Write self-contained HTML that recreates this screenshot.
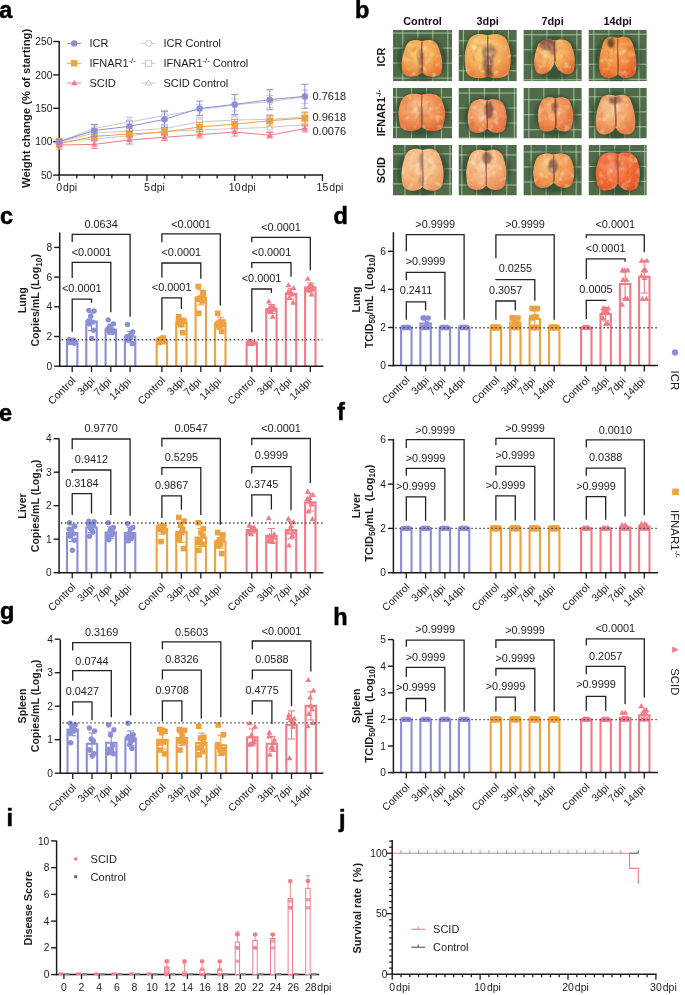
<!DOCTYPE html>
<html><head><meta charset="utf-8"><style>
html,body{margin:0;padding:0;background:#fff;overflow:hidden;}
svg{display:block;font-family:"Liberation Sans", sans-serif;-webkit-font-smoothing:antialiased;will-change:transform;}
</style></head><body>
<svg width="685" height="995" viewBox="0 0 685 995">
<rect width="685" height="995" fill="#fff"/>
<text x="-0.80" y="18.40" font-size="23.5" text-anchor="start" font-weight="bold" fill="#000" stroke="#000" stroke-width="0.5">a</text>
<line x1="59.20" y1="40.90" x2="59.20" y2="175.60" stroke="#1c1c1c" stroke-width="1.5" />
<line x1="58.50" y1="175.00" x2="323.15" y2="175.00" stroke="#1c1c1c" stroke-width="1.5" />
<line x1="53.20" y1="175.10" x2="59.20" y2="175.10" stroke="#1c1c1c" stroke-width="1.4" />
<text x="52.30" y="178.70" font-size="10.2" text-anchor="end" font-weight="normal" fill="#1c1c1c" >50</text>
<line x1="53.20" y1="141.70" x2="59.20" y2="141.70" stroke="#1c1c1c" stroke-width="1.4" />
<text x="52.30" y="145.30" font-size="10.2" text-anchor="end" font-weight="normal" fill="#1c1c1c" >100</text>
<line x1="53.20" y1="108.30" x2="59.20" y2="108.30" stroke="#1c1c1c" stroke-width="1.4" />
<text x="52.30" y="111.90" font-size="10.2" text-anchor="end" font-weight="normal" fill="#1c1c1c" >150</text>
<line x1="53.20" y1="74.90" x2="59.20" y2="74.90" stroke="#1c1c1c" stroke-width="1.4" />
<text x="52.30" y="78.50" font-size="10.2" text-anchor="end" font-weight="normal" fill="#1c1c1c" >200</text>
<line x1="53.20" y1="41.50" x2="59.20" y2="41.50" stroke="#1c1c1c" stroke-width="1.4" />
<text x="52.30" y="45.10" font-size="10.2" text-anchor="end" font-weight="normal" fill="#1c1c1c" >250</text>
<line x1="59.20" y1="175.00" x2="59.20" y2="181.00" stroke="#1c1c1c" stroke-width="1.3" />
<line x1="76.75" y1="175.00" x2="76.75" y2="178.50" stroke="#1c1c1c" stroke-width="1.3" />
<line x1="94.30" y1="175.00" x2="94.30" y2="178.50" stroke="#1c1c1c" stroke-width="1.3" />
<line x1="111.85" y1="175.00" x2="111.85" y2="178.50" stroke="#1c1c1c" stroke-width="1.3" />
<line x1="129.40" y1="175.00" x2="129.40" y2="178.50" stroke="#1c1c1c" stroke-width="1.3" />
<line x1="146.95" y1="175.00" x2="146.95" y2="181.00" stroke="#1c1c1c" stroke-width="1.3" />
<line x1="164.50" y1="175.00" x2="164.50" y2="178.50" stroke="#1c1c1c" stroke-width="1.3" />
<line x1="182.05" y1="175.00" x2="182.05" y2="178.50" stroke="#1c1c1c" stroke-width="1.3" />
<line x1="199.60" y1="175.00" x2="199.60" y2="178.50" stroke="#1c1c1c" stroke-width="1.3" />
<line x1="217.15" y1="175.00" x2="217.15" y2="178.50" stroke="#1c1c1c" stroke-width="1.3" />
<line x1="234.70" y1="175.00" x2="234.70" y2="181.00" stroke="#1c1c1c" stroke-width="1.3" />
<line x1="252.25" y1="175.00" x2="252.25" y2="178.50" stroke="#1c1c1c" stroke-width="1.3" />
<line x1="269.80" y1="175.00" x2="269.80" y2="178.50" stroke="#1c1c1c" stroke-width="1.3" />
<line x1="287.35" y1="175.00" x2="287.35" y2="178.50" stroke="#1c1c1c" stroke-width="1.3" />
<line x1="304.90" y1="175.00" x2="304.90" y2="178.50" stroke="#1c1c1c" stroke-width="1.3" />
<line x1="322.45" y1="175.00" x2="322.45" y2="181.00" stroke="#1c1c1c" stroke-width="1.3" />
<text x="56.28" y="191.30" font-size="10.5" fill="#1c1c1c">0<tspan dx="1">dpi</tspan></text>
<text x="144.03" y="191.30" font-size="10.5" fill="#1c1c1c">5<tspan dx="1">dpi</tspan></text>
<text x="228.86" y="191.30" font-size="10.5" fill="#1c1c1c">10<tspan dx="1">dpi</tspan></text>
<text x="316.61" y="191.30" font-size="10.5" fill="#1c1c1c">15<tspan dx="1">dpi</tspan></text>
<text transform="translate(30.2,108.4) rotate(-90)" font-size="11.3" font-weight="bold" text-anchor="middle" fill="#1c1c1c">Weight change (% of starting)</text>
<polyline points="59.20,141.70 94.30,128.34 129.40,121.93 164.50,115.65 199.60,109.64 234.70,104.96 269.80,101.62 304.90,96.94" fill="none" stroke="#c9c9c9" stroke-width="1.0" />
<line x1="59.20" y1="140.36" x2="59.20" y2="143.04" stroke="#c9c9c9" stroke-width="1" />
<line x1="55.70" y1="140.36" x2="62.70" y2="140.36" stroke="#c9c9c9" stroke-width="1" />
<line x1="55.70" y1="143.04" x2="62.70" y2="143.04" stroke="#c9c9c9" stroke-width="1" />
<line x1="94.30" y1="124.33" x2="94.30" y2="132.35" stroke="#c9c9c9" stroke-width="1" />
<line x1="90.80" y1="124.33" x2="97.80" y2="124.33" stroke="#c9c9c9" stroke-width="1" />
<line x1="90.80" y1="132.35" x2="97.80" y2="132.35" stroke="#c9c9c9" stroke-width="1" />
<line x1="129.40" y1="117.25" x2="129.40" y2="126.60" stroke="#c9c9c9" stroke-width="1" />
<line x1="125.90" y1="117.25" x2="132.90" y2="117.25" stroke="#c9c9c9" stroke-width="1" />
<line x1="125.90" y1="126.60" x2="132.90" y2="126.60" stroke="#c9c9c9" stroke-width="1" />
<line x1="164.50" y1="110.30" x2="164.50" y2="120.99" stroke="#c9c9c9" stroke-width="1" />
<line x1="161.00" y1="110.30" x2="168.00" y2="110.30" stroke="#c9c9c9" stroke-width="1" />
<line x1="161.00" y1="120.99" x2="168.00" y2="120.99" stroke="#c9c9c9" stroke-width="1" />
<line x1="199.60" y1="104.29" x2="199.60" y2="114.98" stroke="#c9c9c9" stroke-width="1" />
<line x1="196.10" y1="104.29" x2="203.10" y2="104.29" stroke="#c9c9c9" stroke-width="1" />
<line x1="196.10" y1="114.98" x2="203.10" y2="114.98" stroke="#c9c9c9" stroke-width="1" />
<line x1="234.70" y1="98.95" x2="234.70" y2="110.97" stroke="#c9c9c9" stroke-width="1" />
<line x1="231.20" y1="98.95" x2="238.20" y2="98.95" stroke="#c9c9c9" stroke-width="1" />
<line x1="231.20" y1="110.97" x2="238.20" y2="110.97" stroke="#c9c9c9" stroke-width="1" />
<line x1="269.80" y1="95.61" x2="269.80" y2="107.63" stroke="#c9c9c9" stroke-width="1" />
<line x1="266.30" y1="95.61" x2="273.30" y2="95.61" stroke="#c9c9c9" stroke-width="1" />
<line x1="266.30" y1="107.63" x2="273.30" y2="107.63" stroke="#c9c9c9" stroke-width="1" />
<line x1="304.90" y1="90.26" x2="304.90" y2="103.62" stroke="#c9c9c9" stroke-width="1" />
<line x1="301.40" y1="90.26" x2="308.40" y2="90.26" stroke="#c9c9c9" stroke-width="1" />
<line x1="301.40" y1="103.62" x2="308.40" y2="103.62" stroke="#c9c9c9" stroke-width="1" />
<circle cx="59.20" cy="141.70" r="3" fill="white" stroke="#c9c9c9" stroke-width="1"/>
<circle cx="94.30" cy="128.34" r="3" fill="white" stroke="#c9c9c9" stroke-width="1"/>
<circle cx="129.40" cy="121.93" r="3" fill="white" stroke="#c9c9c9" stroke-width="1"/>
<circle cx="164.50" cy="115.65" r="3" fill="white" stroke="#c9c9c9" stroke-width="1"/>
<circle cx="199.60" cy="109.64" r="3" fill="white" stroke="#c9c9c9" stroke-width="1"/>
<circle cx="234.70" cy="104.96" r="3" fill="white" stroke="#c9c9c9" stroke-width="1"/>
<circle cx="269.80" cy="101.62" r="3" fill="white" stroke="#c9c9c9" stroke-width="1"/>
<circle cx="304.90" cy="96.94" r="3" fill="white" stroke="#c9c9c9" stroke-width="1"/>
<polyline points="59.20,141.70 94.30,133.02 129.40,131.01 164.50,128.61 199.60,121.99 234.70,119.99 269.80,119.39 304.90,116.98" fill="none" stroke="#c9c9c9" stroke-width="1.0" />
<line x1="59.20" y1="140.36" x2="59.20" y2="143.04" stroke="#c9c9c9" stroke-width="1" />
<line x1="55.70" y1="140.36" x2="62.70" y2="140.36" stroke="#c9c9c9" stroke-width="1" />
<line x1="55.70" y1="143.04" x2="62.70" y2="143.04" stroke="#c9c9c9" stroke-width="1" />
<line x1="94.30" y1="129.68" x2="94.30" y2="136.36" stroke="#c9c9c9" stroke-width="1" />
<line x1="90.80" y1="129.68" x2="97.80" y2="129.68" stroke="#c9c9c9" stroke-width="1" />
<line x1="90.80" y1="136.36" x2="97.80" y2="136.36" stroke="#c9c9c9" stroke-width="1" />
<line x1="129.40" y1="127.00" x2="129.40" y2="135.02" stroke="#c9c9c9" stroke-width="1" />
<line x1="125.90" y1="127.00" x2="132.90" y2="127.00" stroke="#c9c9c9" stroke-width="1" />
<line x1="125.90" y1="135.02" x2="132.90" y2="135.02" stroke="#c9c9c9" stroke-width="1" />
<line x1="164.50" y1="124.60" x2="164.50" y2="132.62" stroke="#c9c9c9" stroke-width="1" />
<line x1="161.00" y1="124.60" x2="168.00" y2="124.60" stroke="#c9c9c9" stroke-width="1" />
<line x1="161.00" y1="132.62" x2="168.00" y2="132.62" stroke="#c9c9c9" stroke-width="1" />
<line x1="199.60" y1="117.99" x2="199.60" y2="126.00" stroke="#c9c9c9" stroke-width="1" />
<line x1="196.10" y1="117.99" x2="203.10" y2="117.99" stroke="#c9c9c9" stroke-width="1" />
<line x1="196.10" y1="126.00" x2="203.10" y2="126.00" stroke="#c9c9c9" stroke-width="1" />
<line x1="234.70" y1="115.31" x2="234.70" y2="124.67" stroke="#c9c9c9" stroke-width="1" />
<line x1="231.20" y1="115.31" x2="238.20" y2="115.31" stroke="#c9c9c9" stroke-width="1" />
<line x1="231.20" y1="124.67" x2="238.20" y2="124.67" stroke="#c9c9c9" stroke-width="1" />
<line x1="269.80" y1="114.71" x2="269.80" y2="124.06" stroke="#c9c9c9" stroke-width="1" />
<line x1="266.30" y1="114.71" x2="273.30" y2="114.71" stroke="#c9c9c9" stroke-width="1" />
<line x1="266.30" y1="124.06" x2="273.30" y2="124.06" stroke="#c9c9c9" stroke-width="1" />
<line x1="304.90" y1="112.31" x2="304.90" y2="121.66" stroke="#c9c9c9" stroke-width="1" />
<line x1="301.40" y1="112.31" x2="308.40" y2="112.31" stroke="#c9c9c9" stroke-width="1" />
<line x1="301.40" y1="121.66" x2="308.40" y2="121.66" stroke="#c9c9c9" stroke-width="1" />
<rect x="56.20" y="138.70" width="6" height="6" fill="white" stroke="#c9c9c9" stroke-width="1"/>
<rect x="91.30" y="130.02" width="6" height="6" fill="white" stroke="#c9c9c9" stroke-width="1"/>
<rect x="126.40" y="128.01" width="6" height="6" fill="white" stroke="#c9c9c9" stroke-width="1"/>
<rect x="161.50" y="125.61" width="6" height="6" fill="white" stroke="#c9c9c9" stroke-width="1"/>
<rect x="196.60" y="118.99" width="6" height="6" fill="white" stroke="#c9c9c9" stroke-width="1"/>
<rect x="231.70" y="116.99" width="6" height="6" fill="white" stroke="#c9c9c9" stroke-width="1"/>
<rect x="266.80" y="116.39" width="6" height="6" fill="white" stroke="#c9c9c9" stroke-width="1"/>
<rect x="301.90" y="113.98" width="6" height="6" fill="white" stroke="#c9c9c9" stroke-width="1"/>
<polyline points="59.20,141.70 94.30,139.03 129.40,135.69 164.50,131.35 199.60,130.01 234.70,128.61 269.80,127.34 304.90,124.67" fill="none" stroke="#c9c9c9" stroke-width="1.0" />
<line x1="59.20" y1="140.36" x2="59.20" y2="143.04" stroke="#c9c9c9" stroke-width="1" />
<line x1="55.70" y1="140.36" x2="62.70" y2="140.36" stroke="#c9c9c9" stroke-width="1" />
<line x1="55.70" y1="143.04" x2="62.70" y2="143.04" stroke="#c9c9c9" stroke-width="1" />
<line x1="94.30" y1="136.36" x2="94.30" y2="141.70" stroke="#c9c9c9" stroke-width="1" />
<line x1="90.80" y1="136.36" x2="97.80" y2="136.36" stroke="#c9c9c9" stroke-width="1" />
<line x1="90.80" y1="141.70" x2="97.80" y2="141.70" stroke="#c9c9c9" stroke-width="1" />
<line x1="129.40" y1="132.35" x2="129.40" y2="139.03" stroke="#c9c9c9" stroke-width="1" />
<line x1="125.90" y1="132.35" x2="132.90" y2="132.35" stroke="#c9c9c9" stroke-width="1" />
<line x1="125.90" y1="139.03" x2="132.90" y2="139.03" stroke="#c9c9c9" stroke-width="1" />
<line x1="164.50" y1="128.01" x2="164.50" y2="134.69" stroke="#c9c9c9" stroke-width="1" />
<line x1="161.00" y1="128.01" x2="168.00" y2="128.01" stroke="#c9c9c9" stroke-width="1" />
<line x1="161.00" y1="134.69" x2="168.00" y2="134.69" stroke="#c9c9c9" stroke-width="1" />
<line x1="199.60" y1="126.67" x2="199.60" y2="133.35" stroke="#c9c9c9" stroke-width="1" />
<line x1="196.10" y1="126.67" x2="203.10" y2="126.67" stroke="#c9c9c9" stroke-width="1" />
<line x1="196.10" y1="133.35" x2="203.10" y2="133.35" stroke="#c9c9c9" stroke-width="1" />
<line x1="234.70" y1="124.60" x2="234.70" y2="132.62" stroke="#c9c9c9" stroke-width="1" />
<line x1="231.20" y1="124.60" x2="238.20" y2="124.60" stroke="#c9c9c9" stroke-width="1" />
<line x1="231.20" y1="132.62" x2="238.20" y2="132.62" stroke="#c9c9c9" stroke-width="1" />
<line x1="269.80" y1="123.33" x2="269.80" y2="131.35" stroke="#c9c9c9" stroke-width="1" />
<line x1="266.30" y1="123.33" x2="273.30" y2="123.33" stroke="#c9c9c9" stroke-width="1" />
<line x1="266.30" y1="131.35" x2="273.30" y2="131.35" stroke="#c9c9c9" stroke-width="1" />
<line x1="304.90" y1="120.66" x2="304.90" y2="128.67" stroke="#c9c9c9" stroke-width="1" />
<line x1="301.40" y1="120.66" x2="308.40" y2="120.66" stroke="#c9c9c9" stroke-width="1" />
<line x1="301.40" y1="128.67" x2="308.40" y2="128.67" stroke="#c9c9c9" stroke-width="1" />
<polygon points="59.20,138.64 56.20,143.74 62.20,143.74" fill="white" stroke="#c9c9c9" stroke-width="1"/>
<polygon points="94.30,135.97 91.30,141.07 97.30,141.07" fill="white" stroke="#c9c9c9" stroke-width="1"/>
<polygon points="129.40,132.63 126.40,137.73 132.40,137.73" fill="white" stroke="#c9c9c9" stroke-width="1"/>
<polygon points="164.50,128.29 161.50,133.39 167.50,133.39" fill="white" stroke="#c9c9c9" stroke-width="1"/>
<polygon points="199.60,126.95 196.60,132.05 202.60,132.05" fill="white" stroke="#c9c9c9" stroke-width="1"/>
<polygon points="234.70,125.55 231.70,130.65 237.70,130.65" fill="white" stroke="#c9c9c9" stroke-width="1"/>
<polygon points="269.80,124.28 266.80,129.38 272.80,129.38" fill="white" stroke="#c9c9c9" stroke-width="1"/>
<polygon points="304.90,121.61 301.90,126.71 307.90,126.71" fill="white" stroke="#c9c9c9" stroke-width="1"/>
<polyline points="59.20,143.70 94.30,136.36 129.40,134.02 164.50,132.01 199.60,127.00 234.70,124.13 269.80,120.72 304.90,118.12" fill="none" stroke="#eea13f" stroke-width="1.0" />
<line x1="59.20" y1="138.36" x2="59.20" y2="149.05" stroke="#eea13f" stroke-width="1" />
<line x1="55.70" y1="138.36" x2="62.70" y2="138.36" stroke="#eea13f" stroke-width="1" />
<line x1="55.70" y1="149.05" x2="62.70" y2="149.05" stroke="#eea13f" stroke-width="1" />
<line x1="94.30" y1="133.02" x2="94.30" y2="139.70" stroke="#eea13f" stroke-width="1" />
<line x1="90.80" y1="133.02" x2="97.80" y2="133.02" stroke="#eea13f" stroke-width="1" />
<line x1="90.80" y1="139.70" x2="97.80" y2="139.70" stroke="#eea13f" stroke-width="1" />
<line x1="129.40" y1="130.68" x2="129.40" y2="137.36" stroke="#eea13f" stroke-width="1" />
<line x1="125.90" y1="130.68" x2="132.90" y2="130.68" stroke="#eea13f" stroke-width="1" />
<line x1="125.90" y1="137.36" x2="132.90" y2="137.36" stroke="#eea13f" stroke-width="1" />
<line x1="164.50" y1="128.67" x2="164.50" y2="135.35" stroke="#eea13f" stroke-width="1" />
<line x1="161.00" y1="128.67" x2="168.00" y2="128.67" stroke="#eea13f" stroke-width="1" />
<line x1="161.00" y1="135.35" x2="168.00" y2="135.35" stroke="#eea13f" stroke-width="1" />
<line x1="199.60" y1="122.33" x2="199.60" y2="131.68" stroke="#eea13f" stroke-width="1" />
<line x1="196.10" y1="122.33" x2="203.10" y2="122.33" stroke="#eea13f" stroke-width="1" />
<line x1="196.10" y1="131.68" x2="203.10" y2="131.68" stroke="#eea13f" stroke-width="1" />
<line x1="234.70" y1="119.46" x2="234.70" y2="128.81" stroke="#eea13f" stroke-width="1" />
<line x1="231.20" y1="119.46" x2="238.20" y2="119.46" stroke="#eea13f" stroke-width="1" />
<line x1="231.20" y1="128.81" x2="238.20" y2="128.81" stroke="#eea13f" stroke-width="1" />
<line x1="269.80" y1="115.38" x2="269.80" y2="126.07" stroke="#eea13f" stroke-width="1" />
<line x1="266.30" y1="115.38" x2="273.30" y2="115.38" stroke="#eea13f" stroke-width="1" />
<line x1="266.30" y1="126.07" x2="273.30" y2="126.07" stroke="#eea13f" stroke-width="1" />
<line x1="304.90" y1="112.11" x2="304.90" y2="124.13" stroke="#eea13f" stroke-width="1" />
<line x1="301.40" y1="112.11" x2="308.40" y2="112.11" stroke="#eea13f" stroke-width="1" />
<line x1="301.40" y1="124.13" x2="308.40" y2="124.13" stroke="#eea13f" stroke-width="1" />
<rect x="56.00" y="140.50" width="6.4" height="6.4" fill="#eea13f" stroke="none" stroke-width="1"/>
<rect x="91.10" y="133.16" width="6.4" height="6.4" fill="#eea13f" stroke="none" stroke-width="1"/>
<rect x="126.20" y="130.82" width="6.4" height="6.4" fill="#eea13f" stroke="none" stroke-width="1"/>
<rect x="161.30" y="128.81" width="6.4" height="6.4" fill="#eea13f" stroke="none" stroke-width="1"/>
<rect x="196.40" y="123.80" width="6.4" height="6.4" fill="#eea13f" stroke="none" stroke-width="1"/>
<rect x="231.50" y="120.93" width="6.4" height="6.4" fill="#eea13f" stroke="none" stroke-width="1"/>
<rect x="266.60" y="117.52" width="6.4" height="6.4" fill="#eea13f" stroke="none" stroke-width="1"/>
<rect x="301.70" y="114.92" width="6.4" height="6.4" fill="#eea13f" stroke="none" stroke-width="1"/>
<polyline points="59.20,145.04 94.30,144.37 129.40,140.03 164.50,137.29 199.60,134.69 234.70,132.01 269.80,135.22 304.90,128.61" fill="none" stroke="#f07c88" stroke-width="1.0" />
<line x1="59.20" y1="143.04" x2="59.20" y2="147.04" stroke="#f07c88" stroke-width="1" />
<line x1="55.70" y1="143.04" x2="62.70" y2="143.04" stroke="#f07c88" stroke-width="1" />
<line x1="55.70" y1="147.04" x2="62.70" y2="147.04" stroke="#f07c88" stroke-width="1" />
<line x1="94.30" y1="140.36" x2="94.30" y2="148.38" stroke="#f07c88" stroke-width="1" />
<line x1="90.80" y1="140.36" x2="97.80" y2="140.36" stroke="#f07c88" stroke-width="1" />
<line x1="90.80" y1="148.38" x2="97.80" y2="148.38" stroke="#f07c88" stroke-width="1" />
<line x1="129.40" y1="136.02" x2="129.40" y2="144.04" stroke="#f07c88" stroke-width="1" />
<line x1="125.90" y1="136.02" x2="132.90" y2="136.02" stroke="#f07c88" stroke-width="1" />
<line x1="125.90" y1="144.04" x2="132.90" y2="144.04" stroke="#f07c88" stroke-width="1" />
<line x1="164.50" y1="133.95" x2="164.50" y2="140.63" stroke="#f07c88" stroke-width="1" />
<line x1="161.00" y1="133.95" x2="168.00" y2="133.95" stroke="#f07c88" stroke-width="1" />
<line x1="161.00" y1="140.63" x2="168.00" y2="140.63" stroke="#f07c88" stroke-width="1" />
<line x1="199.60" y1="131.35" x2="199.60" y2="138.03" stroke="#f07c88" stroke-width="1" />
<line x1="196.10" y1="131.35" x2="203.10" y2="131.35" stroke="#f07c88" stroke-width="1" />
<line x1="196.10" y1="138.03" x2="203.10" y2="138.03" stroke="#f07c88" stroke-width="1" />
<line x1="234.70" y1="128.01" x2="234.70" y2="136.02" stroke="#f07c88" stroke-width="1" />
<line x1="231.20" y1="128.01" x2="238.20" y2="128.01" stroke="#f07c88" stroke-width="1" />
<line x1="231.20" y1="136.02" x2="238.20" y2="136.02" stroke="#f07c88" stroke-width="1" />
<line x1="269.80" y1="132.55" x2="269.80" y2="137.89" stroke="#f07c88" stroke-width="1" />
<line x1="266.30" y1="132.55" x2="273.30" y2="132.55" stroke="#f07c88" stroke-width="1" />
<line x1="266.30" y1="137.89" x2="273.30" y2="137.89" stroke="#f07c88" stroke-width="1" />
<line x1="304.90" y1="125.27" x2="304.90" y2="131.95" stroke="#f07c88" stroke-width="1" />
<line x1="301.40" y1="125.27" x2="308.40" y2="125.27" stroke="#f07c88" stroke-width="1" />
<line x1="301.40" y1="131.95" x2="308.40" y2="131.95" stroke="#f07c88" stroke-width="1" />
<polygon points="59.20,141.78 56.00,147.22 62.40,147.22" fill="#f07c88" stroke="none" stroke-width="1"/>
<polygon points="94.30,141.11 91.10,146.55 97.50,146.55" fill="#f07c88" stroke="none" stroke-width="1"/>
<polygon points="129.40,136.77 126.20,142.21 132.60,142.21" fill="#f07c88" stroke="none" stroke-width="1"/>
<polygon points="164.50,134.03 161.30,139.47 167.70,139.47" fill="#f07c88" stroke="none" stroke-width="1"/>
<polygon points="199.60,131.42 196.40,136.86 202.80,136.86" fill="#f07c88" stroke="none" stroke-width="1"/>
<polygon points="234.70,128.75 231.50,134.19 237.90,134.19" fill="#f07c88" stroke="none" stroke-width="1"/>
<polygon points="269.80,131.96 266.60,137.40 273.00,137.40" fill="#f07c88" stroke="none" stroke-width="1"/>
<polygon points="304.90,125.34 301.70,130.78 308.10,130.78" fill="#f07c88" stroke="none" stroke-width="1"/>
<polyline points="59.20,141.70 94.30,130.48 129.40,126.34 164.50,119.32 199.60,108.43 234.70,104.43 269.80,99.68 304.90,96.28" fill="none" stroke="#8b8fd7" stroke-width="1.0" />
<line x1="59.20" y1="139.70" x2="59.20" y2="143.70" stroke="#8b8fd7" stroke-width="1" />
<line x1="55.70" y1="139.70" x2="62.70" y2="139.70" stroke="#8b8fd7" stroke-width="1" />
<line x1="55.70" y1="143.70" x2="62.70" y2="143.70" stroke="#8b8fd7" stroke-width="1" />
<line x1="94.30" y1="124.47" x2="94.30" y2="136.49" stroke="#8b8fd7" stroke-width="1" />
<line x1="90.80" y1="124.47" x2="97.80" y2="124.47" stroke="#8b8fd7" stroke-width="1" />
<line x1="90.80" y1="136.49" x2="97.80" y2="136.49" stroke="#8b8fd7" stroke-width="1" />
<line x1="129.40" y1="120.99" x2="129.40" y2="131.68" stroke="#8b8fd7" stroke-width="1" />
<line x1="125.90" y1="120.99" x2="132.90" y2="120.99" stroke="#8b8fd7" stroke-width="1" />
<line x1="125.90" y1="131.68" x2="132.90" y2="131.68" stroke="#8b8fd7" stroke-width="1" />
<line x1="164.50" y1="111.31" x2="164.50" y2="127.34" stroke="#8b8fd7" stroke-width="1" />
<line x1="161.00" y1="111.31" x2="168.00" y2="111.31" stroke="#8b8fd7" stroke-width="1" />
<line x1="161.00" y1="127.34" x2="168.00" y2="127.34" stroke="#8b8fd7" stroke-width="1" />
<line x1="199.60" y1="101.09" x2="199.60" y2="115.78" stroke="#8b8fd7" stroke-width="1" />
<line x1="196.10" y1="101.09" x2="203.10" y2="101.09" stroke="#8b8fd7" stroke-width="1" />
<line x1="196.10" y1="115.78" x2="203.10" y2="115.78" stroke="#8b8fd7" stroke-width="1" />
<line x1="234.70" y1="94.41" x2="234.70" y2="114.45" stroke="#8b8fd7" stroke-width="1" />
<line x1="231.20" y1="94.41" x2="238.20" y2="94.41" stroke="#8b8fd7" stroke-width="1" />
<line x1="231.20" y1="114.45" x2="238.20" y2="114.45" stroke="#8b8fd7" stroke-width="1" />
<line x1="269.80" y1="89.66" x2="269.80" y2="109.70" stroke="#8b8fd7" stroke-width="1" />
<line x1="266.30" y1="89.66" x2="273.30" y2="89.66" stroke="#8b8fd7" stroke-width="1" />
<line x1="266.30" y1="109.70" x2="273.30" y2="109.70" stroke="#8b8fd7" stroke-width="1" />
<line x1="304.90" y1="84.25" x2="304.90" y2="108.30" stroke="#8b8fd7" stroke-width="1" />
<line x1="301.40" y1="84.25" x2="308.40" y2="84.25" stroke="#8b8fd7" stroke-width="1" />
<line x1="301.40" y1="108.30" x2="308.40" y2="108.30" stroke="#8b8fd7" stroke-width="1" />
<circle cx="59.20" cy="141.70" r="3.2" fill="#8b8fd7" stroke="none" stroke-width="1"/>
<circle cx="94.30" cy="130.48" r="3.2" fill="#8b8fd7" stroke="none" stroke-width="1"/>
<circle cx="129.40" cy="126.34" r="3.2" fill="#8b8fd7" stroke="none" stroke-width="1"/>
<circle cx="164.50" cy="119.32" r="3.2" fill="#8b8fd7" stroke="none" stroke-width="1"/>
<circle cx="199.60" cy="108.43" r="3.2" fill="#8b8fd7" stroke="none" stroke-width="1"/>
<circle cx="234.70" cy="104.43" r="3.2" fill="#8b8fd7" stroke="none" stroke-width="1"/>
<circle cx="269.80" cy="99.68" r="3.2" fill="#8b8fd7" stroke="none" stroke-width="1"/>
<circle cx="304.90" cy="96.28" r="3.2" fill="#8b8fd7" stroke="none" stroke-width="1"/>
<text x="312.50" y="99.50" font-size="11" text-anchor="start" font-weight="normal" fill="#1c1c1c" >0.7618</text>
<text x="312.50" y="121.30" font-size="11" text-anchor="start" font-weight="normal" fill="#1c1c1c" >0.9618</text>
<text x="312.50" y="134.60" font-size="11" text-anchor="start" font-weight="normal" fill="#1c1c1c" >0.0076</text>
<line x1="67.00" y1="43.40" x2="81.00" y2="43.40" stroke="#8b8fd7" stroke-width="1" />
<circle cx="74.20" cy="43.40" r="3.2" fill="#8b8fd7" stroke="none" stroke-width="1"/>
<text x="89.50" y="47.40" font-size="11" text-anchor="start" font-weight="normal" fill="#1c1c1c" >ICR</text>
<line x1="67.00" y1="63.30" x2="81.00" y2="63.30" stroke="#eea13f" stroke-width="1" />
<rect x="71.00" y="60.10" width="6.4" height="6.4" fill="#eea13f" stroke="none" stroke-width="1"/>
<text x="89.50" y="67.30" font-size="11" text-anchor="start" font-weight="normal" fill="#1c1c1c" >IFNAR1<tspan dy="-4" font-size="7.5">-/-</tspan></text>
<line x1="67.00" y1="83.00" x2="81.00" y2="83.00" stroke="#f07c88" stroke-width="1" />
<polygon points="74.20,79.74 71.00,85.18 77.40,85.18" fill="#f07c88" stroke="none" stroke-width="1"/>
<text x="89.50" y="87.00" font-size="11" text-anchor="start" font-weight="normal" fill="#1c1c1c" >SCID</text>
<line x1="141.50" y1="43.40" x2="155.50" y2="43.40" stroke="#c9c9c9" stroke-width="1" />
<circle cx="148.60" cy="43.40" r="3" fill="white" stroke="#c9c9c9" stroke-width="1"/>
<text x="163.50" y="47.40" font-size="11" text-anchor="start" font-weight="normal" fill="#1c1c1c" >ICR Control</text>
<line x1="141.50" y1="63.30" x2="155.50" y2="63.30" stroke="#c9c9c9" stroke-width="1" />
<rect x="145.60" y="60.30" width="6" height="6" fill="white" stroke="#c9c9c9" stroke-width="1"/>
<text x="163.50" y="67.30" font-size="11" text-anchor="start" font-weight="normal" fill="#1c1c1c" >IFNAR1<tspan dy="-4" font-size="7.5">-/-</tspan><tspan dy="4"> Control</tspan></text>
<line x1="141.50" y1="83.00" x2="155.50" y2="83.00" stroke="#c9c9c9" stroke-width="1" />
<polygon points="148.60,79.94 145.60,85.04 151.60,85.04" fill="white" stroke="#c9c9c9" stroke-width="1"/>
<text x="163.50" y="87.00" font-size="11" text-anchor="start" font-weight="normal" fill="#1c1c1c" >SCID Control</text>
<text x="0.00" y="223.60" font-size="23.5" text-anchor="start" font-weight="bold" fill="#000" stroke="#000" stroke-width="0.5">c</text>
<path d="M67.00,366.20 V341.70 H77.40 V366.20" fill="none" stroke="#8b8fd7" stroke-width="2.1"/>
<line x1="72.20" y1="340.51" x2="72.20" y2="342.89" stroke="#8b8fd7" stroke-width="1.1" />
<line x1="68.70" y1="340.51" x2="75.70" y2="340.51" stroke="#8b8fd7" stroke-width="1.1" />
<line x1="68.70" y1="342.89" x2="75.70" y2="342.89" stroke="#8b8fd7" stroke-width="1.1" />
<circle cx="69.60" cy="342.44" r="2.7" fill="#8b8fd7" stroke="none" stroke-width="1"/>
<circle cx="74.80" cy="341.70" r="2.7" fill="#8b8fd7" stroke="none" stroke-width="1"/>
<circle cx="71.40" cy="340.95" r="2.7" fill="#8b8fd7" stroke="none" stroke-width="1"/>
<circle cx="73.50" cy="340.21" r="2.7" fill="#8b8fd7" stroke="none" stroke-width="1"/>
<circle cx="70.20" cy="342.44" r="2.7" fill="#8b8fd7" stroke="none" stroke-width="1"/>
<circle cx="74.30" cy="343.18" r="2.7" fill="#8b8fd7" stroke="none" stroke-width="1"/>
<circle cx="72.40" cy="340.95" r="2.7" fill="#8b8fd7" stroke="none" stroke-width="1"/>
<circle cx="69.20" cy="339.47" r="2.7" fill="#8b8fd7" stroke="none" stroke-width="1"/>
<path d="M86.30,366.20 V321.65 H96.70 V366.20" fill="none" stroke="#8b8fd7" stroke-width="2.1"/>
<line x1="91.50" y1="312.74" x2="91.50" y2="330.56" stroke="#8b8fd7" stroke-width="1.1" />
<line x1="88.00" y1="312.74" x2="95.00" y2="312.74" stroke="#8b8fd7" stroke-width="1.1" />
<line x1="88.00" y1="330.56" x2="95.00" y2="330.56" stroke="#8b8fd7" stroke-width="1.1" />
<circle cx="88.90" cy="310.36" r="2.7" fill="#8b8fd7" stroke="none" stroke-width="1"/>
<circle cx="94.10" cy="310.96" r="2.7" fill="#8b8fd7" stroke="none" stroke-width="1"/>
<circle cx="90.70" cy="316.30" r="2.7" fill="#8b8fd7" stroke="none" stroke-width="1"/>
<circle cx="92.80" cy="322.10" r="2.7" fill="#8b8fd7" stroke="none" stroke-width="1"/>
<circle cx="89.50" cy="323.88" r="2.7" fill="#8b8fd7" stroke="none" stroke-width="1"/>
<circle cx="93.60" cy="330.26" r="2.7" fill="#8b8fd7" stroke="none" stroke-width="1"/>
<circle cx="91.70" cy="338.43" r="2.7" fill="#8b8fd7" stroke="none" stroke-width="1"/>
<circle cx="88.50" cy="320.91" r="2.7" fill="#8b8fd7" stroke="none" stroke-width="1"/>
<path d="M105.60,366.20 V329.82 H116.00 V366.20" fill="none" stroke="#8b8fd7" stroke-width="2.1"/>
<line x1="110.80" y1="325.36" x2="110.80" y2="334.27" stroke="#8b8fd7" stroke-width="1.1" />
<line x1="107.30" y1="325.36" x2="114.30" y2="325.36" stroke="#8b8fd7" stroke-width="1.1" />
<line x1="107.30" y1="334.27" x2="114.30" y2="334.27" stroke="#8b8fd7" stroke-width="1.1" />
<circle cx="108.20" cy="319.87" r="2.7" fill="#8b8fd7" stroke="none" stroke-width="1"/>
<circle cx="113.40" cy="323.88" r="2.7" fill="#8b8fd7" stroke="none" stroke-width="1"/>
<circle cx="110.00" cy="326.25" r="2.7" fill="#8b8fd7" stroke="none" stroke-width="1"/>
<circle cx="112.10" cy="329.67" r="2.7" fill="#8b8fd7" stroke="none" stroke-width="1"/>
<circle cx="108.80" cy="331.30" r="2.7" fill="#8b8fd7" stroke="none" stroke-width="1"/>
<circle cx="112.90" cy="332.05" r="2.7" fill="#8b8fd7" stroke="none" stroke-width="1"/>
<circle cx="111.00" cy="330.56" r="2.7" fill="#8b8fd7" stroke="none" stroke-width="1"/>
<circle cx="107.80" cy="329.07" r="2.7" fill="#8b8fd7" stroke="none" stroke-width="1"/>
<path d="M124.90,366.20 V336.50 H135.30 V366.20" fill="none" stroke="#8b8fd7" stroke-width="2.1"/>
<line x1="130.10" y1="331.30" x2="130.10" y2="341.70" stroke="#8b8fd7" stroke-width="1.1" />
<line x1="126.60" y1="331.30" x2="133.60" y2="331.30" stroke="#8b8fd7" stroke-width="1.1" />
<line x1="126.60" y1="341.70" x2="133.60" y2="341.70" stroke="#8b8fd7" stroke-width="1.1" />
<circle cx="127.50" cy="324.47" r="2.7" fill="#8b8fd7" stroke="none" stroke-width="1"/>
<circle cx="132.70" cy="332.05" r="2.7" fill="#8b8fd7" stroke="none" stroke-width="1"/>
<circle cx="129.30" cy="336.05" r="2.7" fill="#8b8fd7" stroke="none" stroke-width="1"/>
<circle cx="131.40" cy="334.27" r="2.7" fill="#8b8fd7" stroke="none" stroke-width="1"/>
<circle cx="128.10" cy="340.21" r="2.7" fill="#8b8fd7" stroke="none" stroke-width="1"/>
<circle cx="132.20" cy="343.63" r="2.7" fill="#8b8fd7" stroke="none" stroke-width="1"/>
<circle cx="130.30" cy="337.99" r="2.7" fill="#8b8fd7" stroke="none" stroke-width="1"/>
<circle cx="127.10" cy="336.50" r="2.7" fill="#8b8fd7" stroke="none" stroke-width="1"/>
<path d="M156.70,366.20 V340.21 H167.10 V366.20" fill="none" stroke="#eea13f" stroke-width="2.1"/>
<line x1="161.90" y1="338.73" x2="161.90" y2="341.70" stroke="#eea13f" stroke-width="1.1" />
<line x1="158.40" y1="338.73" x2="165.40" y2="338.73" stroke="#eea13f" stroke-width="1.1" />
<line x1="158.40" y1="341.70" x2="165.40" y2="341.70" stroke="#eea13f" stroke-width="1.1" />
<rect x="156.50" y="339.64" width="5.6" height="5.6" fill="#eea13f" stroke="none" stroke-width="1"/>
<rect x="161.70" y="338.15" width="5.6" height="5.6" fill="#eea13f" stroke="none" stroke-width="1"/>
<rect x="158.30" y="336.67" width="5.6" height="5.6" fill="#eea13f" stroke="none" stroke-width="1"/>
<rect x="160.40" y="335.19" width="5.6" height="5.6" fill="#eea13f" stroke="none" stroke-width="1"/>
<rect x="157.10" y="337.41" width="5.6" height="5.6" fill="#eea13f" stroke="none" stroke-width="1"/>
<rect x="161.20" y="338.90" width="5.6" height="5.6" fill="#eea13f" stroke="none" stroke-width="1"/>
<rect x="159.30" y="335.93" width="5.6" height="5.6" fill="#eea13f" stroke="none" stroke-width="1"/>
<rect x="156.10" y="337.41" width="5.6" height="5.6" fill="#eea13f" stroke="none" stroke-width="1"/>
<path d="M176.20,366.20 V322.39 H186.60 V366.20" fill="none" stroke="#eea13f" stroke-width="2.1"/>
<line x1="181.40" y1="317.94" x2="181.40" y2="326.85" stroke="#eea13f" stroke-width="1.1" />
<line x1="177.90" y1="317.94" x2="184.90" y2="317.94" stroke="#eea13f" stroke-width="1.1" />
<line x1="177.90" y1="326.85" x2="184.90" y2="326.85" stroke="#eea13f" stroke-width="1.1" />
<rect x="176.00" y="313.95" width="5.6" height="5.6" fill="#eea13f" stroke="none" stroke-width="1"/>
<rect x="181.20" y="318.11" width="5.6" height="5.6" fill="#eea13f" stroke="none" stroke-width="1"/>
<rect x="177.80" y="321.67" width="5.6" height="5.6" fill="#eea13f" stroke="none" stroke-width="1"/>
<rect x="179.90" y="329.84" width="5.6" height="5.6" fill="#eea13f" stroke="none" stroke-width="1"/>
<rect x="176.60" y="320.33" width="5.6" height="5.6" fill="#eea13f" stroke="none" stroke-width="1"/>
<rect x="180.70" y="318.85" width="5.6" height="5.6" fill="#eea13f" stroke="none" stroke-width="1"/>
<rect x="178.80" y="321.08" width="5.6" height="5.6" fill="#eea13f" stroke="none" stroke-width="1"/>
<rect x="175.60" y="317.36" width="5.6" height="5.6" fill="#eea13f" stroke="none" stroke-width="1"/>
<path d="M195.60,366.20 V297.44 H206.00 V366.20" fill="none" stroke="#eea13f" stroke-width="2.1"/>
<line x1="200.80" y1="290.02" x2="200.80" y2="304.87" stroke="#eea13f" stroke-width="1.1" />
<line x1="197.30" y1="290.02" x2="204.30" y2="290.02" stroke="#eea13f" stroke-width="1.1" />
<line x1="197.30" y1="304.87" x2="204.30" y2="304.87" stroke="#eea13f" stroke-width="1.1" />
<rect x="195.40" y="283.66" width="5.6" height="5.6" fill="#eea13f" stroke="none" stroke-width="1"/>
<rect x="200.60" y="290.04" width="5.6" height="5.6" fill="#eea13f" stroke="none" stroke-width="1"/>
<rect x="197.20" y="295.83" width="5.6" height="5.6" fill="#eea13f" stroke="none" stroke-width="1"/>
<rect x="199.30" y="298.21" width="5.6" height="5.6" fill="#eea13f" stroke="none" stroke-width="1"/>
<rect x="196.00" y="310.53" width="5.6" height="5.6" fill="#eea13f" stroke="none" stroke-width="1"/>
<rect x="200.10" y="292.12" width="5.6" height="5.6" fill="#eea13f" stroke="none" stroke-width="1"/>
<rect x="198.20" y="295.09" width="5.6" height="5.6" fill="#eea13f" stroke="none" stroke-width="1"/>
<rect x="195.00" y="296.57" width="5.6" height="5.6" fill="#eea13f" stroke="none" stroke-width="1"/>
<path d="M215.10,366.20 V323.13 H225.50 V366.20" fill="none" stroke="#eea13f" stroke-width="2.1"/>
<line x1="220.30" y1="317.19" x2="220.30" y2="329.07" stroke="#eea13f" stroke-width="1.1" />
<line x1="216.80" y1="317.19" x2="223.80" y2="317.19" stroke="#eea13f" stroke-width="1.1" />
<line x1="216.80" y1="329.07" x2="223.80" y2="329.07" stroke="#eea13f" stroke-width="1.1" />
<rect x="214.90" y="310.53" width="5.6" height="5.6" fill="#eea13f" stroke="none" stroke-width="1"/>
<rect x="220.10" y="319.15" width="5.6" height="5.6" fill="#eea13f" stroke="none" stroke-width="1"/>
<rect x="216.70" y="323.90" width="5.6" height="5.6" fill="#eea13f" stroke="none" stroke-width="1"/>
<rect x="218.80" y="328.65" width="5.6" height="5.6" fill="#eea13f" stroke="none" stroke-width="1"/>
<rect x="215.50" y="320.33" width="5.6" height="5.6" fill="#eea13f" stroke="none" stroke-width="1"/>
<rect x="219.60" y="321.82" width="5.6" height="5.6" fill="#eea13f" stroke="none" stroke-width="1"/>
<rect x="217.70" y="318.85" width="5.6" height="5.6" fill="#eea13f" stroke="none" stroke-width="1"/>
<rect x="214.50" y="323.31" width="5.6" height="5.6" fill="#eea13f" stroke="none" stroke-width="1"/>
<path d="M246.60,366.20 V342.44 H257.00 V366.20" fill="none" stroke="#f07c88" stroke-width="2.1"/>
<line x1="251.80" y1="341.40" x2="251.80" y2="343.48" stroke="#f07c88" stroke-width="1.1" />
<line x1="248.30" y1="341.40" x2="255.30" y2="341.40" stroke="#f07c88" stroke-width="1.1" />
<line x1="248.30" y1="343.48" x2="255.30" y2="343.48" stroke="#f07c88" stroke-width="1.1" />
<polygon points="249.20,340.87 246.20,345.97 252.20,345.97" fill="#f07c88" stroke="none" stroke-width="1"/>
<polygon points="254.40,339.38 251.40,344.48 257.40,344.48" fill="#f07c88" stroke="none" stroke-width="1"/>
<polygon points="251.00,337.89 248.00,343.00 254.00,343.00" fill="#f07c88" stroke="none" stroke-width="1"/>
<polygon points="253.10,340.12 250.10,345.22 256.10,345.22" fill="#f07c88" stroke="none" stroke-width="1"/>
<polygon points="249.80,338.64 246.80,343.74 252.80,343.74" fill="#f07c88" stroke="none" stroke-width="1"/>
<polygon points="253.90,339.38 250.90,344.48 256.90,344.48" fill="#f07c88" stroke="none" stroke-width="1"/>
<polygon points="252.00,340.87 249.00,345.97 255.00,345.97" fill="#f07c88" stroke="none" stroke-width="1"/>
<polygon points="248.80,337.89 245.80,343.00 251.80,343.00" fill="#f07c88" stroke="none" stroke-width="1"/>
<path d="M266.20,366.20 V309.03 H276.60 V366.20" fill="none" stroke="#f07c88" stroke-width="2.1"/>
<line x1="271.40" y1="304.57" x2="271.40" y2="313.48" stroke="#f07c88" stroke-width="1.1" />
<line x1="267.90" y1="304.57" x2="274.90" y2="304.57" stroke="#f07c88" stroke-width="1.1" />
<line x1="267.90" y1="313.48" x2="274.90" y2="313.48" stroke="#f07c88" stroke-width="1.1" />
<polygon points="268.80,298.39 265.80,303.49 271.80,303.49" fill="#f07c88" stroke="none" stroke-width="1"/>
<polygon points="274.00,304.33 271.00,309.43 277.00,309.43" fill="#f07c88" stroke="none" stroke-width="1"/>
<polygon points="270.60,307.90 267.60,313.00 273.60,313.00" fill="#f07c88" stroke="none" stroke-width="1"/>
<polygon points="272.70,313.69 269.70,318.79 275.70,318.79" fill="#f07c88" stroke="none" stroke-width="1"/>
<polygon points="269.40,305.22 266.40,310.32 272.40,310.32" fill="#f07c88" stroke="none" stroke-width="1"/>
<polygon points="273.50,306.71 270.50,311.81 276.50,311.81" fill="#f07c88" stroke="none" stroke-width="1"/>
<polygon points="271.60,303.74 268.60,308.84 274.60,308.84" fill="#f07c88" stroke="none" stroke-width="1"/>
<polygon points="268.40,308.19 265.40,313.30 271.40,313.30" fill="#f07c88" stroke="none" stroke-width="1"/>
<path d="M285.80,366.20 V293.88 H296.20 V366.20" fill="none" stroke="#f07c88" stroke-width="2.1"/>
<line x1="291.00" y1="288.68" x2="291.00" y2="299.08" stroke="#f07c88" stroke-width="1.1" />
<line x1="287.50" y1="288.68" x2="294.50" y2="288.68" stroke="#f07c88" stroke-width="1.1" />
<line x1="287.50" y1="299.08" x2="294.50" y2="299.08" stroke="#f07c88" stroke-width="1.1" />
<polygon points="288.40,282.21 285.40,287.31 291.40,287.31" fill="#f07c88" stroke="none" stroke-width="1"/>
<polygon points="293.60,285.03 290.60,290.13 296.60,290.13" fill="#f07c88" stroke="none" stroke-width="1"/>
<polygon points="290.20,288.59 287.20,293.69 293.20,293.69" fill="#f07c88" stroke="none" stroke-width="1"/>
<polygon points="292.30,291.41 289.30,296.51 295.30,296.51" fill="#f07c88" stroke="none" stroke-width="1"/>
<polygon points="289.00,294.98 286.00,300.08 292.00,300.08" fill="#f07c88" stroke="none" stroke-width="1"/>
<polygon points="293.10,299.58 290.10,304.68 296.10,304.68" fill="#f07c88" stroke="none" stroke-width="1"/>
<polygon points="291.20,290.38 288.20,295.48 294.20,295.48" fill="#f07c88" stroke="none" stroke-width="1"/>
<polygon points="288.00,288.89 285.00,293.99 291.00,293.99" fill="#f07c88" stroke="none" stroke-width="1"/>
<path d="M305.10,366.20 V287.50 H315.50 V366.20" fill="none" stroke="#f07c88" stroke-width="2.1"/>
<line x1="310.30" y1="283.04" x2="310.30" y2="291.95" stroke="#f07c88" stroke-width="1.1" />
<line x1="306.80" y1="283.04" x2="313.80" y2="283.04" stroke="#f07c88" stroke-width="1.1" />
<line x1="306.80" y1="291.95" x2="313.80" y2="291.95" stroke="#f07c88" stroke-width="1.1" />
<polygon points="307.70,275.67 304.70,280.77 310.70,280.77" fill="#f07c88" stroke="none" stroke-width="1"/>
<polygon points="312.90,283.40 309.90,288.50 315.90,288.50" fill="#f07c88" stroke="none" stroke-width="1"/>
<polygon points="309.50,286.81 306.50,291.91 312.50,291.91" fill="#f07c88" stroke="none" stroke-width="1"/>
<polygon points="311.60,291.41 308.60,296.51 314.60,296.51" fill="#f07c88" stroke="none" stroke-width="1"/>
<polygon points="308.30,284.44 305.30,289.54 311.30,289.54" fill="#f07c88" stroke="none" stroke-width="1"/>
<polygon points="312.40,285.92 309.40,291.02 315.40,291.02" fill="#f07c88" stroke="none" stroke-width="1"/>
<polygon points="310.50,281.46 307.50,286.56 313.50,286.56" fill="#f07c88" stroke="none" stroke-width="1"/>
<polygon points="307.30,287.40 304.30,292.50 310.30,292.50" fill="#f07c88" stroke="none" stroke-width="1"/>
<line x1="61.70" y1="339.70" x2="322.40" y2="339.70" stroke="#3a3a3a" stroke-width="1.35" stroke-dasharray="1.4 2.6"/>
<line x1="59.70" y1="232.40" x2="59.70" y2="366.90" stroke="#1c1c1c" stroke-width="1.5" />
<line x1="59.00" y1="366.20" x2="323.40" y2="366.20" stroke="#1c1c1c" stroke-width="1.5" />
<line x1="54.20" y1="366.20" x2="59.70" y2="366.20" stroke="#1c1c1c" stroke-width="1.4" />
<text x="52.20" y="369.80" font-size="10.2" text-anchor="end" font-weight="normal" fill="#1c1c1c" >0</text>
<line x1="54.20" y1="336.50" x2="59.70" y2="336.50" stroke="#1c1c1c" stroke-width="1.4" />
<text x="52.20" y="340.10" font-size="10.2" text-anchor="end" font-weight="normal" fill="#1c1c1c" >2</text>
<line x1="54.20" y1="306.80" x2="59.70" y2="306.80" stroke="#1c1c1c" stroke-width="1.4" />
<text x="52.20" y="310.40" font-size="10.2" text-anchor="end" font-weight="normal" fill="#1c1c1c" >4</text>
<line x1="54.20" y1="277.10" x2="59.70" y2="277.10" stroke="#1c1c1c" stroke-width="1.4" />
<text x="52.20" y="280.70" font-size="10.2" text-anchor="end" font-weight="normal" fill="#1c1c1c" >6</text>
<line x1="54.20" y1="247.40" x2="59.70" y2="247.40" stroke="#1c1c1c" stroke-width="1.4" />
<text x="52.20" y="251.00" font-size="10.2" text-anchor="end" font-weight="normal" fill="#1c1c1c" >8</text>
<line x1="72.20" y1="366.20" x2="72.20" y2="372.00" stroke="#1c1c1c" stroke-width="1.3" />
<text transform="translate(76.20,381.20) rotate(-45)" font-size="10.5" text-anchor="end" fill="#1c1c1c">Control</text>
<line x1="91.50" y1="366.20" x2="91.50" y2="372.00" stroke="#1c1c1c" stroke-width="1.3" />
<text transform="translate(95.50,381.70) rotate(-45)" font-size="10.5" text-anchor="end" fill="#1c1c1c">3dpi</text>
<line x1="110.80" y1="366.20" x2="110.80" y2="372.00" stroke="#1c1c1c" stroke-width="1.3" />
<text transform="translate(112.00,382.20) rotate(-45)" font-size="10.5" text-anchor="end" fill="#1c1c1c">7dpi</text>
<line x1="130.10" y1="366.20" x2="130.10" y2="372.00" stroke="#1c1c1c" stroke-width="1.3" />
<text transform="translate(131.60,382.40) rotate(-45)" font-size="10.5" text-anchor="end" fill="#1c1c1c">14dpi</text>
<line x1="161.90" y1="366.20" x2="161.90" y2="372.00" stroke="#1c1c1c" stroke-width="1.3" />
<text transform="translate(165.90,381.20) rotate(-45)" font-size="10.5" text-anchor="end" fill="#1c1c1c">Control</text>
<line x1="181.40" y1="366.20" x2="181.40" y2="372.00" stroke="#1c1c1c" stroke-width="1.3" />
<text transform="translate(185.40,381.70) rotate(-45)" font-size="10.5" text-anchor="end" fill="#1c1c1c">3dpi</text>
<line x1="200.80" y1="366.20" x2="200.80" y2="372.00" stroke="#1c1c1c" stroke-width="1.3" />
<text transform="translate(202.00,382.20) rotate(-45)" font-size="10.5" text-anchor="end" fill="#1c1c1c">7dpi</text>
<line x1="220.30" y1="366.20" x2="220.30" y2="372.00" stroke="#1c1c1c" stroke-width="1.3" />
<text transform="translate(221.80,382.40) rotate(-45)" font-size="10.5" text-anchor="end" fill="#1c1c1c">14dpi</text>
<line x1="251.80" y1="366.20" x2="251.80" y2="372.00" stroke="#1c1c1c" stroke-width="1.3" />
<text transform="translate(255.80,381.20) rotate(-45)" font-size="10.5" text-anchor="end" fill="#1c1c1c">Control</text>
<line x1="271.40" y1="366.20" x2="271.40" y2="372.00" stroke="#1c1c1c" stroke-width="1.3" />
<text transform="translate(275.40,381.70) rotate(-45)" font-size="10.5" text-anchor="end" fill="#1c1c1c">3dpi</text>
<line x1="291.00" y1="366.20" x2="291.00" y2="372.00" stroke="#1c1c1c" stroke-width="1.3" />
<text transform="translate(292.20,382.20) rotate(-45)" font-size="10.5" text-anchor="end" fill="#1c1c1c">7dpi</text>
<line x1="310.30" y1="366.20" x2="310.30" y2="372.00" stroke="#1c1c1c" stroke-width="1.3" />
<text transform="translate(311.80,382.40) rotate(-45)" font-size="10.5" text-anchor="end" fill="#1c1c1c">14dpi</text>
<path d="M72.20,241.90 V234.40 H130.10 V316.77" fill="none" stroke="#222" stroke-width="1.3"/>
<text x="101.15" y="227.70" font-size="10.9" text-anchor="middle" font-weight="normal" fill="#1c1c1c" >0.0634</text>
<path d="M72.20,278.10 V262.40 H110.80 V312.17" fill="none" stroke="#222" stroke-width="1.3"/>
<text x="91.50" y="255.90" font-size="10.9" text-anchor="middle" font-weight="normal" fill="#1c1c1c" >&lt;0.0001</text>
<path d="M72.20,331.77 V299.20 H91.50 V302.66" fill="none" stroke="#222" stroke-width="1.3"/>
<text x="81.85" y="292.10" font-size="10.9" text-anchor="middle" font-weight="normal" fill="#1c1c1c" >&lt;0.0001</text>
<path d="M161.90,242.30 V233.80 H220.30 V305.53" fill="none" stroke="#222" stroke-width="1.3"/>
<text x="191.10" y="227.70" font-size="10.9" text-anchor="middle" font-weight="normal" fill="#1c1c1c" >&lt;0.0001</text>
<path d="M161.90,277.40 V263.00 H200.80 V278.66" fill="none" stroke="#222" stroke-width="1.3"/>
<text x="181.35" y="256.30" font-size="10.9" text-anchor="middle" font-weight="normal" fill="#1c1c1c" >&lt;0.0001</text>
<path d="M161.90,330.19 V297.80 H181.40 V308.95" fill="none" stroke="#222" stroke-width="1.3"/>
<text x="171.65" y="291.40" font-size="10.9" text-anchor="middle" font-weight="normal" fill="#1c1c1c" >&lt;0.0001</text>
<path d="M251.80,242.30 V237.30 H310.30 V270.13" fill="none" stroke="#222" stroke-width="1.3"/>
<text x="281.05" y="230.60" font-size="10.9" text-anchor="middle" font-weight="normal" fill="#1c1c1c" >&lt;0.0001</text>
<path d="M251.80,268.00 V262.70 H291.00 V276.67" fill="none" stroke="#222" stroke-width="1.3"/>
<text x="271.40" y="256.30" font-size="10.9" text-anchor="middle" font-weight="normal" fill="#1c1c1c" >&lt;0.0001</text>
<path d="M251.80,332.35 V289.00 H271.40 V292.85" fill="none" stroke="#222" stroke-width="1.3"/>
<text x="261.60" y="282.00" font-size="10.9" text-anchor="middle" font-weight="normal" fill="#1c1c1c" >&lt;0.0001</text>
<text transform="translate(25.60,300.30) rotate(-90)" font-size="10.6" font-weight="bold" text-anchor="middle" fill="#1c1c1c">Lung</text>
<text transform="translate(39.00,300.30) rotate(-90)" font-size="10.6" font-weight="bold" text-anchor="middle" fill="#1c1c1c">Copies/mL (Log<tspan font-size="8.2" dy="2.6">10</tspan><tspan dy="-2.6">)</tspan></text>
<text x="333.50" y="223.90" font-size="23.5" text-anchor="start" font-weight="bold" fill="#000" stroke="#000" stroke-width="0.5">d</text>
<path d="M401.10,365.60 V327.50 H411.50 V365.60" fill="none" stroke="#8b8fd7" stroke-width="2.1"/>
<circle cx="403.70" cy="327.50" r="2.7" fill="#8b8fd7" stroke="none" stroke-width="1"/>
<circle cx="408.90" cy="327.50" r="2.7" fill="#8b8fd7" stroke="none" stroke-width="1"/>
<circle cx="405.50" cy="327.50" r="2.7" fill="#8b8fd7" stroke="none" stroke-width="1"/>
<circle cx="407.60" cy="327.50" r="2.7" fill="#8b8fd7" stroke="none" stroke-width="1"/>
<circle cx="404.30" cy="327.50" r="2.7" fill="#8b8fd7" stroke="none" stroke-width="1"/>
<circle cx="408.40" cy="327.50" r="2.7" fill="#8b8fd7" stroke="none" stroke-width="1"/>
<circle cx="406.50" cy="327.50" r="2.7" fill="#8b8fd7" stroke="none" stroke-width="1"/>
<circle cx="403.30" cy="327.50" r="2.7" fill="#8b8fd7" stroke="none" stroke-width="1"/>
<path d="M420.40,365.60 V323.50 H430.80 V365.60" fill="none" stroke="#8b8fd7" stroke-width="2.1"/>
<line x1="425.60" y1="318.74" x2="425.60" y2="328.26" stroke="#8b8fd7" stroke-width="1.1" />
<line x1="422.10" y1="318.74" x2="429.10" y2="318.74" stroke="#8b8fd7" stroke-width="1.1" />
<line x1="422.10" y1="328.26" x2="429.10" y2="328.26" stroke="#8b8fd7" stroke-width="1.1" />
<circle cx="423.00" cy="317.98" r="2.7" fill="#8b8fd7" stroke="none" stroke-width="1"/>
<circle cx="428.20" cy="317.98" r="2.7" fill="#8b8fd7" stroke="none" stroke-width="1"/>
<circle cx="424.80" cy="317.98" r="2.7" fill="#8b8fd7" stroke="none" stroke-width="1"/>
<circle cx="426.90" cy="323.69" r="2.7" fill="#8b8fd7" stroke="none" stroke-width="1"/>
<circle cx="423.60" cy="327.50" r="2.7" fill="#8b8fd7" stroke="none" stroke-width="1"/>
<circle cx="427.70" cy="327.50" r="2.7" fill="#8b8fd7" stroke="none" stroke-width="1"/>
<circle cx="425.80" cy="327.50" r="2.7" fill="#8b8fd7" stroke="none" stroke-width="1"/>
<circle cx="422.60" cy="327.50" r="2.7" fill="#8b8fd7" stroke="none" stroke-width="1"/>
<path d="M439.70,365.60 V327.50 H450.10 V365.60" fill="none" stroke="#8b8fd7" stroke-width="2.1"/>
<circle cx="442.30" cy="327.50" r="2.7" fill="#8b8fd7" stroke="none" stroke-width="1"/>
<circle cx="447.50" cy="327.50" r="2.7" fill="#8b8fd7" stroke="none" stroke-width="1"/>
<circle cx="444.10" cy="327.50" r="2.7" fill="#8b8fd7" stroke="none" stroke-width="1"/>
<circle cx="446.20" cy="327.50" r="2.7" fill="#8b8fd7" stroke="none" stroke-width="1"/>
<circle cx="442.90" cy="327.50" r="2.7" fill="#8b8fd7" stroke="none" stroke-width="1"/>
<circle cx="447.00" cy="327.50" r="2.7" fill="#8b8fd7" stroke="none" stroke-width="1"/>
<circle cx="445.10" cy="327.50" r="2.7" fill="#8b8fd7" stroke="none" stroke-width="1"/>
<circle cx="441.90" cy="327.50" r="2.7" fill="#8b8fd7" stroke="none" stroke-width="1"/>
<path d="M458.90,365.60 V327.50 H469.30 V365.60" fill="none" stroke="#8b8fd7" stroke-width="2.1"/>
<circle cx="461.50" cy="327.50" r="2.7" fill="#8b8fd7" stroke="none" stroke-width="1"/>
<circle cx="466.70" cy="327.50" r="2.7" fill="#8b8fd7" stroke="none" stroke-width="1"/>
<circle cx="463.30" cy="327.50" r="2.7" fill="#8b8fd7" stroke="none" stroke-width="1"/>
<circle cx="465.40" cy="327.50" r="2.7" fill="#8b8fd7" stroke="none" stroke-width="1"/>
<circle cx="462.10" cy="327.50" r="2.7" fill="#8b8fd7" stroke="none" stroke-width="1"/>
<circle cx="466.20" cy="327.50" r="2.7" fill="#8b8fd7" stroke="none" stroke-width="1"/>
<circle cx="464.30" cy="327.50" r="2.7" fill="#8b8fd7" stroke="none" stroke-width="1"/>
<circle cx="461.10" cy="327.50" r="2.7" fill="#8b8fd7" stroke="none" stroke-width="1"/>
<path d="M490.70,365.60 V327.50 H501.10 V365.60" fill="none" stroke="#eea13f" stroke-width="2.1"/>
<rect x="490.50" y="324.70" width="5.6" height="5.6" fill="#eea13f" stroke="none" stroke-width="1"/>
<rect x="495.70" y="324.70" width="5.6" height="5.6" fill="#eea13f" stroke="none" stroke-width="1"/>
<rect x="492.30" y="324.70" width="5.6" height="5.6" fill="#eea13f" stroke="none" stroke-width="1"/>
<rect x="494.40" y="324.70" width="5.6" height="5.6" fill="#eea13f" stroke="none" stroke-width="1"/>
<rect x="491.10" y="324.70" width="5.6" height="5.6" fill="#eea13f" stroke="none" stroke-width="1"/>
<rect x="495.20" y="324.70" width="5.6" height="5.6" fill="#eea13f" stroke="none" stroke-width="1"/>
<rect x="493.30" y="324.70" width="5.6" height="5.6" fill="#eea13f" stroke="none" stroke-width="1"/>
<rect x="490.10" y="324.70" width="5.6" height="5.6" fill="#eea13f" stroke="none" stroke-width="1"/>
<path d="M510.10,365.60 V322.55 H520.50 V365.60" fill="none" stroke="#eea13f" stroke-width="2.1"/>
<line x1="515.30" y1="318.36" x2="515.30" y2="326.74" stroke="#eea13f" stroke-width="1.1" />
<line x1="511.80" y1="318.36" x2="518.80" y2="318.36" stroke="#eea13f" stroke-width="1.1" />
<line x1="511.80" y1="326.74" x2="518.80" y2="326.74" stroke="#eea13f" stroke-width="1.1" />
<rect x="509.90" y="315.18" width="5.6" height="5.6" fill="#eea13f" stroke="none" stroke-width="1"/>
<rect x="515.10" y="315.18" width="5.6" height="5.6" fill="#eea13f" stroke="none" stroke-width="1"/>
<rect x="511.70" y="320.89" width="5.6" height="5.6" fill="#eea13f" stroke="none" stroke-width="1"/>
<rect x="513.80" y="320.89" width="5.6" height="5.6" fill="#eea13f" stroke="none" stroke-width="1"/>
<rect x="510.50" y="324.70" width="5.6" height="5.6" fill="#eea13f" stroke="none" stroke-width="1"/>
<rect x="514.60" y="324.70" width="5.6" height="5.6" fill="#eea13f" stroke="none" stroke-width="1"/>
<rect x="512.70" y="320.89" width="5.6" height="5.6" fill="#eea13f" stroke="none" stroke-width="1"/>
<rect x="509.50" y="315.18" width="5.6" height="5.6" fill="#eea13f" stroke="none" stroke-width="1"/>
<path d="M529.60,365.60 V318.93 H540.00 V365.60" fill="none" stroke="#eea13f" stroke-width="2.1"/>
<line x1="534.80" y1="310.93" x2="534.80" y2="326.93" stroke="#eea13f" stroke-width="1.1" />
<line x1="531.30" y1="310.93" x2="538.30" y2="310.93" stroke="#eea13f" stroke-width="1.1" />
<line x1="531.30" y1="326.93" x2="538.30" y2="326.93" stroke="#eea13f" stroke-width="1.1" />
<rect x="529.40" y="305.65" width="5.6" height="5.6" fill="#eea13f" stroke="none" stroke-width="1"/>
<rect x="534.60" y="305.65" width="5.6" height="5.6" fill="#eea13f" stroke="none" stroke-width="1"/>
<rect x="531.20" y="314.22" width="5.6" height="5.6" fill="#eea13f" stroke="none" stroke-width="1"/>
<rect x="533.30" y="314.22" width="5.6" height="5.6" fill="#eea13f" stroke="none" stroke-width="1"/>
<rect x="530.00" y="324.70" width="5.6" height="5.6" fill="#eea13f" stroke="none" stroke-width="1"/>
<rect x="534.10" y="324.70" width="5.6" height="5.6" fill="#eea13f" stroke="none" stroke-width="1"/>
<rect x="532.20" y="324.70" width="5.6" height="5.6" fill="#eea13f" stroke="none" stroke-width="1"/>
<rect x="529.00" y="315.18" width="5.6" height="5.6" fill="#eea13f" stroke="none" stroke-width="1"/>
<path d="M549.00,365.60 V327.50 H559.40 V365.60" fill="none" stroke="#eea13f" stroke-width="2.1"/>
<rect x="548.80" y="324.70" width="5.6" height="5.6" fill="#eea13f" stroke="none" stroke-width="1"/>
<rect x="554.00" y="324.70" width="5.6" height="5.6" fill="#eea13f" stroke="none" stroke-width="1"/>
<rect x="550.60" y="324.70" width="5.6" height="5.6" fill="#eea13f" stroke="none" stroke-width="1"/>
<rect x="552.70" y="324.70" width="5.6" height="5.6" fill="#eea13f" stroke="none" stroke-width="1"/>
<rect x="549.40" y="324.70" width="5.6" height="5.6" fill="#eea13f" stroke="none" stroke-width="1"/>
<rect x="553.50" y="324.70" width="5.6" height="5.6" fill="#eea13f" stroke="none" stroke-width="1"/>
<rect x="551.60" y="324.70" width="5.6" height="5.6" fill="#eea13f" stroke="none" stroke-width="1"/>
<rect x="548.40" y="324.70" width="5.6" height="5.6" fill="#eea13f" stroke="none" stroke-width="1"/>
<path d="M581.10,365.60 V327.50 H591.50 V365.60" fill="none" stroke="#f07c88" stroke-width="2.1"/>
<polygon points="583.70,324.44 580.70,329.54 586.70,329.54" fill="#f07c88" stroke="none" stroke-width="1"/>
<polygon points="588.90,324.44 585.90,329.54 591.90,329.54" fill="#f07c88" stroke="none" stroke-width="1"/>
<polygon points="585.50,324.44 582.50,329.54 588.50,329.54" fill="#f07c88" stroke="none" stroke-width="1"/>
<polygon points="587.60,324.44 584.60,329.54 590.60,329.54" fill="#f07c88" stroke="none" stroke-width="1"/>
<polygon points="584.30,324.44 581.30,329.54 587.30,329.54" fill="#f07c88" stroke="none" stroke-width="1"/>
<polygon points="588.40,324.44 585.40,329.54 591.40,329.54" fill="#f07c88" stroke="none" stroke-width="1"/>
<polygon points="586.50,324.44 583.50,329.54 589.50,329.54" fill="#f07c88" stroke="none" stroke-width="1"/>
<polygon points="583.30,324.44 580.30,329.54 586.30,329.54" fill="#f07c88" stroke="none" stroke-width="1"/>
<path d="M600.50,365.60 V314.17 H610.90 V365.60" fill="none" stroke="#f07c88" stroke-width="2.1"/>
<line x1="605.70" y1="307.50" x2="605.70" y2="320.83" stroke="#f07c88" stroke-width="1.1" />
<line x1="602.20" y1="307.50" x2="609.20" y2="307.50" stroke="#f07c88" stroke-width="1.1" />
<line x1="602.20" y1="320.83" x2="609.20" y2="320.83" stroke="#f07c88" stroke-width="1.1" />
<polygon points="603.10,305.39 600.10,310.49 606.10,310.49" fill="#f07c88" stroke="none" stroke-width="1"/>
<polygon points="608.30,305.39 605.30,310.49 611.30,310.49" fill="#f07c88" stroke="none" stroke-width="1"/>
<polygon points="604.90,305.39 601.90,310.49 607.90,310.49" fill="#f07c88" stroke="none" stroke-width="1"/>
<polygon points="607.00,308.25 604.00,313.35 610.00,313.35" fill="#f07c88" stroke="none" stroke-width="1"/>
<polygon points="603.70,308.25 600.70,313.35 606.70,313.35" fill="#f07c88" stroke="none" stroke-width="1"/>
<polygon points="607.80,320.63 604.80,325.73 610.80,325.73" fill="#f07c88" stroke="none" stroke-width="1"/>
<polygon points="605.90,320.63 602.90,325.73 608.90,325.73" fill="#f07c88" stroke="none" stroke-width="1"/>
<polygon points="602.70,314.92 599.70,320.02 605.70,320.02" fill="#f07c88" stroke="none" stroke-width="1"/>
<path d="M619.90,365.60 V284.07 H630.30 V365.60" fill="none" stroke="#f07c88" stroke-width="2.1"/>
<line x1="625.10" y1="269.78" x2="625.10" y2="298.35" stroke="#f07c88" stroke-width="1.1" />
<line x1="621.60" y1="269.78" x2="628.60" y2="269.78" stroke="#f07c88" stroke-width="1.1" />
<line x1="621.60" y1="298.35" x2="628.60" y2="298.35" stroke="#f07c88" stroke-width="1.1" />
<polygon points="622.50,267.29 619.50,272.39 625.50,272.39" fill="#f07c88" stroke="none" stroke-width="1"/>
<polygon points="627.70,267.29 624.70,272.39 630.70,272.39" fill="#f07c88" stroke="none" stroke-width="1"/>
<polygon points="624.30,267.29 621.30,272.39 627.30,272.39" fill="#f07c88" stroke="none" stroke-width="1"/>
<polygon points="626.40,276.81 623.40,281.92 629.40,281.92" fill="#f07c88" stroke="none" stroke-width="1"/>
<polygon points="623.10,276.81 620.10,281.92 626.10,281.92" fill="#f07c88" stroke="none" stroke-width="1"/>
<polygon points="627.20,295.87 624.20,300.97 630.20,300.97" fill="#f07c88" stroke="none" stroke-width="1"/>
<polygon points="625.30,295.87 622.30,300.97 628.30,300.97" fill="#f07c88" stroke="none" stroke-width="1"/>
<polygon points="622.10,301.58 619.10,306.68 625.10,306.68" fill="#f07c88" stroke="none" stroke-width="1"/>
<path d="M639.10,365.60 V276.83 H649.50 V365.60" fill="none" stroke="#f07c88" stroke-width="2.1"/>
<line x1="644.30" y1="260.63" x2="644.30" y2="293.02" stroke="#f07c88" stroke-width="1.1" />
<line x1="640.80" y1="260.63" x2="647.80" y2="260.63" stroke="#f07c88" stroke-width="1.1" />
<line x1="640.80" y1="293.02" x2="647.80" y2="293.02" stroke="#f07c88" stroke-width="1.1" />
<polygon points="641.70,257.77 638.70,262.87 644.70,262.87" fill="#f07c88" stroke="none" stroke-width="1"/>
<polygon points="646.90,257.77 643.90,262.87 649.90,262.87" fill="#f07c88" stroke="none" stroke-width="1"/>
<polygon points="643.50,267.29 640.50,272.39 646.50,272.39" fill="#f07c88" stroke="none" stroke-width="1"/>
<polygon points="645.60,267.29 642.60,272.39 648.60,272.39" fill="#f07c88" stroke="none" stroke-width="1"/>
<polygon points="642.30,295.87 639.30,300.97 645.30,300.97" fill="#f07c88" stroke="none" stroke-width="1"/>
<polygon points="646.40,295.87 643.40,300.97 649.40,300.97" fill="#f07c88" stroke="none" stroke-width="1"/>
<polygon points="644.50,274.91 641.50,280.01 647.50,280.01" fill="#f07c88" stroke="none" stroke-width="1"/>
<polygon points="641.30,273.00 638.30,278.11 644.30,278.11" fill="#f07c88" stroke="none" stroke-width="1"/>
<line x1="395.40" y1="327.70" x2="657.00" y2="327.70" stroke="#3a3a3a" stroke-width="1.35" stroke-dasharray="1.4 2.6"/>
<line x1="393.40" y1="232.20" x2="393.40" y2="366.30" stroke="#1c1c1c" stroke-width="1.5" />
<line x1="392.70" y1="365.60" x2="658.00" y2="365.60" stroke="#1c1c1c" stroke-width="1.5" />
<line x1="387.90" y1="365.60" x2="393.40" y2="365.60" stroke="#1c1c1c" stroke-width="1.4" />
<text x="385.90" y="369.20" font-size="10.2" text-anchor="end" font-weight="normal" fill="#1c1c1c" >0</text>
<line x1="387.90" y1="327.50" x2="393.40" y2="327.50" stroke="#1c1c1c" stroke-width="1.4" />
<text x="385.90" y="331.10" font-size="10.2" text-anchor="end" font-weight="normal" fill="#1c1c1c" >2</text>
<line x1="387.90" y1="289.40" x2="393.40" y2="289.40" stroke="#1c1c1c" stroke-width="1.4" />
<text x="385.90" y="293.00" font-size="10.2" text-anchor="end" font-weight="normal" fill="#1c1c1c" >4</text>
<line x1="387.90" y1="251.30" x2="393.40" y2="251.30" stroke="#1c1c1c" stroke-width="1.4" />
<text x="385.90" y="254.90" font-size="10.2" text-anchor="end" font-weight="normal" fill="#1c1c1c" >6</text>
<line x1="406.30" y1="365.60" x2="406.30" y2="371.40" stroke="#1c1c1c" stroke-width="1.3" />
<text transform="translate(410.30,380.60) rotate(-45)" font-size="10.5" text-anchor="end" fill="#1c1c1c">Control</text>
<line x1="425.60" y1="365.60" x2="425.60" y2="371.40" stroke="#1c1c1c" stroke-width="1.3" />
<text transform="translate(429.60,381.10) rotate(-45)" font-size="10.5" text-anchor="end" fill="#1c1c1c">3dpi</text>
<line x1="444.90" y1="365.60" x2="444.90" y2="371.40" stroke="#1c1c1c" stroke-width="1.3" />
<text transform="translate(446.10,381.60) rotate(-45)" font-size="10.5" text-anchor="end" fill="#1c1c1c">7dpi</text>
<line x1="464.10" y1="365.60" x2="464.10" y2="371.40" stroke="#1c1c1c" stroke-width="1.3" />
<text transform="translate(465.60,381.80) rotate(-45)" font-size="10.5" text-anchor="end" fill="#1c1c1c">14dpi</text>
<line x1="495.90" y1="365.60" x2="495.90" y2="371.40" stroke="#1c1c1c" stroke-width="1.3" />
<text transform="translate(499.90,380.60) rotate(-45)" font-size="10.5" text-anchor="end" fill="#1c1c1c">Control</text>
<line x1="515.30" y1="365.60" x2="515.30" y2="371.40" stroke="#1c1c1c" stroke-width="1.3" />
<text transform="translate(519.30,381.10) rotate(-45)" font-size="10.5" text-anchor="end" fill="#1c1c1c">3dpi</text>
<line x1="534.80" y1="365.60" x2="534.80" y2="371.40" stroke="#1c1c1c" stroke-width="1.3" />
<text transform="translate(536.00,381.60) rotate(-45)" font-size="10.5" text-anchor="end" fill="#1c1c1c">7dpi</text>
<line x1="554.20" y1="365.60" x2="554.20" y2="371.40" stroke="#1c1c1c" stroke-width="1.3" />
<text transform="translate(555.70,381.80) rotate(-45)" font-size="10.5" text-anchor="end" fill="#1c1c1c">14dpi</text>
<line x1="586.30" y1="365.60" x2="586.30" y2="371.40" stroke="#1c1c1c" stroke-width="1.3" />
<text transform="translate(590.30,380.60) rotate(-45)" font-size="10.5" text-anchor="end" fill="#1c1c1c">Control</text>
<line x1="605.70" y1="365.60" x2="605.70" y2="371.40" stroke="#1c1c1c" stroke-width="1.3" />
<text transform="translate(609.70,381.10) rotate(-45)" font-size="10.5" text-anchor="end" fill="#1c1c1c">3dpi</text>
<line x1="625.10" y1="365.60" x2="625.10" y2="371.40" stroke="#1c1c1c" stroke-width="1.3" />
<text transform="translate(626.30,381.60) rotate(-45)" font-size="10.5" text-anchor="end" fill="#1c1c1c">7dpi</text>
<line x1="644.30" y1="365.60" x2="644.30" y2="371.40" stroke="#1c1c1c" stroke-width="1.3" />
<text transform="translate(645.80,381.80) rotate(-45)" font-size="10.5" text-anchor="end" fill="#1c1c1c">14dpi</text>
<path d="M406.30,251.20 V234.70 H464.10 V319.80" fill="none" stroke="#222" stroke-width="1.3"/>
<text x="435.20" y="228.00" font-size="10.9" text-anchor="middle" font-weight="normal" fill="#1c1c1c" >&gt;0.9999</text>
<path d="M406.30,280.30 V272.40 H444.90 V319.80" fill="none" stroke="#222" stroke-width="1.3"/>
<text x="425.60" y="265.20" font-size="10.9" text-anchor="middle" font-weight="normal" fill="#1c1c1c" >&gt;0.9999</text>
<path d="M406.30,319.80 V301.80 H425.60 V310.28" fill="none" stroke="#222" stroke-width="1.3"/>
<text x="415.95" y="294.30" font-size="10.9" text-anchor="middle" font-weight="normal" fill="#1c1c1c" >0.2411</text>
<path d="M495.90,258.20 V234.80 H554.20 V319.70" fill="none" stroke="#222" stroke-width="1.3"/>
<text x="525.05" y="227.90" font-size="10.9" text-anchor="middle" font-weight="normal" fill="#1c1c1c" >&gt;0.9999</text>
<path d="M495.90,280.10 V279.70 H534.80 V300.65" fill="none" stroke="#222" stroke-width="1.3"/>
<text x="515.35" y="272.20" font-size="10.9" text-anchor="middle" font-weight="normal" fill="#1c1c1c" >0.0255</text>
<path d="M495.90,319.70 V301.00 H515.30 V310.18" fill="none" stroke="#222" stroke-width="1.3"/>
<text x="505.60" y="294.10" font-size="10.9" text-anchor="middle" font-weight="normal" fill="#1c1c1c" >0.3057</text>
<path d="M586.30,237.90 V234.80 H644.30 V252.23" fill="none" stroke="#222" stroke-width="1.3"/>
<text x="615.30" y="227.90" font-size="10.9" text-anchor="middle" font-weight="normal" fill="#1c1c1c" >&lt;0.0001</text>
<path d="M586.30,279.20 V258.80 H625.10 V261.75" fill="none" stroke="#222" stroke-width="1.3"/>
<text x="605.70" y="251.90" font-size="10.9" text-anchor="middle" font-weight="normal" fill="#1c1c1c" >&lt;0.0001</text>
<path d="M586.30,318.90 V300.40 H605.70 V299.85" fill="none" stroke="#222" stroke-width="1.3"/>
<text x="596.00" y="293.20" font-size="10.9" text-anchor="middle" font-weight="normal" fill="#1c1c1c" >0.0005</text>
<text transform="translate(359.80,299.50) rotate(-90)" font-size="10.6" font-weight="bold" text-anchor="middle" fill="#1c1c1c">Lung</text>
<text transform="translate(372.80,301.20) rotate(-90)" font-size="10.6" font-weight="bold" text-anchor="middle" fill="#1c1c1c">TCID<tspan font-size="8.2" dy="2.6">50</tspan><tspan dy="-2.6">/mL&#160; (Log</tspan><tspan font-size="8.2" dy="2.6">10</tspan><tspan dy="-2.6">)</tspan></text>
<text x="-1.00" y="421.00" font-size="23.5" text-anchor="start" font-weight="bold" fill="#000" stroke="#000" stroke-width="0.5">e</text>
<path d="M67.00,572.70 V533.17 H77.40 V572.70" fill="none" stroke="#8b8fd7" stroke-width="2.1"/>
<line x1="72.20" y1="524.80" x2="72.20" y2="541.55" stroke="#8b8fd7" stroke-width="1.1" />
<line x1="68.70" y1="524.80" x2="75.70" y2="524.80" stroke="#8b8fd7" stroke-width="1.1" />
<line x1="68.70" y1="541.55" x2="75.70" y2="541.55" stroke="#8b8fd7" stroke-width="1.1" />
<circle cx="69.60" cy="522.79" r="2.7" fill="#8b8fd7" stroke="none" stroke-width="1"/>
<circle cx="74.80" cy="526.13" r="2.7" fill="#8b8fd7" stroke="none" stroke-width="1"/>
<circle cx="71.40" cy="529.82" r="2.7" fill="#8b8fd7" stroke="none" stroke-width="1"/>
<circle cx="73.50" cy="533.84" r="2.7" fill="#8b8fd7" stroke="none" stroke-width="1"/>
<circle cx="70.20" cy="536.19" r="2.7" fill="#8b8fd7" stroke="none" stroke-width="1"/>
<circle cx="74.30" cy="540.21" r="2.7" fill="#8b8fd7" stroke="none" stroke-width="1"/>
<circle cx="72.40" cy="550.25" r="2.7" fill="#8b8fd7" stroke="none" stroke-width="1"/>
<circle cx="69.20" cy="529.15" r="2.7" fill="#8b8fd7" stroke="none" stroke-width="1"/>
<path d="M86.30,572.70 V527.48 H96.70 V572.70" fill="none" stroke="#8b8fd7" stroke-width="2.1"/>
<line x1="91.50" y1="522.45" x2="91.50" y2="532.50" stroke="#8b8fd7" stroke-width="1.1" />
<line x1="88.00" y1="522.45" x2="95.00" y2="522.45" stroke="#8b8fd7" stroke-width="1.1" />
<line x1="88.00" y1="532.50" x2="95.00" y2="532.50" stroke="#8b8fd7" stroke-width="1.1" />
<circle cx="88.90" cy="521.11" r="2.7" fill="#8b8fd7" stroke="none" stroke-width="1"/>
<circle cx="94.10" cy="521.78" r="2.7" fill="#8b8fd7" stroke="none" stroke-width="1"/>
<circle cx="90.70" cy="528.15" r="2.7" fill="#8b8fd7" stroke="none" stroke-width="1"/>
<circle cx="92.80" cy="532.17" r="2.7" fill="#8b8fd7" stroke="none" stroke-width="1"/>
<circle cx="89.50" cy="536.19" r="2.7" fill="#8b8fd7" stroke="none" stroke-width="1"/>
<circle cx="93.60" cy="525.80" r="2.7" fill="#8b8fd7" stroke="none" stroke-width="1"/>
<circle cx="91.70" cy="529.15" r="2.7" fill="#8b8fd7" stroke="none" stroke-width="1"/>
<circle cx="88.50" cy="524.12" r="2.7" fill="#8b8fd7" stroke="none" stroke-width="1"/>
<path d="M105.60,572.70 V532.50 H116.00 V572.70" fill="none" stroke="#8b8fd7" stroke-width="2.1"/>
<line x1="110.80" y1="526.81" x2="110.80" y2="538.20" stroke="#8b8fd7" stroke-width="1.1" />
<line x1="107.30" y1="526.81" x2="114.30" y2="526.81" stroke="#8b8fd7" stroke-width="1.1" />
<line x1="107.30" y1="538.20" x2="114.30" y2="538.20" stroke="#8b8fd7" stroke-width="1.1" />
<circle cx="108.20" cy="522.79" r="2.7" fill="#8b8fd7" stroke="none" stroke-width="1"/>
<circle cx="113.40" cy="527.48" r="2.7" fill="#8b8fd7" stroke="none" stroke-width="1"/>
<circle cx="110.00" cy="530.83" r="2.7" fill="#8b8fd7" stroke="none" stroke-width="1"/>
<circle cx="112.10" cy="534.85" r="2.7" fill="#8b8fd7" stroke="none" stroke-width="1"/>
<circle cx="108.80" cy="539.87" r="2.7" fill="#8b8fd7" stroke="none" stroke-width="1"/>
<circle cx="112.90" cy="532.50" r="2.7" fill="#8b8fd7" stroke="none" stroke-width="1"/>
<circle cx="111.00" cy="529.15" r="2.7" fill="#8b8fd7" stroke="none" stroke-width="1"/>
<circle cx="107.80" cy="535.85" r="2.7" fill="#8b8fd7" stroke="none" stroke-width="1"/>
<path d="M124.90,572.70 V533.17 H135.30 V572.70" fill="none" stroke="#8b8fd7" stroke-width="2.1"/>
<line x1="130.10" y1="527.14" x2="130.10" y2="539.20" stroke="#8b8fd7" stroke-width="1.1" />
<line x1="126.60" y1="527.14" x2="133.60" y2="527.14" stroke="#8b8fd7" stroke-width="1.1" />
<line x1="126.60" y1="539.20" x2="133.60" y2="539.20" stroke="#8b8fd7" stroke-width="1.1" />
<circle cx="127.50" cy="523.46" r="2.7" fill="#8b8fd7" stroke="none" stroke-width="1"/>
<circle cx="132.70" cy="527.48" r="2.7" fill="#8b8fd7" stroke="none" stroke-width="1"/>
<circle cx="129.30" cy="533.17" r="2.7" fill="#8b8fd7" stroke="none" stroke-width="1"/>
<circle cx="131.40" cy="538.53" r="2.7" fill="#8b8fd7" stroke="none" stroke-width="1"/>
<circle cx="128.10" cy="540.88" r="2.7" fill="#8b8fd7" stroke="none" stroke-width="1"/>
<circle cx="132.20" cy="535.85" r="2.7" fill="#8b8fd7" stroke="none" stroke-width="1"/>
<circle cx="130.30" cy="529.15" r="2.7" fill="#8b8fd7" stroke="none" stroke-width="1"/>
<circle cx="127.10" cy="537.53" r="2.7" fill="#8b8fd7" stroke="none" stroke-width="1"/>
<path d="M156.70,572.70 V529.15 H167.10 V572.70" fill="none" stroke="#eea13f" stroke-width="2.1"/>
<line x1="161.90" y1="524.12" x2="161.90" y2="534.18" stroke="#eea13f" stroke-width="1.1" />
<line x1="158.40" y1="524.12" x2="165.40" y2="524.12" stroke="#eea13f" stroke-width="1.1" />
<line x1="158.40" y1="534.18" x2="165.40" y2="534.18" stroke="#eea13f" stroke-width="1.1" />
<rect x="156.50" y="524.68" width="5.6" height="5.6" fill="#eea13f" stroke="none" stroke-width="1"/>
<rect x="161.70" y="528.36" width="5.6" height="5.6" fill="#eea13f" stroke="none" stroke-width="1"/>
<rect x="158.30" y="538.75" width="5.6" height="5.6" fill="#eea13f" stroke="none" stroke-width="1"/>
<rect x="160.40" y="523.00" width="5.6" height="5.6" fill="#eea13f" stroke="none" stroke-width="1"/>
<rect x="157.10" y="526.35" width="5.6" height="5.6" fill="#eea13f" stroke="none" stroke-width="1"/>
<rect x="161.20" y="523.67" width="5.6" height="5.6" fill="#eea13f" stroke="none" stroke-width="1"/>
<rect x="159.30" y="527.02" width="5.6" height="5.6" fill="#eea13f" stroke="none" stroke-width="1"/>
<rect x="156.10" y="524.68" width="5.6" height="5.6" fill="#eea13f" stroke="none" stroke-width="1"/>
<path d="M176.20,572.70 V532.17 H186.60 V572.70" fill="none" stroke="#eea13f" stroke-width="2.1"/>
<line x1="181.40" y1="522.12" x2="181.40" y2="542.22" stroke="#eea13f" stroke-width="1.1" />
<line x1="177.90" y1="522.12" x2="184.90" y2="522.12" stroke="#eea13f" stroke-width="1.1" />
<line x1="177.90" y1="542.22" x2="184.90" y2="542.22" stroke="#eea13f" stroke-width="1.1" />
<rect x="176.00" y="514.63" width="5.6" height="5.6" fill="#eea13f" stroke="none" stroke-width="1"/>
<rect x="181.20" y="518.31" width="5.6" height="5.6" fill="#eea13f" stroke="none" stroke-width="1"/>
<rect x="177.80" y="522.33" width="5.6" height="5.6" fill="#eea13f" stroke="none" stroke-width="1"/>
<rect x="179.90" y="526.35" width="5.6" height="5.6" fill="#eea13f" stroke="none" stroke-width="1"/>
<rect x="176.60" y="537.07" width="5.6" height="5.6" fill="#eea13f" stroke="none" stroke-width="1"/>
<rect x="180.70" y="545.78" width="5.6" height="5.6" fill="#eea13f" stroke="none" stroke-width="1"/>
<rect x="178.80" y="529.70" width="5.6" height="5.6" fill="#eea13f" stroke="none" stroke-width="1"/>
<rect x="175.60" y="533.05" width="5.6" height="5.6" fill="#eea13f" stroke="none" stroke-width="1"/>
<path d="M195.60,572.70 V537.53 H206.00 V572.70" fill="none" stroke="#eea13f" stroke-width="2.1"/>
<line x1="200.80" y1="528.48" x2="200.80" y2="546.57" stroke="#eea13f" stroke-width="1.1" />
<line x1="197.30" y1="528.48" x2="204.30" y2="528.48" stroke="#eea13f" stroke-width="1.1" />
<line x1="197.30" y1="546.57" x2="204.30" y2="546.57" stroke="#eea13f" stroke-width="1.1" />
<rect x="195.40" y="519.99" width="5.6" height="5.6" fill="#eea13f" stroke="none" stroke-width="1"/>
<rect x="200.60" y="526.02" width="5.6" height="5.6" fill="#eea13f" stroke="none" stroke-width="1"/>
<rect x="197.20" y="537.07" width="5.6" height="5.6" fill="#eea13f" stroke="none" stroke-width="1"/>
<rect x="199.30" y="541.43" width="5.6" height="5.6" fill="#eea13f" stroke="none" stroke-width="1"/>
<rect x="196.00" y="547.46" width="5.6" height="5.6" fill="#eea13f" stroke="none" stroke-width="1"/>
<rect x="200.10" y="533.05" width="5.6" height="5.6" fill="#eea13f" stroke="none" stroke-width="1"/>
<rect x="198.20" y="529.70" width="5.6" height="5.6" fill="#eea13f" stroke="none" stroke-width="1"/>
<rect x="195.00" y="539.75" width="5.6" height="5.6" fill="#eea13f" stroke="none" stroke-width="1"/>
<path d="M215.10,572.70 V541.55 H225.50 V572.70" fill="none" stroke="#eea13f" stroke-width="2.1"/>
<line x1="220.30" y1="534.85" x2="220.30" y2="548.25" stroke="#eea13f" stroke-width="1.1" />
<line x1="216.80" y1="534.85" x2="223.80" y2="534.85" stroke="#eea13f" stroke-width="1.1" />
<line x1="216.80" y1="548.25" x2="223.80" y2="548.25" stroke="#eea13f" stroke-width="1.1" />
<rect x="214.90" y="529.70" width="5.6" height="5.6" fill="#eea13f" stroke="none" stroke-width="1"/>
<rect x="220.10" y="532.05" width="5.6" height="5.6" fill="#eea13f" stroke="none" stroke-width="1"/>
<rect x="216.70" y="537.07" width="5.6" height="5.6" fill="#eea13f" stroke="none" stroke-width="1"/>
<rect x="218.80" y="550.81" width="5.6" height="5.6" fill="#eea13f" stroke="none" stroke-width="1"/>
<rect x="215.50" y="539.75" width="5.6" height="5.6" fill="#eea13f" stroke="none" stroke-width="1"/>
<rect x="219.60" y="536.40" width="5.6" height="5.6" fill="#eea13f" stroke="none" stroke-width="1"/>
<rect x="217.70" y="541.43" width="5.6" height="5.6" fill="#eea13f" stroke="none" stroke-width="1"/>
<rect x="214.50" y="543.10" width="5.6" height="5.6" fill="#eea13f" stroke="none" stroke-width="1"/>
<path d="M246.60,572.70 V530.16 H257.00 V572.70" fill="none" stroke="#f07c88" stroke-width="2.1"/>
<line x1="251.80" y1="527.14" x2="251.80" y2="533.17" stroke="#f07c88" stroke-width="1.1" />
<line x1="248.30" y1="527.14" x2="255.30" y2="527.14" stroke="#f07c88" stroke-width="1.1" />
<line x1="248.30" y1="533.17" x2="255.30" y2="533.17" stroke="#f07c88" stroke-width="1.1" />
<polygon points="249.20,522.41 246.20,527.50 252.20,527.50" fill="#f07c88" stroke="none" stroke-width="1"/>
<polygon points="254.40,524.75 251.40,529.85 257.40,529.85" fill="#f07c88" stroke="none" stroke-width="1"/>
<polygon points="251.00,531.12 248.00,536.22 254.00,536.22" fill="#f07c88" stroke="none" stroke-width="1"/>
<polygon points="253.10,526.09 250.10,531.19 256.10,531.19" fill="#f07c88" stroke="none" stroke-width="1"/>
<polygon points="249.80,529.44 246.80,534.54 252.80,534.54" fill="#f07c88" stroke="none" stroke-width="1"/>
<polygon points="253.90,527.77 250.90,532.87 256.90,532.87" fill="#f07c88" stroke="none" stroke-width="1"/>
<polygon points="252.00,524.42 249.00,529.51 255.00,529.51" fill="#f07c88" stroke="none" stroke-width="1"/>
<polygon points="248.80,529.44 245.80,534.54 251.80,534.54" fill="#f07c88" stroke="none" stroke-width="1"/>
<path d="M266.20,572.70 V535.85 H276.60 V572.70" fill="none" stroke="#f07c88" stroke-width="2.1"/>
<line x1="271.40" y1="528.48" x2="271.40" y2="543.22" stroke="#f07c88" stroke-width="1.1" />
<line x1="267.90" y1="528.48" x2="274.90" y2="528.48" stroke="#f07c88" stroke-width="1.1" />
<line x1="267.90" y1="543.22" x2="274.90" y2="543.22" stroke="#f07c88" stroke-width="1.1" />
<polygon points="268.80,515.04 265.80,520.13 271.80,520.13" fill="#f07c88" stroke="none" stroke-width="1"/>
<polygon points="274.00,531.12 271.00,536.22 277.00,536.22" fill="#f07c88" stroke="none" stroke-width="1"/>
<polygon points="270.60,535.47 267.60,540.57 273.60,540.57" fill="#f07c88" stroke="none" stroke-width="1"/>
<polygon points="272.70,538.82 269.70,543.92 275.70,543.92" fill="#f07c88" stroke="none" stroke-width="1"/>
<polygon points="269.40,532.79 266.40,537.89 272.40,537.89" fill="#f07c88" stroke="none" stroke-width="1"/>
<polygon points="273.50,534.47 270.50,539.57 276.50,539.57" fill="#f07c88" stroke="none" stroke-width="1"/>
<polygon points="271.60,536.14 268.60,541.24 274.60,541.24" fill="#f07c88" stroke="none" stroke-width="1"/>
<polygon points="268.40,537.82 265.40,542.91 271.40,542.91" fill="#f07c88" stroke="none" stroke-width="1"/>
<path d="M285.80,572.70 V530.16 H296.20 V572.70" fill="none" stroke="#f07c88" stroke-width="2.1"/>
<line x1="291.00" y1="521.45" x2="291.00" y2="538.87" stroke="#f07c88" stroke-width="1.1" />
<line x1="287.50" y1="521.45" x2="294.50" y2="521.45" stroke="#f07c88" stroke-width="1.1" />
<line x1="287.50" y1="538.87" x2="294.50" y2="538.87" stroke="#f07c88" stroke-width="1.1" />
<polygon points="288.40,515.71 285.40,520.81 291.40,520.81" fill="#f07c88" stroke="none" stroke-width="1"/>
<polygon points="293.60,519.06 290.60,524.15 296.60,524.15" fill="#f07c88" stroke="none" stroke-width="1"/>
<polygon points="290.20,525.42 287.20,530.52 293.20,530.52" fill="#f07c88" stroke="none" stroke-width="1"/>
<polygon points="292.30,532.79 289.30,537.89 295.30,537.89" fill="#f07c88" stroke="none" stroke-width="1"/>
<polygon points="289.00,542.51 286.00,547.61 292.00,547.61" fill="#f07c88" stroke="none" stroke-width="1"/>
<polygon points="293.10,529.44 290.10,534.54 296.10,534.54" fill="#f07c88" stroke="none" stroke-width="1"/>
<polygon points="291.20,522.74 288.20,527.84 294.20,527.84" fill="#f07c88" stroke="none" stroke-width="1"/>
<polygon points="288.00,529.44 285.00,534.54 291.00,534.54" fill="#f07c88" stroke="none" stroke-width="1"/>
<path d="M305.10,572.70 V502.35 H315.50 V572.70" fill="none" stroke="#f07c88" stroke-width="2.1"/>
<line x1="310.30" y1="493.64" x2="310.30" y2="511.06" stroke="#f07c88" stroke-width="1.1" />
<line x1="306.80" y1="493.64" x2="313.80" y2="493.64" stroke="#f07c88" stroke-width="1.1" />
<line x1="306.80" y1="511.06" x2="313.80" y2="511.06" stroke="#f07c88" stroke-width="1.1" />
<polygon points="307.70,488.57 304.70,493.67 310.70,493.67" fill="#f07c88" stroke="none" stroke-width="1"/>
<polygon points="312.90,491.92 309.90,497.02 315.90,497.02" fill="#f07c88" stroke="none" stroke-width="1"/>
<polygon points="309.50,494.94 306.50,500.04 312.50,500.04" fill="#f07c88" stroke="none" stroke-width="1"/>
<polygon points="311.60,501.30 308.60,506.40 314.60,506.40" fill="#f07c88" stroke="none" stroke-width="1"/>
<polygon points="308.30,508.34 305.30,513.44 311.30,513.44" fill="#f07c88" stroke="none" stroke-width="1"/>
<polygon points="312.40,516.04 309.40,521.14 315.40,521.14" fill="#f07c88" stroke="none" stroke-width="1"/>
<polygon points="310.50,499.29 307.50,504.39 313.50,504.39" fill="#f07c88" stroke="none" stroke-width="1"/>
<polygon points="307.30,495.94 304.30,501.04 310.30,501.04" fill="#f07c88" stroke="none" stroke-width="1"/>
<line x1="61.10" y1="523.00" x2="322.40" y2="523.00" stroke="#3a3a3a" stroke-width="1.35" stroke-dasharray="1.4 2.6"/>
<line x1="59.10" y1="438.50" x2="59.10" y2="573.40" stroke="#1c1c1c" stroke-width="1.5" />
<line x1="58.40" y1="572.70" x2="323.40" y2="572.70" stroke="#1c1c1c" stroke-width="1.5" />
<line x1="53.60" y1="572.70" x2="59.10" y2="572.70" stroke="#1c1c1c" stroke-width="1.4" />
<text x="51.60" y="576.30" font-size="10.2" text-anchor="end" font-weight="normal" fill="#1c1c1c" >0</text>
<line x1="53.60" y1="539.20" x2="59.10" y2="539.20" stroke="#1c1c1c" stroke-width="1.4" />
<text x="51.60" y="542.80" font-size="10.2" text-anchor="end" font-weight="normal" fill="#1c1c1c" >1</text>
<line x1="53.60" y1="505.70" x2="59.10" y2="505.70" stroke="#1c1c1c" stroke-width="1.4" />
<text x="51.60" y="509.30" font-size="10.2" text-anchor="end" font-weight="normal" fill="#1c1c1c" >2</text>
<line x1="53.60" y1="472.20" x2="59.10" y2="472.20" stroke="#1c1c1c" stroke-width="1.4" />
<text x="51.60" y="475.80" font-size="10.2" text-anchor="end" font-weight="normal" fill="#1c1c1c" >3</text>
<line x1="53.60" y1="438.70" x2="59.10" y2="438.70" stroke="#1c1c1c" stroke-width="1.4" />
<text x="51.60" y="442.30" font-size="10.2" text-anchor="end" font-weight="normal" fill="#1c1c1c" >4</text>
<line x1="72.20" y1="572.70" x2="72.20" y2="578.50" stroke="#1c1c1c" stroke-width="1.3" />
<text transform="translate(76.20,587.70) rotate(-45)" font-size="10.5" text-anchor="end" fill="#1c1c1c">Control</text>
<line x1="91.50" y1="572.70" x2="91.50" y2="578.50" stroke="#1c1c1c" stroke-width="1.3" />
<text transform="translate(95.50,588.20) rotate(-45)" font-size="10.5" text-anchor="end" fill="#1c1c1c">3dpi</text>
<line x1="110.80" y1="572.70" x2="110.80" y2="578.50" stroke="#1c1c1c" stroke-width="1.3" />
<text transform="translate(112.00,588.70) rotate(-45)" font-size="10.5" text-anchor="end" fill="#1c1c1c">7dpi</text>
<line x1="130.10" y1="572.70" x2="130.10" y2="578.50" stroke="#1c1c1c" stroke-width="1.3" />
<text transform="translate(131.60,588.90) rotate(-45)" font-size="10.5" text-anchor="end" fill="#1c1c1c">14dpi</text>
<line x1="161.90" y1="572.70" x2="161.90" y2="578.50" stroke="#1c1c1c" stroke-width="1.3" />
<text transform="translate(165.90,587.70) rotate(-45)" font-size="10.5" text-anchor="end" fill="#1c1c1c">Control</text>
<line x1="181.40" y1="572.70" x2="181.40" y2="578.50" stroke="#1c1c1c" stroke-width="1.3" />
<text transform="translate(185.40,588.20) rotate(-45)" font-size="10.5" text-anchor="end" fill="#1c1c1c">3dpi</text>
<line x1="200.80" y1="572.70" x2="200.80" y2="578.50" stroke="#1c1c1c" stroke-width="1.3" />
<text transform="translate(202.00,588.70) rotate(-45)" font-size="10.5" text-anchor="end" fill="#1c1c1c">7dpi</text>
<line x1="220.30" y1="572.70" x2="220.30" y2="578.50" stroke="#1c1c1c" stroke-width="1.3" />
<text transform="translate(221.80,588.90) rotate(-45)" font-size="10.5" text-anchor="end" fill="#1c1c1c">14dpi</text>
<line x1="251.80" y1="572.70" x2="251.80" y2="578.50" stroke="#1c1c1c" stroke-width="1.3" />
<text transform="translate(255.80,587.70) rotate(-45)" font-size="10.5" text-anchor="end" fill="#1c1c1c">Control</text>
<line x1="271.40" y1="572.70" x2="271.40" y2="578.50" stroke="#1c1c1c" stroke-width="1.3" />
<text transform="translate(275.40,588.20) rotate(-45)" font-size="10.5" text-anchor="end" fill="#1c1c1c">3dpi</text>
<line x1="291.00" y1="572.70" x2="291.00" y2="578.50" stroke="#1c1c1c" stroke-width="1.3" />
<text transform="translate(292.20,588.70) rotate(-45)" font-size="10.5" text-anchor="end" fill="#1c1c1c">7dpi</text>
<line x1="310.30" y1="572.70" x2="310.30" y2="578.50" stroke="#1c1c1c" stroke-width="1.3" />
<text transform="translate(311.80,588.90) rotate(-45)" font-size="10.5" text-anchor="end" fill="#1c1c1c">14dpi</text>
<path d="M72.20,449.30 V439.00 H130.10 V515.75" fill="none" stroke="#222" stroke-width="1.3"/>
<text x="101.15" y="432.30" font-size="10.9" text-anchor="middle" font-weight="normal" fill="#1c1c1c" >0.9770</text>
<path d="M72.20,472.90 V470.00 H110.80 V515.09" fill="none" stroke="#222" stroke-width="1.3"/>
<text x="91.50" y="463.30" font-size="10.9" text-anchor="middle" font-weight="normal" fill="#1c1c1c" >0.9412</text>
<path d="M72.20,515.09 V493.60 H91.50 V513.41" fill="none" stroke="#222" stroke-width="1.3"/>
<text x="81.85" y="486.90" font-size="10.9" text-anchor="middle" font-weight="normal" fill="#1c1c1c" >0.3184</text>
<path d="M161.90,446.70 V438.50 H220.30 V524.70" fill="none" stroke="#222" stroke-width="1.3"/>
<text x="191.10" y="432.10" font-size="10.9" text-anchor="middle" font-weight="normal" fill="#1c1c1c" >0.0547</text>
<path d="M161.90,475.00 V467.70 H200.80 V514.99" fill="none" stroke="#222" stroke-width="1.3"/>
<text x="181.35" y="460.70" font-size="10.9" text-anchor="middle" font-weight="normal" fill="#1c1c1c" >0.5295</text>
<path d="M161.90,518.00 V495.80 H181.40 V509.63" fill="none" stroke="#222" stroke-width="1.3"/>
<text x="171.65" y="489.00" font-size="10.9" text-anchor="middle" font-weight="normal" fill="#1c1c1c" >0.9867</text>
<path d="M251.80,445.30 V438.50 H310.30 V483.03" fill="none" stroke="#222" stroke-width="1.3"/>
<text x="281.05" y="432.10" font-size="10.9" text-anchor="middle" font-weight="normal" fill="#1c1c1c" >&lt;0.0001</text>
<path d="M251.80,473.60 V466.60 H291.00 V510.17" fill="none" stroke="#222" stroke-width="1.3"/>
<text x="271.40" y="459.30" font-size="10.9" text-anchor="middle" font-weight="normal" fill="#1c1c1c" >0.9999</text>
<path d="M251.80,516.87 V494.90 H271.40 V509.50" fill="none" stroke="#222" stroke-width="1.3"/>
<text x="261.60" y="487.60" font-size="10.9" text-anchor="middle" font-weight="normal" fill="#1c1c1c" >0.3745</text>
<text transform="translate(25.60,506.00) rotate(-90)" font-size="10.6" font-weight="bold" text-anchor="middle" fill="#1c1c1c">Liver</text>
<text transform="translate(39.00,506.00) rotate(-90)" font-size="10.6" font-weight="bold" text-anchor="middle" fill="#1c1c1c">Copies/mL (Log<tspan font-size="8.2" dy="2.6">10</tspan><tspan dy="-2.6">)</tspan></text>
<text x="337.10" y="420.00" font-size="23.5" text-anchor="start" font-weight="bold" fill="#000" stroke="#000" stroke-width="0.5">f</text>
<path d="M401.10,572.70 V528.40 H411.50 V572.70" fill="none" stroke="#8b8fd7" stroke-width="2.1"/>
<circle cx="403.70" cy="528.40" r="2.7" fill="#8b8fd7" stroke="none" stroke-width="1"/>
<circle cx="408.90" cy="528.40" r="2.7" fill="#8b8fd7" stroke="none" stroke-width="1"/>
<circle cx="405.50" cy="528.40" r="2.7" fill="#8b8fd7" stroke="none" stroke-width="1"/>
<circle cx="407.60" cy="528.40" r="2.7" fill="#8b8fd7" stroke="none" stroke-width="1"/>
<circle cx="404.30" cy="528.40" r="2.7" fill="#8b8fd7" stroke="none" stroke-width="1"/>
<circle cx="408.40" cy="528.40" r="2.7" fill="#8b8fd7" stroke="none" stroke-width="1"/>
<circle cx="406.50" cy="528.40" r="2.7" fill="#8b8fd7" stroke="none" stroke-width="1"/>
<circle cx="403.30" cy="528.40" r="2.7" fill="#8b8fd7" stroke="none" stroke-width="1"/>
<path d="M420.40,572.70 V528.40 H430.80 V572.70" fill="none" stroke="#8b8fd7" stroke-width="2.1"/>
<circle cx="423.00" cy="528.40" r="2.7" fill="#8b8fd7" stroke="none" stroke-width="1"/>
<circle cx="428.20" cy="528.40" r="2.7" fill="#8b8fd7" stroke="none" stroke-width="1"/>
<circle cx="424.80" cy="528.40" r="2.7" fill="#8b8fd7" stroke="none" stroke-width="1"/>
<circle cx="426.90" cy="528.40" r="2.7" fill="#8b8fd7" stroke="none" stroke-width="1"/>
<circle cx="423.60" cy="528.40" r="2.7" fill="#8b8fd7" stroke="none" stroke-width="1"/>
<circle cx="427.70" cy="528.40" r="2.7" fill="#8b8fd7" stroke="none" stroke-width="1"/>
<circle cx="425.80" cy="528.40" r="2.7" fill="#8b8fd7" stroke="none" stroke-width="1"/>
<circle cx="422.60" cy="528.40" r="2.7" fill="#8b8fd7" stroke="none" stroke-width="1"/>
<path d="M439.70,572.70 V528.40 H450.10 V572.70" fill="none" stroke="#8b8fd7" stroke-width="2.1"/>
<circle cx="442.30" cy="528.40" r="2.7" fill="#8b8fd7" stroke="none" stroke-width="1"/>
<circle cx="447.50" cy="528.40" r="2.7" fill="#8b8fd7" stroke="none" stroke-width="1"/>
<circle cx="444.10" cy="528.40" r="2.7" fill="#8b8fd7" stroke="none" stroke-width="1"/>
<circle cx="446.20" cy="528.40" r="2.7" fill="#8b8fd7" stroke="none" stroke-width="1"/>
<circle cx="442.90" cy="528.40" r="2.7" fill="#8b8fd7" stroke="none" stroke-width="1"/>
<circle cx="447.00" cy="528.40" r="2.7" fill="#8b8fd7" stroke="none" stroke-width="1"/>
<circle cx="445.10" cy="528.40" r="2.7" fill="#8b8fd7" stroke="none" stroke-width="1"/>
<circle cx="441.90" cy="528.40" r="2.7" fill="#8b8fd7" stroke="none" stroke-width="1"/>
<path d="M458.90,572.70 V528.40 H469.30 V572.70" fill="none" stroke="#8b8fd7" stroke-width="2.1"/>
<circle cx="461.50" cy="528.40" r="2.7" fill="#8b8fd7" stroke="none" stroke-width="1"/>
<circle cx="466.70" cy="528.40" r="2.7" fill="#8b8fd7" stroke="none" stroke-width="1"/>
<circle cx="463.30" cy="528.40" r="2.7" fill="#8b8fd7" stroke="none" stroke-width="1"/>
<circle cx="465.40" cy="528.40" r="2.7" fill="#8b8fd7" stroke="none" stroke-width="1"/>
<circle cx="462.10" cy="528.40" r="2.7" fill="#8b8fd7" stroke="none" stroke-width="1"/>
<circle cx="466.20" cy="528.40" r="2.7" fill="#8b8fd7" stroke="none" stroke-width="1"/>
<circle cx="464.30" cy="528.40" r="2.7" fill="#8b8fd7" stroke="none" stroke-width="1"/>
<circle cx="461.10" cy="528.40" r="2.7" fill="#8b8fd7" stroke="none" stroke-width="1"/>
<path d="M490.70,572.70 V528.40 H501.10 V572.70" fill="none" stroke="#eea13f" stroke-width="2.1"/>
<rect x="490.50" y="525.60" width="5.6" height="5.6" fill="#eea13f" stroke="none" stroke-width="1"/>
<rect x="495.70" y="525.60" width="5.6" height="5.6" fill="#eea13f" stroke="none" stroke-width="1"/>
<rect x="492.30" y="525.60" width="5.6" height="5.6" fill="#eea13f" stroke="none" stroke-width="1"/>
<rect x="494.40" y="525.60" width="5.6" height="5.6" fill="#eea13f" stroke="none" stroke-width="1"/>
<rect x="491.10" y="525.60" width="5.6" height="5.6" fill="#eea13f" stroke="none" stroke-width="1"/>
<rect x="495.20" y="525.60" width="5.6" height="5.6" fill="#eea13f" stroke="none" stroke-width="1"/>
<rect x="493.30" y="525.60" width="5.6" height="5.6" fill="#eea13f" stroke="none" stroke-width="1"/>
<rect x="490.10" y="525.60" width="5.6" height="5.6" fill="#eea13f" stroke="none" stroke-width="1"/>
<path d="M510.10,572.70 V528.40 H520.50 V572.70" fill="none" stroke="#eea13f" stroke-width="2.1"/>
<rect x="509.90" y="525.60" width="5.6" height="5.6" fill="#eea13f" stroke="none" stroke-width="1"/>
<rect x="515.10" y="525.60" width="5.6" height="5.6" fill="#eea13f" stroke="none" stroke-width="1"/>
<rect x="511.70" y="525.60" width="5.6" height="5.6" fill="#eea13f" stroke="none" stroke-width="1"/>
<rect x="513.80" y="525.60" width="5.6" height="5.6" fill="#eea13f" stroke="none" stroke-width="1"/>
<rect x="510.50" y="525.60" width="5.6" height="5.6" fill="#eea13f" stroke="none" stroke-width="1"/>
<rect x="514.60" y="525.60" width="5.6" height="5.6" fill="#eea13f" stroke="none" stroke-width="1"/>
<rect x="512.70" y="525.60" width="5.6" height="5.6" fill="#eea13f" stroke="none" stroke-width="1"/>
<rect x="509.50" y="525.60" width="5.6" height="5.6" fill="#eea13f" stroke="none" stroke-width="1"/>
<path d="M529.60,572.70 V528.40 H540.00 V572.70" fill="none" stroke="#eea13f" stroke-width="2.1"/>
<rect x="529.40" y="525.60" width="5.6" height="5.6" fill="#eea13f" stroke="none" stroke-width="1"/>
<rect x="534.60" y="525.60" width="5.6" height="5.6" fill="#eea13f" stroke="none" stroke-width="1"/>
<rect x="531.20" y="525.60" width="5.6" height="5.6" fill="#eea13f" stroke="none" stroke-width="1"/>
<rect x="533.30" y="525.60" width="5.6" height="5.6" fill="#eea13f" stroke="none" stroke-width="1"/>
<rect x="530.00" y="525.60" width="5.6" height="5.6" fill="#eea13f" stroke="none" stroke-width="1"/>
<rect x="534.10" y="525.60" width="5.6" height="5.6" fill="#eea13f" stroke="none" stroke-width="1"/>
<rect x="532.20" y="525.60" width="5.6" height="5.6" fill="#eea13f" stroke="none" stroke-width="1"/>
<rect x="529.00" y="525.60" width="5.6" height="5.6" fill="#eea13f" stroke="none" stroke-width="1"/>
<path d="M549.00,572.70 V528.40 H559.40 V572.70" fill="none" stroke="#eea13f" stroke-width="2.1"/>
<rect x="548.80" y="525.60" width="5.6" height="5.6" fill="#eea13f" stroke="none" stroke-width="1"/>
<rect x="554.00" y="525.60" width="5.6" height="5.6" fill="#eea13f" stroke="none" stroke-width="1"/>
<rect x="550.60" y="525.60" width="5.6" height="5.6" fill="#eea13f" stroke="none" stroke-width="1"/>
<rect x="552.70" y="525.60" width="5.6" height="5.6" fill="#eea13f" stroke="none" stroke-width="1"/>
<rect x="549.40" y="525.60" width="5.6" height="5.6" fill="#eea13f" stroke="none" stroke-width="1"/>
<rect x="553.50" y="525.60" width="5.6" height="5.6" fill="#eea13f" stroke="none" stroke-width="1"/>
<rect x="551.60" y="525.60" width="5.6" height="5.6" fill="#eea13f" stroke="none" stroke-width="1"/>
<rect x="548.40" y="525.60" width="5.6" height="5.6" fill="#eea13f" stroke="none" stroke-width="1"/>
<path d="M581.10,572.70 V528.40 H591.50 V572.70" fill="none" stroke="#f07c88" stroke-width="2.1"/>
<polygon points="583.70,525.34 580.70,530.44 586.70,530.44" fill="#f07c88" stroke="none" stroke-width="1"/>
<polygon points="588.90,525.34 585.90,530.44 591.90,530.44" fill="#f07c88" stroke="none" stroke-width="1"/>
<polygon points="585.50,525.34 582.50,530.44 588.50,530.44" fill="#f07c88" stroke="none" stroke-width="1"/>
<polygon points="587.60,525.34 584.60,530.44 590.60,530.44" fill="#f07c88" stroke="none" stroke-width="1"/>
<polygon points="584.30,525.34 581.30,530.44 587.30,530.44" fill="#f07c88" stroke="none" stroke-width="1"/>
<polygon points="588.40,525.34 585.40,530.44 591.40,530.44" fill="#f07c88" stroke="none" stroke-width="1"/>
<polygon points="586.50,525.34 583.50,530.44 589.50,530.44" fill="#f07c88" stroke="none" stroke-width="1"/>
<polygon points="583.30,525.34 580.30,530.44 586.30,530.44" fill="#f07c88" stroke="none" stroke-width="1"/>
<path d="M600.50,572.70 V528.40 H610.90 V572.70" fill="none" stroke="#f07c88" stroke-width="2.1"/>
<polygon points="603.10,525.34 600.10,530.44 606.10,530.44" fill="#f07c88" stroke="none" stroke-width="1"/>
<polygon points="608.30,525.34 605.30,530.44 611.30,530.44" fill="#f07c88" stroke="none" stroke-width="1"/>
<polygon points="604.90,525.34 601.90,530.44 607.90,530.44" fill="#f07c88" stroke="none" stroke-width="1"/>
<polygon points="607.00,525.34 604.00,530.44 610.00,530.44" fill="#f07c88" stroke="none" stroke-width="1"/>
<polygon points="603.70,525.34 600.70,530.44 606.70,530.44" fill="#f07c88" stroke="none" stroke-width="1"/>
<polygon points="607.80,525.34 604.80,530.44 610.80,530.44" fill="#f07c88" stroke="none" stroke-width="1"/>
<polygon points="605.90,525.34 602.90,530.44 608.90,530.44" fill="#f07c88" stroke="none" stroke-width="1"/>
<polygon points="602.70,525.34 599.70,530.44 605.70,530.44" fill="#f07c88" stroke="none" stroke-width="1"/>
<path d="M619.90,572.70 V527.29 H630.30 V572.70" fill="none" stroke="#f07c88" stroke-width="2.1"/>
<line x1="625.10" y1="526.19" x2="625.10" y2="528.40" stroke="#f07c88" stroke-width="1.1" />
<line x1="621.60" y1="526.19" x2="628.60" y2="526.19" stroke="#f07c88" stroke-width="1.1" />
<line x1="621.60" y1="528.40" x2="628.60" y2="528.40" stroke="#f07c88" stroke-width="1.1" />
<polygon points="622.50,525.34 619.50,530.44 625.50,530.44" fill="#f07c88" stroke="none" stroke-width="1"/>
<polygon points="627.70,525.34 624.70,530.44 630.70,530.44" fill="#f07c88" stroke="none" stroke-width="1"/>
<polygon points="624.30,525.34 621.30,530.44 627.30,530.44" fill="#f07c88" stroke="none" stroke-width="1"/>
<polygon points="626.40,525.34 623.40,530.44 629.40,530.44" fill="#f07c88" stroke="none" stroke-width="1"/>
<polygon points="623.10,525.34 620.10,530.44 626.10,530.44" fill="#f07c88" stroke="none" stroke-width="1"/>
<polygon points="627.20,525.34 624.20,530.44 630.20,530.44" fill="#f07c88" stroke="none" stroke-width="1"/>
<polygon points="625.30,522.02 622.30,527.12 628.30,527.12" fill="#f07c88" stroke="none" stroke-width="1"/>
<polygon points="622.10,522.02 619.10,527.12 625.10,527.12" fill="#f07c88" stroke="none" stroke-width="1"/>
<path d="M639.10,572.70 V526.63 H649.50 V572.70" fill="none" stroke="#f07c88" stroke-width="2.1"/>
<line x1="644.30" y1="525.08" x2="644.30" y2="528.18" stroke="#f07c88" stroke-width="1.1" />
<line x1="640.80" y1="525.08" x2="647.80" y2="525.08" stroke="#f07c88" stroke-width="1.1" />
<line x1="640.80" y1="528.18" x2="647.80" y2="528.18" stroke="#f07c88" stroke-width="1.1" />
<polygon points="641.70,525.34 638.70,530.44 644.70,530.44" fill="#f07c88" stroke="none" stroke-width="1"/>
<polygon points="646.90,525.34 643.90,530.44 649.90,530.44" fill="#f07c88" stroke="none" stroke-width="1"/>
<polygon points="643.50,525.34 640.50,530.44 646.50,530.44" fill="#f07c88" stroke="none" stroke-width="1"/>
<polygon points="645.60,525.34 642.60,530.44 648.60,530.44" fill="#f07c88" stroke="none" stroke-width="1"/>
<polygon points="642.30,525.34 639.30,530.44 645.30,530.44" fill="#f07c88" stroke="none" stroke-width="1"/>
<polygon points="646.40,522.02 643.40,527.12 649.40,527.12" fill="#f07c88" stroke="none" stroke-width="1"/>
<polygon points="644.50,520.91 641.50,526.01 647.50,526.01" fill="#f07c88" stroke="none" stroke-width="1"/>
<polygon points="641.30,520.91 638.30,526.01 644.30,526.01" fill="#f07c88" stroke="none" stroke-width="1"/>
<line x1="395.40" y1="528.40" x2="657.00" y2="528.40" stroke="#3a3a3a" stroke-width="1.35" stroke-dasharray="1.4 2.6"/>
<line x1="393.40" y1="439.00" x2="393.40" y2="573.40" stroke="#1c1c1c" stroke-width="1.5" />
<line x1="392.70" y1="572.70" x2="658.00" y2="572.70" stroke="#1c1c1c" stroke-width="1.5" />
<line x1="387.90" y1="572.70" x2="393.40" y2="572.70" stroke="#1c1c1c" stroke-width="1.4" />
<text x="385.90" y="576.30" font-size="10.2" text-anchor="end" font-weight="normal" fill="#1c1c1c" >0</text>
<line x1="387.90" y1="528.40" x2="393.40" y2="528.40" stroke="#1c1c1c" stroke-width="1.4" />
<text x="385.90" y="532.00" font-size="10.2" text-anchor="end" font-weight="normal" fill="#1c1c1c" >2</text>
<line x1="387.90" y1="484.10" x2="393.40" y2="484.10" stroke="#1c1c1c" stroke-width="1.4" />
<text x="385.90" y="487.70" font-size="10.2" text-anchor="end" font-weight="normal" fill="#1c1c1c" >4</text>
<line x1="387.90" y1="439.80" x2="393.40" y2="439.80" stroke="#1c1c1c" stroke-width="1.4" />
<text x="385.90" y="443.40" font-size="10.2" text-anchor="end" font-weight="normal" fill="#1c1c1c" >6</text>
<line x1="406.30" y1="572.70" x2="406.30" y2="578.50" stroke="#1c1c1c" stroke-width="1.3" />
<text transform="translate(410.30,587.70) rotate(-45)" font-size="10.5" text-anchor="end" fill="#1c1c1c">Control</text>
<line x1="425.60" y1="572.70" x2="425.60" y2="578.50" stroke="#1c1c1c" stroke-width="1.3" />
<text transform="translate(429.60,588.20) rotate(-45)" font-size="10.5" text-anchor="end" fill="#1c1c1c">3dpi</text>
<line x1="444.90" y1="572.70" x2="444.90" y2="578.50" stroke="#1c1c1c" stroke-width="1.3" />
<text transform="translate(446.10,588.70) rotate(-45)" font-size="10.5" text-anchor="end" fill="#1c1c1c">7dpi</text>
<line x1="464.10" y1="572.70" x2="464.10" y2="578.50" stroke="#1c1c1c" stroke-width="1.3" />
<text transform="translate(465.60,588.90) rotate(-45)" font-size="10.5" text-anchor="end" fill="#1c1c1c">14dpi</text>
<line x1="495.90" y1="572.70" x2="495.90" y2="578.50" stroke="#1c1c1c" stroke-width="1.3" />
<text transform="translate(499.90,587.70) rotate(-45)" font-size="10.5" text-anchor="end" fill="#1c1c1c">Control</text>
<line x1="515.30" y1="572.70" x2="515.30" y2="578.50" stroke="#1c1c1c" stroke-width="1.3" />
<text transform="translate(519.30,588.20) rotate(-45)" font-size="10.5" text-anchor="end" fill="#1c1c1c">3dpi</text>
<line x1="534.80" y1="572.70" x2="534.80" y2="578.50" stroke="#1c1c1c" stroke-width="1.3" />
<text transform="translate(536.00,588.70) rotate(-45)" font-size="10.5" text-anchor="end" fill="#1c1c1c">7dpi</text>
<line x1="554.20" y1="572.70" x2="554.20" y2="578.50" stroke="#1c1c1c" stroke-width="1.3" />
<text transform="translate(555.70,588.90) rotate(-45)" font-size="10.5" text-anchor="end" fill="#1c1c1c">14dpi</text>
<line x1="586.30" y1="572.70" x2="586.30" y2="578.50" stroke="#1c1c1c" stroke-width="1.3" />
<text transform="translate(590.30,587.70) rotate(-45)" font-size="10.5" text-anchor="end" fill="#1c1c1c">Control</text>
<line x1="605.70" y1="572.70" x2="605.70" y2="578.50" stroke="#1c1c1c" stroke-width="1.3" />
<text transform="translate(609.70,588.20) rotate(-45)" font-size="10.5" text-anchor="end" fill="#1c1c1c">3dpi</text>
<line x1="625.10" y1="572.70" x2="625.10" y2="578.50" stroke="#1c1c1c" stroke-width="1.3" />
<text transform="translate(626.30,588.70) rotate(-45)" font-size="10.5" text-anchor="end" fill="#1c1c1c">7dpi</text>
<line x1="644.30" y1="572.70" x2="644.30" y2="578.50" stroke="#1c1c1c" stroke-width="1.3" />
<text transform="translate(645.80,588.90) rotate(-45)" font-size="10.5" text-anchor="end" fill="#1c1c1c">14dpi</text>
<path d="M406.30,448.00 V439.70 H464.10 V520.70" fill="none" stroke="#222" stroke-width="1.3"/>
<text x="435.20" y="433.50" font-size="10.9" text-anchor="middle" font-weight="normal" fill="#1c1c1c" >&gt;0.9999</text>
<path d="M406.30,475.80 V468.30 H444.90 V520.70" fill="none" stroke="#222" stroke-width="1.3"/>
<text x="425.60" y="462.00" font-size="10.9" text-anchor="middle" font-weight="normal" fill="#1c1c1c" >&gt;0.9999</text>
<path d="M406.30,520.70 V496.80 H425.60 V520.70" fill="none" stroke="#222" stroke-width="1.3"/>
<text x="415.95" y="489.80" font-size="10.9" text-anchor="middle" font-weight="normal" fill="#1c1c1c" >&gt;0.9999</text>
<path d="M495.90,445.30 V438.30 H554.20 V520.60" fill="none" stroke="#222" stroke-width="1.3"/>
<text x="525.05" y="432.30" font-size="10.9" text-anchor="middle" font-weight="normal" fill="#1c1c1c" >&gt;0.9999</text>
<path d="M495.90,475.20 V466.40 H534.80 V520.60" fill="none" stroke="#222" stroke-width="1.3"/>
<text x="515.35" y="459.30" font-size="10.9" text-anchor="middle" font-weight="normal" fill="#1c1c1c" >&gt;0.9999</text>
<path d="M495.90,520.60 V495.80 H515.30 V520.60" fill="none" stroke="#222" stroke-width="1.3"/>
<text x="505.60" y="489.20" font-size="10.9" text-anchor="middle" font-weight="normal" fill="#1c1c1c" >&gt;0.9999</text>
<path d="M586.30,447.40 V439.80 H644.30 V515.37" fill="none" stroke="#222" stroke-width="1.3"/>
<text x="615.30" y="433.50" font-size="10.9" text-anchor="middle" font-weight="normal" fill="#1c1c1c" >0.0010</text>
<path d="M586.30,475.80 V468.20 H625.10 V516.48" fill="none" stroke="#222" stroke-width="1.3"/>
<text x="605.70" y="461.40" font-size="10.9" text-anchor="middle" font-weight="normal" fill="#1c1c1c" >0.0388</text>
<path d="M586.30,519.80 V496.70 H605.70 V519.80" fill="none" stroke="#222" stroke-width="1.3"/>
<text x="596.00" y="489.80" font-size="10.9" text-anchor="middle" font-weight="normal" fill="#1c1c1c" >&gt;0.9999</text>
<text transform="translate(359.80,505.70) rotate(-90)" font-size="10.6" font-weight="bold" text-anchor="middle" fill="#1c1c1c">Liver</text>
<text transform="translate(372.80,513.20) rotate(-90)" font-size="11.0" font-weight="bold" text-anchor="middle" fill="#1c1c1c">TCID<tspan font-size="8.2" dy="2.6">50</tspan><tspan dy="-2.6">/mL&#160; (Log</tspan><tspan font-size="8.2" dy="2.6">10</tspan><tspan dy="-2.6">)</tspan></text>
<text x="-0.10" y="618.90" font-size="23.5" text-anchor="start" font-weight="bold" fill="#000" stroke="#000" stroke-width="0.5">g</text>
<path d="M67.50,773.20 V729.65 H77.90 V773.20" fill="none" stroke="#8b8fd7" stroke-width="2.1"/>
<line x1="72.70" y1="723.62" x2="72.70" y2="735.68" stroke="#8b8fd7" stroke-width="1.1" />
<line x1="69.20" y1="723.62" x2="76.20" y2="723.62" stroke="#8b8fd7" stroke-width="1.1" />
<line x1="69.20" y1="735.68" x2="76.20" y2="735.68" stroke="#8b8fd7" stroke-width="1.1" />
<circle cx="70.10" cy="723.29" r="2.7" fill="#8b8fd7" stroke="none" stroke-width="1"/>
<circle cx="75.30" cy="724.62" r="2.7" fill="#8b8fd7" stroke="none" stroke-width="1"/>
<circle cx="71.90" cy="726.97" r="2.7" fill="#8b8fd7" stroke="none" stroke-width="1"/>
<circle cx="74.00" cy="730.99" r="2.7" fill="#8b8fd7" stroke="none" stroke-width="1"/>
<circle cx="70.70" cy="742.72" r="2.7" fill="#8b8fd7" stroke="none" stroke-width="1"/>
<circle cx="74.80" cy="729.65" r="2.7" fill="#8b8fd7" stroke="none" stroke-width="1"/>
<circle cx="72.90" cy="726.30" r="2.7" fill="#8b8fd7" stroke="none" stroke-width="1"/>
<circle cx="69.70" cy="733.00" r="2.7" fill="#8b8fd7" stroke="none" stroke-width="1"/>
<path d="M86.80,773.20 V743.72 H97.20 V773.20" fill="none" stroke="#8b8fd7" stroke-width="2.1"/>
<line x1="92.00" y1="733.00" x2="92.00" y2="754.44" stroke="#8b8fd7" stroke-width="1.1" />
<line x1="88.50" y1="733.00" x2="95.50" y2="733.00" stroke="#8b8fd7" stroke-width="1.1" />
<line x1="88.50" y1="754.44" x2="95.50" y2="754.44" stroke="#8b8fd7" stroke-width="1.1" />
<circle cx="89.40" cy="727.98" r="2.7" fill="#8b8fd7" stroke="none" stroke-width="1"/>
<circle cx="94.60" cy="730.99" r="2.7" fill="#8b8fd7" stroke="none" stroke-width="1"/>
<circle cx="91.20" cy="739.03" r="2.7" fill="#8b8fd7" stroke="none" stroke-width="1"/>
<circle cx="93.30" cy="740.71" r="2.7" fill="#8b8fd7" stroke="none" stroke-width="1"/>
<circle cx="90.00" cy="750.09" r="2.7" fill="#8b8fd7" stroke="none" stroke-width="1"/>
<circle cx="94.10" cy="753.77" r="2.7" fill="#8b8fd7" stroke="none" stroke-width="1"/>
<circle cx="92.20" cy="756.12" r="2.7" fill="#8b8fd7" stroke="none" stroke-width="1"/>
<circle cx="89.00" cy="749.75" r="2.7" fill="#8b8fd7" stroke="none" stroke-width="1"/>
<path d="M106.10,773.20 V742.72 H116.50 V773.20" fill="none" stroke="#8b8fd7" stroke-width="2.1"/>
<line x1="111.30" y1="732.00" x2="111.30" y2="753.44" stroke="#8b8fd7" stroke-width="1.1" />
<line x1="107.80" y1="732.00" x2="114.80" y2="732.00" stroke="#8b8fd7" stroke-width="1.1" />
<line x1="107.80" y1="753.44" x2="114.80" y2="753.44" stroke="#8b8fd7" stroke-width="1.1" />
<circle cx="108.70" cy="724.96" r="2.7" fill="#8b8fd7" stroke="none" stroke-width="1"/>
<circle cx="113.90" cy="729.65" r="2.7" fill="#8b8fd7" stroke="none" stroke-width="1"/>
<circle cx="110.50" cy="735.01" r="2.7" fill="#8b8fd7" stroke="none" stroke-width="1"/>
<circle cx="112.60" cy="745.40" r="2.7" fill="#8b8fd7" stroke="none" stroke-width="1"/>
<circle cx="109.30" cy="749.08" r="2.7" fill="#8b8fd7" stroke="none" stroke-width="1"/>
<circle cx="113.40" cy="753.77" r="2.7" fill="#8b8fd7" stroke="none" stroke-width="1"/>
<circle cx="111.50" cy="749.75" r="2.7" fill="#8b8fd7" stroke="none" stroke-width="1"/>
<circle cx="108.30" cy="753.10" r="2.7" fill="#8b8fd7" stroke="none" stroke-width="1"/>
<path d="M125.40,773.20 V738.36 H135.80 V773.20" fill="none" stroke="#8b8fd7" stroke-width="2.1"/>
<line x1="130.60" y1="730.99" x2="130.60" y2="745.73" stroke="#8b8fd7" stroke-width="1.1" />
<line x1="127.10" y1="730.99" x2="134.10" y2="730.99" stroke="#8b8fd7" stroke-width="1.1" />
<line x1="127.10" y1="745.73" x2="134.10" y2="745.73" stroke="#8b8fd7" stroke-width="1.1" />
<circle cx="128.00" cy="723.29" r="2.7" fill="#8b8fd7" stroke="none" stroke-width="1"/>
<circle cx="133.20" cy="734.68" r="2.7" fill="#8b8fd7" stroke="none" stroke-width="1"/>
<circle cx="129.80" cy="744.39" r="2.7" fill="#8b8fd7" stroke="none" stroke-width="1"/>
<circle cx="131.90" cy="748.41" r="2.7" fill="#8b8fd7" stroke="none" stroke-width="1"/>
<circle cx="128.60" cy="736.35" r="2.7" fill="#8b8fd7" stroke="none" stroke-width="1"/>
<circle cx="132.70" cy="739.70" r="2.7" fill="#8b8fd7" stroke="none" stroke-width="1"/>
<circle cx="130.80" cy="741.38" r="2.7" fill="#8b8fd7" stroke="none" stroke-width="1"/>
<circle cx="127.60" cy="738.03" r="2.7" fill="#8b8fd7" stroke="none" stroke-width="1"/>
<path d="M157.20,773.20 V739.70 H167.60 V773.20" fill="none" stroke="#eea13f" stroke-width="2.1"/>
<line x1="162.40" y1="730.32" x2="162.40" y2="749.08" stroke="#eea13f" stroke-width="1.1" />
<line x1="158.90" y1="730.32" x2="165.90" y2="730.32" stroke="#eea13f" stroke-width="1.1" />
<line x1="158.90" y1="749.08" x2="165.90" y2="749.08" stroke="#eea13f" stroke-width="1.1" />
<rect x="157.00" y="726.52" width="5.6" height="5.6" fill="#eea13f" stroke="none" stroke-width="1"/>
<rect x="162.20" y="728.53" width="5.6" height="5.6" fill="#eea13f" stroke="none" stroke-width="1"/>
<rect x="158.80" y="729.87" width="5.6" height="5.6" fill="#eea13f" stroke="none" stroke-width="1"/>
<rect x="160.90" y="739.25" width="5.6" height="5.6" fill="#eea13f" stroke="none" stroke-width="1"/>
<rect x="157.60" y="747.29" width="5.6" height="5.6" fill="#eea13f" stroke="none" stroke-width="1"/>
<rect x="161.70" y="750.97" width="5.6" height="5.6" fill="#eea13f" stroke="none" stroke-width="1"/>
<rect x="159.80" y="727.52" width="5.6" height="5.6" fill="#eea13f" stroke="none" stroke-width="1"/>
<rect x="156.60" y="740.25" width="5.6" height="5.6" fill="#eea13f" stroke="none" stroke-width="1"/>
<path d="M176.70,773.20 V738.03 H187.10 V773.20" fill="none" stroke="#eea13f" stroke-width="2.1"/>
<line x1="181.90" y1="730.66" x2="181.90" y2="745.40" stroke="#eea13f" stroke-width="1.1" />
<line x1="178.40" y1="730.66" x2="185.40" y2="730.66" stroke="#eea13f" stroke-width="1.1" />
<line x1="178.40" y1="745.40" x2="185.40" y2="745.40" stroke="#eea13f" stroke-width="1.1" />
<rect x="176.50" y="726.85" width="5.6" height="5.6" fill="#eea13f" stroke="none" stroke-width="1"/>
<rect x="181.70" y="727.52" width="5.6" height="5.6" fill="#eea13f" stroke="none" stroke-width="1"/>
<rect x="178.30" y="728.53" width="5.6" height="5.6" fill="#eea13f" stroke="none" stroke-width="1"/>
<rect x="180.40" y="739.25" width="5.6" height="5.6" fill="#eea13f" stroke="none" stroke-width="1"/>
<rect x="177.10" y="747.29" width="5.6" height="5.6" fill="#eea13f" stroke="none" stroke-width="1"/>
<rect x="181.20" y="736.90" width="5.6" height="5.6" fill="#eea13f" stroke="none" stroke-width="1"/>
<rect x="179.30" y="733.55" width="5.6" height="5.6" fill="#eea13f" stroke="none" stroke-width="1"/>
<rect x="176.10" y="738.58" width="5.6" height="5.6" fill="#eea13f" stroke="none" stroke-width="1"/>
<path d="M196.10,773.20 V743.05 H206.50 V773.20" fill="none" stroke="#eea13f" stroke-width="2.1"/>
<line x1="201.30" y1="733.00" x2="201.30" y2="753.10" stroke="#eea13f" stroke-width="1.1" />
<line x1="197.80" y1="733.00" x2="204.80" y2="733.00" stroke="#eea13f" stroke-width="1.1" />
<line x1="197.80" y1="753.10" x2="204.80" y2="753.10" stroke="#eea13f" stroke-width="1.1" />
<rect x="195.90" y="723.50" width="5.6" height="5.6" fill="#eea13f" stroke="none" stroke-width="1"/>
<rect x="201.10" y="734.56" width="5.6" height="5.6" fill="#eea13f" stroke="none" stroke-width="1"/>
<rect x="197.70" y="735.23" width="5.6" height="5.6" fill="#eea13f" stroke="none" stroke-width="1"/>
<rect x="199.80" y="748.63" width="5.6" height="5.6" fill="#eea13f" stroke="none" stroke-width="1"/>
<rect x="196.50" y="751.98" width="5.6" height="5.6" fill="#eea13f" stroke="none" stroke-width="1"/>
<rect x="200.60" y="740.25" width="5.6" height="5.6" fill="#eea13f" stroke="none" stroke-width="1"/>
<rect x="198.70" y="743.60" width="5.6" height="5.6" fill="#eea13f" stroke="none" stroke-width="1"/>
<rect x="195.50" y="745.28" width="5.6" height="5.6" fill="#eea13f" stroke="none" stroke-width="1"/>
<path d="M215.60,773.20 V745.40 H226.00 V773.20" fill="none" stroke="#eea13f" stroke-width="2.1"/>
<line x1="220.80" y1="735.35" x2="220.80" y2="755.45" stroke="#eea13f" stroke-width="1.1" />
<line x1="217.30" y1="735.35" x2="224.30" y2="735.35" stroke="#eea13f" stroke-width="1.1" />
<line x1="217.30" y1="755.45" x2="224.30" y2="755.45" stroke="#eea13f" stroke-width="1.1" />
<rect x="215.40" y="722.16" width="5.6" height="5.6" fill="#eea13f" stroke="none" stroke-width="1"/>
<rect x="220.60" y="731.88" width="5.6" height="5.6" fill="#eea13f" stroke="none" stroke-width="1"/>
<rect x="217.20" y="746.28" width="5.6" height="5.6" fill="#eea13f" stroke="none" stroke-width="1"/>
<rect x="219.30" y="749.63" width="5.6" height="5.6" fill="#eea13f" stroke="none" stroke-width="1"/>
<rect x="216.00" y="743.60" width="5.6" height="5.6" fill="#eea13f" stroke="none" stroke-width="1"/>
<rect x="220.10" y="746.95" width="5.6" height="5.6" fill="#eea13f" stroke="none" stroke-width="1"/>
<rect x="218.20" y="748.63" width="5.6" height="5.6" fill="#eea13f" stroke="none" stroke-width="1"/>
<rect x="215.00" y="741.93" width="5.6" height="5.6" fill="#eea13f" stroke="none" stroke-width="1"/>
<path d="M247.10,773.20 V737.36 H257.50 V773.20" fill="none" stroke="#f07c88" stroke-width="2.1"/>
<line x1="252.30" y1="728.98" x2="252.30" y2="745.73" stroke="#f07c88" stroke-width="1.1" />
<line x1="248.80" y1="728.98" x2="255.80" y2="728.98" stroke="#f07c88" stroke-width="1.1" />
<line x1="248.80" y1="745.73" x2="255.80" y2="745.73" stroke="#f07c88" stroke-width="1.1" />
<polygon points="249.70,720.23 246.70,725.33 252.70,725.33" fill="#f07c88" stroke="none" stroke-width="1"/>
<polygon points="254.90,723.58 251.90,728.67 257.90,728.67" fill="#f07c88" stroke="none" stroke-width="1"/>
<polygon points="251.50,731.95 248.50,737.05 254.50,737.05" fill="#f07c88" stroke="none" stroke-width="1"/>
<polygon points="253.60,738.99 250.60,744.09 256.60,744.09" fill="#f07c88" stroke="none" stroke-width="1"/>
<polygon points="250.30,741.33 247.30,746.43 253.30,746.43" fill="#f07c88" stroke="none" stroke-width="1"/>
<polygon points="254.40,736.64 251.40,741.74 257.40,741.74" fill="#f07c88" stroke="none" stroke-width="1"/>
<polygon points="252.50,739.99 249.50,745.09 255.50,745.09" fill="#f07c88" stroke="none" stroke-width="1"/>
<polygon points="249.30,741.67 246.30,746.76 252.30,746.76" fill="#f07c88" stroke="none" stroke-width="1"/>
<path d="M266.70,773.20 V743.72 H277.10 V773.20" fill="none" stroke="#f07c88" stroke-width="2.1"/>
<line x1="271.90" y1="736.35" x2="271.90" y2="751.09" stroke="#f07c88" stroke-width="1.1" />
<line x1="268.40" y1="736.35" x2="275.40" y2="736.35" stroke="#f07c88" stroke-width="1.1" />
<line x1="268.40" y1="751.09" x2="275.40" y2="751.09" stroke="#f07c88" stroke-width="1.1" />
<polygon points="269.30,729.61 266.30,734.71 272.30,734.71" fill="#f07c88" stroke="none" stroke-width="1"/>
<polygon points="274.50,736.64 271.50,741.74 277.50,741.74" fill="#f07c88" stroke="none" stroke-width="1"/>
<polygon points="271.10,744.68 268.10,749.78 274.10,749.78" fill="#f07c88" stroke="none" stroke-width="1"/>
<polygon points="273.20,747.03 270.20,752.12 276.20,752.12" fill="#f07c88" stroke="none" stroke-width="1"/>
<polygon points="269.90,751.72 266.90,756.82 272.90,756.82" fill="#f07c88" stroke="none" stroke-width="1"/>
<polygon points="274.00,739.99 271.00,745.09 277.00,745.09" fill="#f07c88" stroke="none" stroke-width="1"/>
<polygon points="272.10,743.34 269.10,748.44 275.10,748.44" fill="#f07c88" stroke="none" stroke-width="1"/>
<polygon points="268.90,733.29 265.90,738.39 271.90,738.39" fill="#f07c88" stroke="none" stroke-width="1"/>
<path d="M286.30,773.20 V724.96 H296.70 V773.20" fill="none" stroke="#f07c88" stroke-width="2.1"/>
<line x1="291.50" y1="710.89" x2="291.50" y2="739.03" stroke="#f07c88" stroke-width="1.1" />
<line x1="288.00" y1="710.89" x2="295.00" y2="710.89" stroke="#f07c88" stroke-width="1.1" />
<line x1="288.00" y1="739.03" x2="295.00" y2="739.03" stroke="#f07c88" stroke-width="1.1" />
<polygon points="288.90,711.85 285.90,716.95 291.90,716.95" fill="#f07c88" stroke="none" stroke-width="1"/>
<polygon points="294.10,715.54 291.10,720.63 297.10,720.63" fill="#f07c88" stroke="none" stroke-width="1"/>
<polygon points="290.70,717.21 287.70,722.31 293.70,722.31" fill="#f07c88" stroke="none" stroke-width="1"/>
<polygon points="292.80,723.58 289.80,728.67 295.80,728.67" fill="#f07c88" stroke="none" stroke-width="1"/>
<polygon points="289.50,755.07 286.50,760.16 292.50,760.16" fill="#f07c88" stroke="none" stroke-width="1"/>
<polygon points="293.60,719.89 290.60,724.99 296.60,724.99" fill="#f07c88" stroke="none" stroke-width="1"/>
<polygon points="291.70,716.54 288.70,721.64 294.70,721.64" fill="#f07c88" stroke="none" stroke-width="1"/>
<polygon points="288.50,714.87 285.50,719.97 291.50,719.97" fill="#f07c88" stroke="none" stroke-width="1"/>
<path d="M305.60,773.20 V705.87 H316.00 V773.20" fill="none" stroke="#f07c88" stroke-width="2.1"/>
<line x1="310.80" y1="691.80" x2="310.80" y2="719.94" stroke="#f07c88" stroke-width="1.1" />
<line x1="307.30" y1="691.80" x2="314.30" y2="691.80" stroke="#f07c88" stroke-width="1.1" />
<line x1="307.30" y1="719.94" x2="314.30" y2="719.94" stroke="#f07c88" stroke-width="1.1" />
<polygon points="308.20,677.01 305.20,682.11 311.20,682.11" fill="#f07c88" stroke="none" stroke-width="1"/>
<polygon points="313.40,687.40 310.40,692.50 316.40,692.50" fill="#f07c88" stroke="none" stroke-width="1"/>
<polygon points="310.00,694.43 307.00,699.53 313.00,699.53" fill="#f07c88" stroke="none" stroke-width="1"/>
<polygon points="312.10,706.16 309.10,711.25 315.10,711.25" fill="#f07c88" stroke="none" stroke-width="1"/>
<polygon points="308.80,710.85 305.80,715.95 311.80,715.95" fill="#f07c88" stroke="none" stroke-width="1"/>
<polygon points="312.90,720.23 309.90,725.33 315.90,725.33" fill="#f07c88" stroke="none" stroke-width="1"/>
<polygon points="311.00,703.14 308.00,708.24 314.00,708.24" fill="#f07c88" stroke="none" stroke-width="1"/>
<polygon points="307.80,723.24 304.80,728.34 310.80,728.34" fill="#f07c88" stroke="none" stroke-width="1"/>
<line x1="62.30" y1="722.90" x2="322.40" y2="722.90" stroke="#3a3a3a" stroke-width="1.35" stroke-dasharray="1.4 2.6"/>
<line x1="60.30" y1="639.60" x2="60.30" y2="773.90" stroke="#1c1c1c" stroke-width="1.5" />
<line x1="59.60" y1="773.20" x2="323.40" y2="773.20" stroke="#1c1c1c" stroke-width="1.5" />
<line x1="54.80" y1="773.20" x2="60.30" y2="773.20" stroke="#1c1c1c" stroke-width="1.4" />
<text x="52.80" y="776.80" font-size="10.2" text-anchor="end" font-weight="normal" fill="#1c1c1c" >0</text>
<line x1="54.80" y1="739.70" x2="60.30" y2="739.70" stroke="#1c1c1c" stroke-width="1.4" />
<text x="52.80" y="743.30" font-size="10.2" text-anchor="end" font-weight="normal" fill="#1c1c1c" >1</text>
<line x1="54.80" y1="706.20" x2="60.30" y2="706.20" stroke="#1c1c1c" stroke-width="1.4" />
<text x="52.80" y="709.80" font-size="10.2" text-anchor="end" font-weight="normal" fill="#1c1c1c" >2</text>
<line x1="54.80" y1="672.70" x2="60.30" y2="672.70" stroke="#1c1c1c" stroke-width="1.4" />
<text x="52.80" y="676.30" font-size="10.2" text-anchor="end" font-weight="normal" fill="#1c1c1c" >3</text>
<line x1="54.80" y1="639.20" x2="60.30" y2="639.20" stroke="#1c1c1c" stroke-width="1.4" />
<text x="52.80" y="642.80" font-size="10.2" text-anchor="end" font-weight="normal" fill="#1c1c1c" >4</text>
<line x1="72.70" y1="773.20" x2="72.70" y2="779.00" stroke="#1c1c1c" stroke-width="1.3" />
<text transform="translate(76.70,788.20) rotate(-45)" font-size="10.5" text-anchor="end" fill="#1c1c1c">Control</text>
<line x1="92.00" y1="773.20" x2="92.00" y2="779.00" stroke="#1c1c1c" stroke-width="1.3" />
<text transform="translate(96.00,788.70) rotate(-45)" font-size="10.5" text-anchor="end" fill="#1c1c1c">3dpi</text>
<line x1="111.30" y1="773.20" x2="111.30" y2="779.00" stroke="#1c1c1c" stroke-width="1.3" />
<text transform="translate(112.50,789.20) rotate(-45)" font-size="10.5" text-anchor="end" fill="#1c1c1c">7dpi</text>
<line x1="130.60" y1="773.20" x2="130.60" y2="779.00" stroke="#1c1c1c" stroke-width="1.3" />
<text transform="translate(132.10,789.40) rotate(-45)" font-size="10.5" text-anchor="end" fill="#1c1c1c">14dpi</text>
<line x1="162.40" y1="773.20" x2="162.40" y2="779.00" stroke="#1c1c1c" stroke-width="1.3" />
<text transform="translate(166.40,788.20) rotate(-45)" font-size="10.5" text-anchor="end" fill="#1c1c1c">Control</text>
<line x1="181.90" y1="773.20" x2="181.90" y2="779.00" stroke="#1c1c1c" stroke-width="1.3" />
<text transform="translate(185.90,788.70) rotate(-45)" font-size="10.5" text-anchor="end" fill="#1c1c1c">3dpi</text>
<line x1="201.30" y1="773.20" x2="201.30" y2="779.00" stroke="#1c1c1c" stroke-width="1.3" />
<text transform="translate(202.50,789.20) rotate(-45)" font-size="10.5" text-anchor="end" fill="#1c1c1c">7dpi</text>
<line x1="220.80" y1="773.20" x2="220.80" y2="779.00" stroke="#1c1c1c" stroke-width="1.3" />
<text transform="translate(222.30,789.40) rotate(-45)" font-size="10.5" text-anchor="end" fill="#1c1c1c">14dpi</text>
<line x1="252.30" y1="773.20" x2="252.30" y2="779.00" stroke="#1c1c1c" stroke-width="1.3" />
<text transform="translate(256.30,788.20) rotate(-45)" font-size="10.5" text-anchor="end" fill="#1c1c1c">Control</text>
<line x1="271.90" y1="773.20" x2="271.90" y2="779.00" stroke="#1c1c1c" stroke-width="1.3" />
<text transform="translate(275.90,788.70) rotate(-45)" font-size="10.5" text-anchor="end" fill="#1c1c1c">3dpi</text>
<line x1="291.50" y1="773.20" x2="291.50" y2="779.00" stroke="#1c1c1c" stroke-width="1.3" />
<text transform="translate(292.70,789.20) rotate(-45)" font-size="10.5" text-anchor="end" fill="#1c1c1c">7dpi</text>
<line x1="310.80" y1="773.20" x2="310.80" y2="779.00" stroke="#1c1c1c" stroke-width="1.3" />
<text transform="translate(312.30,789.40) rotate(-45)" font-size="10.5" text-anchor="end" fill="#1c1c1c">14dpi</text>
<path d="M72.70,650.50 V642.60 H130.60 V715.59" fill="none" stroke="#222" stroke-width="1.3"/>
<text x="101.65" y="635.90" font-size="10.9" text-anchor="middle" font-weight="normal" fill="#1c1c1c" >0.3169</text>
<path d="M72.70,680.80 V670.70 H111.30 V717.26" fill="none" stroke="#222" stroke-width="1.3"/>
<text x="92.00" y="664.50" font-size="10.9" text-anchor="middle" font-weight="normal" fill="#1c1c1c" >0.0744</text>
<path d="M72.70,715.59 V701.80 H92.00 V720.27" fill="none" stroke="#222" stroke-width="1.3"/>
<text x="82.35" y="694.80" font-size="10.9" text-anchor="middle" font-weight="normal" fill="#1c1c1c" >0.0427</text>
<path d="M162.40,649.20 V641.90 H220.80 V717.16" fill="none" stroke="#222" stroke-width="1.3"/>
<text x="191.60" y="636.10" font-size="10.9" text-anchor="middle" font-weight="normal" fill="#1c1c1c" >0.5603</text>
<path d="M162.40,679.60 V670.20 H201.30 V718.50" fill="none" stroke="#222" stroke-width="1.3"/>
<text x="181.85" y="663.20" font-size="10.9" text-anchor="middle" font-weight="normal" fill="#1c1c1c" >0.8326</text>
<path d="M162.40,721.52 V700.90 H181.90 V721.85" fill="none" stroke="#222" stroke-width="1.3"/>
<text x="172.15" y="693.60" font-size="10.9" text-anchor="middle" font-weight="normal" fill="#1c1c1c" >0.9708</text>
<path d="M252.30,649.20 V641.00 H310.80 V671.47" fill="none" stroke="#222" stroke-width="1.3"/>
<text x="281.55" y="634.60" font-size="10.9" text-anchor="middle" font-weight="normal" fill="#1c1c1c" >&lt;0.0001</text>
<path d="M252.30,679.60 V670.20 H291.50 V706.31" fill="none" stroke="#222" stroke-width="1.3"/>
<text x="271.90" y="663.20" font-size="10.9" text-anchor="middle" font-weight="normal" fill="#1c1c1c" >0.0588</text>
<path d="M252.30,714.69 V700.90 H271.90 V724.07" fill="none" stroke="#222" stroke-width="1.3"/>
<text x="262.10" y="693.60" font-size="10.9" text-anchor="middle" font-weight="normal" fill="#1c1c1c" >0.4775</text>
<text transform="translate(25.60,706.00) rotate(-90)" font-size="10.6" font-weight="bold" text-anchor="middle" fill="#1c1c1c">Spleen</text>
<text transform="translate(39.00,706.00) rotate(-90)" font-size="10.6" font-weight="bold" text-anchor="middle" fill="#1c1c1c">Copies/mL (Log<tspan font-size="8.2" dy="2.6">10</tspan><tspan dy="-2.6">)</tspan></text>
<text x="333.30" y="624.80" font-size="23.5" text-anchor="start" font-weight="bold" fill="#000" stroke="#000" stroke-width="0.5">h</text>
<path d="M401.10,772.60 V719.40 H411.50 V772.60" fill="none" stroke="#8b8fd7" stroke-width="2.1"/>
<circle cx="403.70" cy="719.40" r="2.7" fill="#8b8fd7" stroke="none" stroke-width="1"/>
<circle cx="408.90" cy="719.40" r="2.7" fill="#8b8fd7" stroke="none" stroke-width="1"/>
<circle cx="405.50" cy="719.40" r="2.7" fill="#8b8fd7" stroke="none" stroke-width="1"/>
<circle cx="407.60" cy="719.40" r="2.7" fill="#8b8fd7" stroke="none" stroke-width="1"/>
<circle cx="404.30" cy="719.40" r="2.7" fill="#8b8fd7" stroke="none" stroke-width="1"/>
<circle cx="408.40" cy="719.40" r="2.7" fill="#8b8fd7" stroke="none" stroke-width="1"/>
<circle cx="406.50" cy="719.40" r="2.7" fill="#8b8fd7" stroke="none" stroke-width="1"/>
<circle cx="403.30" cy="719.40" r="2.7" fill="#8b8fd7" stroke="none" stroke-width="1"/>
<path d="M420.40,772.60 V719.40 H430.80 V772.60" fill="none" stroke="#8b8fd7" stroke-width="2.1"/>
<circle cx="423.00" cy="719.40" r="2.7" fill="#8b8fd7" stroke="none" stroke-width="1"/>
<circle cx="428.20" cy="719.40" r="2.7" fill="#8b8fd7" stroke="none" stroke-width="1"/>
<circle cx="424.80" cy="719.40" r="2.7" fill="#8b8fd7" stroke="none" stroke-width="1"/>
<circle cx="426.90" cy="719.40" r="2.7" fill="#8b8fd7" stroke="none" stroke-width="1"/>
<circle cx="423.60" cy="719.40" r="2.7" fill="#8b8fd7" stroke="none" stroke-width="1"/>
<circle cx="427.70" cy="719.40" r="2.7" fill="#8b8fd7" stroke="none" stroke-width="1"/>
<circle cx="425.80" cy="719.40" r="2.7" fill="#8b8fd7" stroke="none" stroke-width="1"/>
<circle cx="422.60" cy="719.40" r="2.7" fill="#8b8fd7" stroke="none" stroke-width="1"/>
<path d="M439.70,772.60 V719.40 H450.10 V772.60" fill="none" stroke="#8b8fd7" stroke-width="2.1"/>
<circle cx="442.30" cy="719.40" r="2.7" fill="#8b8fd7" stroke="none" stroke-width="1"/>
<circle cx="447.50" cy="719.40" r="2.7" fill="#8b8fd7" stroke="none" stroke-width="1"/>
<circle cx="444.10" cy="719.40" r="2.7" fill="#8b8fd7" stroke="none" stroke-width="1"/>
<circle cx="446.20" cy="719.40" r="2.7" fill="#8b8fd7" stroke="none" stroke-width="1"/>
<circle cx="442.90" cy="719.40" r="2.7" fill="#8b8fd7" stroke="none" stroke-width="1"/>
<circle cx="447.00" cy="719.40" r="2.7" fill="#8b8fd7" stroke="none" stroke-width="1"/>
<circle cx="445.10" cy="719.40" r="2.7" fill="#8b8fd7" stroke="none" stroke-width="1"/>
<circle cx="441.90" cy="719.40" r="2.7" fill="#8b8fd7" stroke="none" stroke-width="1"/>
<path d="M458.90,772.60 V719.40 H469.30 V772.60" fill="none" stroke="#8b8fd7" stroke-width="2.1"/>
<circle cx="461.50" cy="719.40" r="2.7" fill="#8b8fd7" stroke="none" stroke-width="1"/>
<circle cx="466.70" cy="719.40" r="2.7" fill="#8b8fd7" stroke="none" stroke-width="1"/>
<circle cx="463.30" cy="719.40" r="2.7" fill="#8b8fd7" stroke="none" stroke-width="1"/>
<circle cx="465.40" cy="719.40" r="2.7" fill="#8b8fd7" stroke="none" stroke-width="1"/>
<circle cx="462.10" cy="719.40" r="2.7" fill="#8b8fd7" stroke="none" stroke-width="1"/>
<circle cx="466.20" cy="719.40" r="2.7" fill="#8b8fd7" stroke="none" stroke-width="1"/>
<circle cx="464.30" cy="719.40" r="2.7" fill="#8b8fd7" stroke="none" stroke-width="1"/>
<circle cx="461.10" cy="719.40" r="2.7" fill="#8b8fd7" stroke="none" stroke-width="1"/>
<path d="M490.70,772.60 V719.40 H501.10 V772.60" fill="none" stroke="#eea13f" stroke-width="2.1"/>
<rect x="490.50" y="716.60" width="5.6" height="5.6" fill="#eea13f" stroke="none" stroke-width="1"/>
<rect x="495.70" y="716.60" width="5.6" height="5.6" fill="#eea13f" stroke="none" stroke-width="1"/>
<rect x="492.30" y="716.60" width="5.6" height="5.6" fill="#eea13f" stroke="none" stroke-width="1"/>
<rect x="494.40" y="716.60" width="5.6" height="5.6" fill="#eea13f" stroke="none" stroke-width="1"/>
<rect x="491.10" y="716.60" width="5.6" height="5.6" fill="#eea13f" stroke="none" stroke-width="1"/>
<rect x="495.20" y="716.60" width="5.6" height="5.6" fill="#eea13f" stroke="none" stroke-width="1"/>
<rect x="493.30" y="716.60" width="5.6" height="5.6" fill="#eea13f" stroke="none" stroke-width="1"/>
<rect x="490.10" y="716.60" width="5.6" height="5.6" fill="#eea13f" stroke="none" stroke-width="1"/>
<path d="M510.10,772.60 V719.40 H520.50 V772.60" fill="none" stroke="#eea13f" stroke-width="2.1"/>
<rect x="509.90" y="716.60" width="5.6" height="5.6" fill="#eea13f" stroke="none" stroke-width="1"/>
<rect x="515.10" y="716.60" width="5.6" height="5.6" fill="#eea13f" stroke="none" stroke-width="1"/>
<rect x="511.70" y="716.60" width="5.6" height="5.6" fill="#eea13f" stroke="none" stroke-width="1"/>
<rect x="513.80" y="716.60" width="5.6" height="5.6" fill="#eea13f" stroke="none" stroke-width="1"/>
<rect x="510.50" y="716.60" width="5.6" height="5.6" fill="#eea13f" stroke="none" stroke-width="1"/>
<rect x="514.60" y="716.60" width="5.6" height="5.6" fill="#eea13f" stroke="none" stroke-width="1"/>
<rect x="512.70" y="716.60" width="5.6" height="5.6" fill="#eea13f" stroke="none" stroke-width="1"/>
<rect x="509.50" y="716.60" width="5.6" height="5.6" fill="#eea13f" stroke="none" stroke-width="1"/>
<path d="M529.60,772.60 V719.40 H540.00 V772.60" fill="none" stroke="#eea13f" stroke-width="2.1"/>
<rect x="529.40" y="716.60" width="5.6" height="5.6" fill="#eea13f" stroke="none" stroke-width="1"/>
<rect x="534.60" y="716.60" width="5.6" height="5.6" fill="#eea13f" stroke="none" stroke-width="1"/>
<rect x="531.20" y="716.60" width="5.6" height="5.6" fill="#eea13f" stroke="none" stroke-width="1"/>
<rect x="533.30" y="716.60" width="5.6" height="5.6" fill="#eea13f" stroke="none" stroke-width="1"/>
<rect x="530.00" y="716.60" width="5.6" height="5.6" fill="#eea13f" stroke="none" stroke-width="1"/>
<rect x="534.10" y="716.60" width="5.6" height="5.6" fill="#eea13f" stroke="none" stroke-width="1"/>
<rect x="532.20" y="716.60" width="5.6" height="5.6" fill="#eea13f" stroke="none" stroke-width="1"/>
<rect x="529.00" y="716.60" width="5.6" height="5.6" fill="#eea13f" stroke="none" stroke-width="1"/>
<path d="M549.00,772.60 V719.40 H559.40 V772.60" fill="none" stroke="#eea13f" stroke-width="2.1"/>
<rect x="548.80" y="716.60" width="5.6" height="5.6" fill="#eea13f" stroke="none" stroke-width="1"/>
<rect x="554.00" y="716.60" width="5.6" height="5.6" fill="#eea13f" stroke="none" stroke-width="1"/>
<rect x="550.60" y="716.60" width="5.6" height="5.6" fill="#eea13f" stroke="none" stroke-width="1"/>
<rect x="552.70" y="716.60" width="5.6" height="5.6" fill="#eea13f" stroke="none" stroke-width="1"/>
<rect x="549.40" y="716.60" width="5.6" height="5.6" fill="#eea13f" stroke="none" stroke-width="1"/>
<rect x="553.50" y="716.60" width="5.6" height="5.6" fill="#eea13f" stroke="none" stroke-width="1"/>
<rect x="551.60" y="716.60" width="5.6" height="5.6" fill="#eea13f" stroke="none" stroke-width="1"/>
<rect x="548.40" y="716.60" width="5.6" height="5.6" fill="#eea13f" stroke="none" stroke-width="1"/>
<path d="M581.10,772.60 V719.40 H591.50 V772.60" fill="none" stroke="#f07c88" stroke-width="2.1"/>
<polygon points="583.70,716.34 580.70,721.44 586.70,721.44" fill="#f07c88" stroke="none" stroke-width="1"/>
<polygon points="588.90,716.34 585.90,721.44 591.90,721.44" fill="#f07c88" stroke="none" stroke-width="1"/>
<polygon points="585.50,716.34 582.50,721.44 588.50,721.44" fill="#f07c88" stroke="none" stroke-width="1"/>
<polygon points="587.60,716.34 584.60,721.44 590.60,721.44" fill="#f07c88" stroke="none" stroke-width="1"/>
<polygon points="584.30,716.34 581.30,721.44 587.30,721.44" fill="#f07c88" stroke="none" stroke-width="1"/>
<polygon points="588.40,716.34 585.40,721.44 591.40,721.44" fill="#f07c88" stroke="none" stroke-width="1"/>
<polygon points="586.50,716.34 583.50,721.44 589.50,721.44" fill="#f07c88" stroke="none" stroke-width="1"/>
<polygon points="583.30,716.34 580.30,721.44 586.30,721.44" fill="#f07c88" stroke="none" stroke-width="1"/>
<path d="M600.50,772.60 V719.40 H610.90 V772.60" fill="none" stroke="#f07c88" stroke-width="2.1"/>
<polygon points="603.10,716.34 600.10,721.44 606.10,721.44" fill="#f07c88" stroke="none" stroke-width="1"/>
<polygon points="608.30,716.34 605.30,721.44 611.30,721.44" fill="#f07c88" stroke="none" stroke-width="1"/>
<polygon points="604.90,716.34 601.90,721.44 607.90,721.44" fill="#f07c88" stroke="none" stroke-width="1"/>
<polygon points="607.00,716.34 604.00,721.44 610.00,721.44" fill="#f07c88" stroke="none" stroke-width="1"/>
<polygon points="603.70,716.34 600.70,721.44 606.70,721.44" fill="#f07c88" stroke="none" stroke-width="1"/>
<polygon points="607.80,716.34 604.80,721.44 610.80,721.44" fill="#f07c88" stroke="none" stroke-width="1"/>
<polygon points="605.90,716.34 602.90,721.44 608.90,721.44" fill="#f07c88" stroke="none" stroke-width="1"/>
<polygon points="602.70,716.34 599.70,721.44 605.70,721.44" fill="#f07c88" stroke="none" stroke-width="1"/>
<path d="M619.90,772.60 V718.07 H630.30 V772.60" fill="none" stroke="#f07c88" stroke-width="2.1"/>
<line x1="625.10" y1="716.47" x2="625.10" y2="719.67" stroke="#f07c88" stroke-width="1.1" />
<line x1="621.60" y1="716.47" x2="628.60" y2="716.47" stroke="#f07c88" stroke-width="1.1" />
<line x1="621.60" y1="719.67" x2="628.60" y2="719.67" stroke="#f07c88" stroke-width="1.1" />
<polygon points="622.50,716.34 619.50,721.44 625.50,721.44" fill="#f07c88" stroke="none" stroke-width="1"/>
<polygon points="627.70,716.34 624.70,721.44 630.70,721.44" fill="#f07c88" stroke="none" stroke-width="1"/>
<polygon points="624.30,716.34 621.30,721.44 627.30,721.44" fill="#f07c88" stroke="none" stroke-width="1"/>
<polygon points="626.40,716.34 623.40,721.44 629.40,721.44" fill="#f07c88" stroke="none" stroke-width="1"/>
<polygon points="623.10,716.34 620.10,721.44 626.10,721.44" fill="#f07c88" stroke="none" stroke-width="1"/>
<polygon points="627.20,716.34 624.20,721.44 630.20,721.44" fill="#f07c88" stroke="none" stroke-width="1"/>
<polygon points="625.30,709.69 622.30,714.79 628.30,714.79" fill="#f07c88" stroke="none" stroke-width="1"/>
<polygon points="622.10,709.69 619.10,714.79 625.10,714.79" fill="#f07c88" stroke="none" stroke-width="1"/>
<path d="M639.10,772.60 V715.41 H649.50 V772.60" fill="none" stroke="#f07c88" stroke-width="2.1"/>
<line x1="644.30" y1="712.22" x2="644.30" y2="718.60" stroke="#f07c88" stroke-width="1.1" />
<line x1="640.80" y1="712.22" x2="647.80" y2="712.22" stroke="#f07c88" stroke-width="1.1" />
<line x1="640.80" y1="718.60" x2="647.80" y2="718.60" stroke="#f07c88" stroke-width="1.1" />
<polygon points="641.70,716.34 638.70,721.44 644.70,721.44" fill="#f07c88" stroke="none" stroke-width="1"/>
<polygon points="646.90,716.34 643.90,721.44 649.90,721.44" fill="#f07c88" stroke="none" stroke-width="1"/>
<polygon points="643.50,716.34 640.50,721.44 646.50,721.44" fill="#f07c88" stroke="none" stroke-width="1"/>
<polygon points="645.60,711.02 642.60,716.12 648.60,716.12" fill="#f07c88" stroke="none" stroke-width="1"/>
<polygon points="642.30,711.02 639.30,716.12 645.30,716.12" fill="#f07c88" stroke="none" stroke-width="1"/>
<polygon points="646.40,707.03 643.40,712.13 649.40,712.13" fill="#f07c88" stroke="none" stroke-width="1"/>
<polygon points="644.50,707.03 641.50,712.13 647.50,712.13" fill="#f07c88" stroke="none" stroke-width="1"/>
<polygon points="641.30,703.04 638.30,708.14 644.30,708.14" fill="#f07c88" stroke="none" stroke-width="1"/>
<line x1="395.40" y1="719.60" x2="657.00" y2="719.60" stroke="#3a3a3a" stroke-width="1.35" stroke-dasharray="1.4 2.6"/>
<line x1="393.40" y1="639.60" x2="393.40" y2="773.30" stroke="#1c1c1c" stroke-width="1.5" />
<line x1="392.70" y1="772.60" x2="658.00" y2="772.60" stroke="#1c1c1c" stroke-width="1.5" />
<line x1="387.90" y1="772.60" x2="393.40" y2="772.60" stroke="#1c1c1c" stroke-width="1.4" />
<text x="385.90" y="776.20" font-size="10.2" text-anchor="end" font-weight="normal" fill="#1c1c1c" >0</text>
<line x1="387.90" y1="746.00" x2="393.40" y2="746.00" stroke="#1c1c1c" stroke-width="1.4" />
<text x="385.90" y="749.60" font-size="10.2" text-anchor="end" font-weight="normal" fill="#1c1c1c" >1</text>
<line x1="387.90" y1="719.40" x2="393.40" y2="719.40" stroke="#1c1c1c" stroke-width="1.4" />
<text x="385.90" y="723.00" font-size="10.2" text-anchor="end" font-weight="normal" fill="#1c1c1c" >2</text>
<line x1="387.90" y1="692.80" x2="393.40" y2="692.80" stroke="#1c1c1c" stroke-width="1.4" />
<text x="385.90" y="696.40" font-size="10.2" text-anchor="end" font-weight="normal" fill="#1c1c1c" >3</text>
<line x1="387.90" y1="666.20" x2="393.40" y2="666.20" stroke="#1c1c1c" stroke-width="1.4" />
<text x="385.90" y="669.80" font-size="10.2" text-anchor="end" font-weight="normal" fill="#1c1c1c" >4</text>
<line x1="387.90" y1="639.60" x2="393.40" y2="639.60" stroke="#1c1c1c" stroke-width="1.4" />
<text x="385.90" y="643.20" font-size="10.2" text-anchor="end" font-weight="normal" fill="#1c1c1c" >5</text>
<line x1="406.30" y1="772.60" x2="406.30" y2="778.40" stroke="#1c1c1c" stroke-width="1.3" />
<text transform="translate(410.30,787.60) rotate(-45)" font-size="10.5" text-anchor="end" fill="#1c1c1c">Control</text>
<line x1="425.60" y1="772.60" x2="425.60" y2="778.40" stroke="#1c1c1c" stroke-width="1.3" />
<text transform="translate(429.60,788.10) rotate(-45)" font-size="10.5" text-anchor="end" fill="#1c1c1c">3dpi</text>
<line x1="444.90" y1="772.60" x2="444.90" y2="778.40" stroke="#1c1c1c" stroke-width="1.3" />
<text transform="translate(446.10,788.60) rotate(-45)" font-size="10.5" text-anchor="end" fill="#1c1c1c">7dpi</text>
<line x1="464.10" y1="772.60" x2="464.10" y2="778.40" stroke="#1c1c1c" stroke-width="1.3" />
<text transform="translate(465.60,788.80) rotate(-45)" font-size="10.5" text-anchor="end" fill="#1c1c1c">14dpi</text>
<line x1="495.90" y1="772.60" x2="495.90" y2="778.40" stroke="#1c1c1c" stroke-width="1.3" />
<text transform="translate(499.90,787.60) rotate(-45)" font-size="10.5" text-anchor="end" fill="#1c1c1c">Control</text>
<line x1="515.30" y1="772.60" x2="515.30" y2="778.40" stroke="#1c1c1c" stroke-width="1.3" />
<text transform="translate(519.30,788.10) rotate(-45)" font-size="10.5" text-anchor="end" fill="#1c1c1c">3dpi</text>
<line x1="534.80" y1="772.60" x2="534.80" y2="778.40" stroke="#1c1c1c" stroke-width="1.3" />
<text transform="translate(536.00,788.60) rotate(-45)" font-size="10.5" text-anchor="end" fill="#1c1c1c">7dpi</text>
<line x1="554.20" y1="772.60" x2="554.20" y2="778.40" stroke="#1c1c1c" stroke-width="1.3" />
<text transform="translate(555.70,788.80) rotate(-45)" font-size="10.5" text-anchor="end" fill="#1c1c1c">14dpi</text>
<line x1="586.30" y1="772.60" x2="586.30" y2="778.40" stroke="#1c1c1c" stroke-width="1.3" />
<text transform="translate(590.30,787.60) rotate(-45)" font-size="10.5" text-anchor="end" fill="#1c1c1c">Control</text>
<line x1="605.70" y1="772.60" x2="605.70" y2="778.40" stroke="#1c1c1c" stroke-width="1.3" />
<text transform="translate(609.70,788.10) rotate(-45)" font-size="10.5" text-anchor="end" fill="#1c1c1c">3dpi</text>
<line x1="625.10" y1="772.60" x2="625.10" y2="778.40" stroke="#1c1c1c" stroke-width="1.3" />
<text transform="translate(626.30,788.60) rotate(-45)" font-size="10.5" text-anchor="end" fill="#1c1c1c">7dpi</text>
<line x1="644.30" y1="772.60" x2="644.30" y2="778.40" stroke="#1c1c1c" stroke-width="1.3" />
<text transform="translate(645.80,788.80) rotate(-45)" font-size="10.5" text-anchor="end" fill="#1c1c1c">14dpi</text>
<path d="M406.30,646.70 V640.10 H464.10 V711.70" fill="none" stroke="#222" stroke-width="1.3"/>
<text x="435.20" y="633.40" font-size="10.9" text-anchor="middle" font-weight="normal" fill="#1c1c1c" >&gt;0.9999</text>
<path d="M406.30,677.10 V667.40 H444.90 V711.70" fill="none" stroke="#222" stroke-width="1.3"/>
<text x="425.60" y="660.70" font-size="10.9" text-anchor="middle" font-weight="normal" fill="#1c1c1c" >&gt;0.9999</text>
<path d="M406.30,711.70 V698.50 H425.60 V711.70" fill="none" stroke="#222" stroke-width="1.3"/>
<text x="415.95" y="691.10" font-size="10.9" text-anchor="middle" font-weight="normal" fill="#1c1c1c" >&gt;0.9999</text>
<path d="M495.90,647.90 V640.00 H554.20 V711.60" fill="none" stroke="#222" stroke-width="1.3"/>
<text x="525.05" y="633.50" font-size="10.9" text-anchor="middle" font-weight="normal" fill="#1c1c1c" >&gt;0.9999</text>
<path d="M495.90,675.70 V668.50 H534.80 V711.60" fill="none" stroke="#222" stroke-width="1.3"/>
<text x="515.35" y="661.90" font-size="10.9" text-anchor="middle" font-weight="normal" fill="#1c1c1c" >&gt;0.9999</text>
<path d="M495.90,711.60 V697.20 H515.30 V711.60" fill="none" stroke="#222" stroke-width="1.3"/>
<text x="505.60" y="689.70" font-size="10.9" text-anchor="middle" font-weight="normal" fill="#1c1c1c" >&gt;0.9999</text>
<path d="M586.30,645.50 V638.90 H644.30 V697.50" fill="none" stroke="#222" stroke-width="1.3"/>
<text x="615.30" y="632.00" font-size="10.9" text-anchor="middle" font-weight="normal" fill="#1c1c1c" >&lt;0.0001</text>
<path d="M586.30,674.20 V666.40 H625.10 V704.15" fill="none" stroke="#222" stroke-width="1.3"/>
<text x="605.70" y="659.50" font-size="10.9" text-anchor="middle" font-weight="normal" fill="#1c1c1c" >0.2057</text>
<path d="M586.30,710.80 V696.30 H605.70 V710.80" fill="none" stroke="#222" stroke-width="1.3"/>
<text x="596.00" y="688.20" font-size="10.9" text-anchor="middle" font-weight="normal" fill="#1c1c1c" >&gt;0.9999</text>
<text transform="translate(359.80,705.80) rotate(-90)" font-size="10.6" font-weight="bold" text-anchor="middle" fill="#1c1c1c">Spleen</text>
<text transform="translate(372.80,714.00) rotate(-90)" font-size="11.0" font-weight="bold" text-anchor="middle" fill="#1c1c1c">TCID<tspan font-size="8.2" dy="2.6">50</tspan><tspan dy="-2.6">/mL&#160; (Log</tspan><tspan font-size="8.2" dy="2.6">10</tspan><tspan dy="-2.6">)</tspan></text>
<text x="355.10" y="18.40" font-size="23.5" text-anchor="start" font-weight="bold" fill="#000" stroke="#000" stroke-width="0.5">b</text>
<text x="422.50" y="25.30" font-size="10.9" text-anchor="middle" font-weight="bold" fill="#111" >Control</text>
<text x="487.65" y="25.30" font-size="10.9" text-anchor="middle" font-weight="bold" fill="#111" >3dpi</text>
<text x="552.60" y="25.30" font-size="10.9" text-anchor="middle" font-weight="bold" fill="#111" >7dpi</text>
<text x="617.65" y="25.30" font-size="10.9" text-anchor="middle" font-weight="bold" fill="#111" >14dpi</text>
<text transform="translate(384.6,57.05) rotate(-90)" font-size="10.9" font-weight="bold" text-anchor="middle" fill="#111">ICR</text>
<text transform="translate(384.6,113.15) rotate(-90)" font-size="10.9" font-weight="bold" text-anchor="middle" fill="#111">IFNAR1<tspan font-size="7.5" dy="-3.5">-/-</tspan></text>
<text transform="translate(384.6,170.20) rotate(-90)" font-size="10.9" font-weight="bold" text-anchor="middle" fill="#111">SCID</text>
<defs>
<radialGradient id="lg00" cx="42%" cy="35%" r="70%"><stop offset="0" stop-color="#f9d777"/><stop offset="0.55" stop-color="#f3a652"/><stop offset="1" stop-color="#e47432"/></radialGradient>
<clipPath id="cp00"><rect x="392.8" y="29.8" width="59.39999999999998" height="51.5"/></clipPath>
<clipPath id="lc00"><path d="M422.00,41.20 C415.67,38.90 407.65,38.90 405.12,48.50 C401.74,57.33 400.90,65.01 402.59,71.92 C405.12,78.45 417.78,78.45 422.00,71.92 C426.22,78.45 438.88,78.45 441.41,71.92 C443.10,65.01 442.26,57.33 438.88,48.50 C436.35,38.90 428.33,38.90 422.00,41.20 Z"/></clipPath>
<radialGradient id="lg01" cx="42%" cy="35%" r="70%"><stop offset="0" stop-color="#f8dd7e"/><stop offset="0.55" stop-color="#f3b05b"/><stop offset="1" stop-color="#e47e37"/></radialGradient>
<clipPath id="cp01"><rect x="458.5" y="29.8" width="58.299999999999955" height="51.5"/></clipPath>
<clipPath id="lc01"><path d="M487.75,35.43 C480.77,32.70 470.08,32.70 467.29,44.08 C463.57,54.54 464.50,63.64 466.36,71.83 C469.15,79.56 483.10,79.56 487.75,75.93 C492.40,79.56 506.35,79.56 509.14,71.83 C511.00,63.64 511.93,54.54 508.21,44.08 C505.42,32.70 494.73,32.70 487.75,35.43 Z"/></clipPath>
<radialGradient id="lg02" cx="42%" cy="35%" r="70%"><stop offset="0" stop-color="#f6cb76"/><stop offset="0.55" stop-color="#f2a858"/><stop offset="1" stop-color="#e07034"/></radialGradient>
<clipPath id="cp02"><rect x="523.4" y="29.8" width="58.39999999999998" height="51.5"/></clipPath>
<clipPath id="lc02"><path d="M554.60,40.62 C548.33,38.40 539.55,38.40 537.04,47.65 C533.70,56.16 533.70,63.56 535.37,70.22 C537.88,76.51 550.42,76.51 554.60,62.08 C558.78,76.51 571.32,76.51 573.83,70.22 C575.50,63.56 575.50,56.16 572.16,47.65 C569.65,38.40 560.87,38.40 554.60,40.62 Z"/></clipPath>
<radialGradient id="lg03" cx="42%" cy="35%" r="70%"><stop offset="0" stop-color="#f8b762"/><stop offset="0.55" stop-color="#f28a3e"/><stop offset="1" stop-color="#e05f29"/></radialGradient>
<clipPath id="cp03"><rect x="588.5" y="29.8" width="58.299999999999955" height="51.5"/></clipPath>
<clipPath id="lc03"><path d="M617.75,38.06 C611.91,35.50 604.52,35.50 602.19,46.17 C599.08,56.00 598.30,64.54 599.86,72.22 C602.19,79.48 613.86,79.48 617.75,73.93 C621.64,79.48 633.31,79.48 635.64,72.22 C637.20,64.54 636.42,56.00 633.31,46.17 C630.98,35.50 623.59,35.50 617.75,38.06 Z"/></clipPath>
<radialGradient id="lg10" cx="42%" cy="35%" r="70%"><stop offset="0" stop-color="#f8c192"/><stop offset="0.55" stop-color="#f19355"/><stop offset="1" stop-color="#e06937"/></radialGradient>
<clipPath id="cp10"><rect x="392.8" y="87.8" width="59.39999999999998" height="50.7"/></clipPath>
<clipPath id="lc10"><path d="M421.75,94.93 C414.77,92.60 403.62,92.60 400.82,102.32 C397.11,111.27 398.50,119.05 400.36,126.05 C403.15,132.67 417.10,132.67 421.75,126.83 C426.40,132.67 440.35,132.67 443.14,126.05 C445.00,119.05 446.39,111.27 442.68,102.32 C439.88,92.60 428.73,92.60 421.75,94.93 Z"/></clipPath>
<radialGradient id="lg11" cx="42%" cy="35%" r="70%"><stop offset="0" stop-color="#f6bf90"/><stop offset="0.55" stop-color="#f1965d"/><stop offset="1" stop-color="#dd6b3c"/></radialGradient>
<clipPath id="cp11"><rect x="458.5" y="87.8" width="58.299999999999955" height="50.7"/></clipPath>
<clipPath id="lc11"><path d="M487.25,100.41 C481.42,98.30 472.08,98.30 469.75,107.08 C466.63,115.15 467.80,122.17 469.36,128.49 C471.69,134.45 483.36,134.45 487.25,128.13 C491.14,134.45 502.81,134.45 505.14,128.49 C506.70,122.17 507.87,115.15 504.75,107.08 C502.42,98.30 493.08,98.30 487.25,100.41 Z"/></clipPath>
<radialGradient id="lg12" cx="42%" cy="35%" r="70%"><stop offset="0" stop-color="#f6b981"/><stop offset="0.55" stop-color="#f29155"/><stop offset="1" stop-color="#de6535"/></radialGradient>
<clipPath id="cp12"><rect x="523.4" y="87.8" width="58.39999999999998" height="50.7"/></clipPath>
<clipPath id="lc12"><path d="M555.55,98.54 C550.28,96.40 541.86,96.40 539.75,105.33 C536.95,113.54 538.00,120.68 539.40,127.10 C541.51,133.17 552.04,133.17 555.55,126.74 C559.06,133.17 569.59,133.17 571.70,127.10 C573.10,120.68 574.15,113.54 571.35,105.33 C569.24,96.40 560.82,96.40 555.55,98.54 Z"/></clipPath>
<radialGradient id="lg13" cx="42%" cy="35%" r="70%"><stop offset="0" stop-color="#f8ce9f"/><stop offset="0.55" stop-color="#f3a76c"/><stop offset="1" stop-color="#e27944"/></radialGradient>
<clipPath id="cp13"><rect x="588.5" y="87.8" width="58.299999999999955" height="50.7"/></clipPath>
<clipPath id="lc13"><path d="M615.55,96.01 C609.38,93.50 601.58,93.50 599.11,103.95 C595.82,113.56 595.00,121.92 596.64,129.45 C599.11,136.55 611.44,136.55 615.55,126.94 C619.66,136.55 631.99,136.55 634.46,129.45 C636.10,121.92 635.28,113.56 631.99,103.95 C629.52,93.50 621.72,93.50 615.55,96.01 Z"/></clipPath>
<radialGradient id="lg20" cx="42%" cy="35%" r="70%"><stop offset="0" stop-color="#fad8ac"/><stop offset="0.55" stop-color="#f5bc83"/><stop offset="1" stop-color="#eb9962"/></radialGradient>
<clipPath id="cp20"><rect x="392.8" y="144.9" width="59.39999999999998" height="50.599999999999994"/></clipPath>
<clipPath id="lc20"><path d="M422.55,150.30 C416.08,147.70 407.03,147.70 404.45,158.52 C401.00,168.48 401.00,177.14 402.72,184.94 C405.31,192.30 418.24,192.30 422.55,186.67 C426.86,192.30 439.79,192.30 442.38,184.94 C444.10,177.14 444.10,168.48 440.65,158.52 C438.07,147.70 429.01,147.70 422.55,150.30 Z"/></clipPath>
<radialGradient id="lg21" cx="42%" cy="35%" r="70%"><stop offset="0" stop-color="#fad8ab"/><stop offset="0.55" stop-color="#f5b67e"/><stop offset="1" stop-color="#e98b57"/></radialGradient>
<clipPath id="cp21"><rect x="458.5" y="144.9" width="58.299999999999955" height="50.599999999999994"/></clipPath>
<clipPath id="lc21"><path d="M486.30,151.11 C480.18,148.60 471.20,148.60 468.76,159.05 C465.49,168.66 465.90,177.02 467.53,184.55 C469.98,191.65 482.22,191.65 486.30,185.38 C490.38,191.65 502.62,191.65 505.07,184.55 C506.70,177.02 507.11,168.66 503.84,159.05 C501.40,148.60 492.42,148.60 486.30,151.11 Z"/></clipPath>
<radialGradient id="lg22" cx="42%" cy="35%" r="70%"><stop offset="0" stop-color="#f8d188"/><stop offset="0.55" stop-color="#f2a15d"/><stop offset="1" stop-color="#e4793a"/></radialGradient>
<clipPath id="cp22"><rect x="523.4" y="144.9" width="58.39999999999998" height="50.599999999999994"/></clipPath>
<clipPath id="lc22"><path d="M553.70,154.57 C547.58,152.40 537.79,152.40 535.34,161.43 C532.08,169.73 533.30,176.95 534.93,183.45 C537.38,189.58 549.62,189.58 553.70,182.00 C557.78,189.58 570.02,189.58 572.47,183.45 C574.10,176.95 575.32,169.73 572.06,161.43 C569.61,152.40 559.82,152.40 553.70,154.57 Z"/></clipPath>
<radialGradient id="lg23" cx="42%" cy="35%" r="70%"><stop offset="0" stop-color="#f89b73"/><stop offset="0.55" stop-color="#f26d37"/><stop offset="1" stop-color="#e45526"/></radialGradient>
<clipPath id="cp23"><rect x="588.5" y="144.9" width="58.299999999999955" height="50.599999999999994"/></clipPath>
<clipPath id="lc23"><path d="M617.90,153.89 C611.30,151.50 600.74,151.50 598.10,161.45 C594.58,170.60 595.90,178.56 597.66,185.73 C600.30,192.49 613.50,192.49 617.90,183.34 C622.30,192.49 635.50,192.49 638.14,185.73 C639.90,178.56 641.22,170.60 637.70,161.45 C635.06,151.50 624.50,151.50 617.90,153.89 Z"/></clipPath>
<filter id="blr" x="-30%" y="-30%" width="160%" height="160%"><feGaussianBlur stdDeviation="0.45"/></filter>
<filter id="blr1" x="-50%" y="-50%" width="200%" height="200%"><feGaussianBlur stdDeviation="1.0"/></filter>
<filter id="blr2" x="-50%" y="-50%" width="200%" height="200%"><feGaussianBlur stdDeviation="1.4"/></filter>
<filter id="tex" x="0" y="0" width="100%" height="100%"><feTurbulence type="fractalNoise" baseFrequency="0.16" numOctaves="2" seed="4" result="n"/><feColorMatrix in="n" type="matrix" values="0 0 0 0 0.88  0 0 0 0 0.32  0 0 0 0 0.16  3 0 0 0 -1.5"/></filter>
<filter id="tex2" x="0" y="0" width="100%" height="100%"><feTurbulence type="fractalNoise" baseFrequency="0.14" numOctaves="2" seed="9" result="n"/><feColorMatrix in="n" type="matrix" values="0 0 0 0 1  0 0 0 0 0.9  0 0 0 0 0.6  3 0 0 0 -1.6"/></filter>
</defs>
<g clip-path="url(#cp00)">
<rect x="392.8" y="29.8" width="59.39999999999998" height="51.5" fill="#506b4a"/>
<line x1="402.83" y1="29.80" x2="402.83" y2="81.30" stroke="#c2e4bf" stroke-width="0.85" opacity="0.85"/>
<line x1="417.83" y1="29.80" x2="417.83" y2="81.30" stroke="#c2e4bf" stroke-width="0.85" opacity="0.85"/>
<line x1="432.83" y1="29.80" x2="432.83" y2="81.30" stroke="#c2e4bf" stroke-width="0.85" opacity="0.85"/>
<line x1="447.83" y1="29.80" x2="447.83" y2="81.30" stroke="#c2e4bf" stroke-width="0.85" opacity="0.85"/>
<line x1="392.80" y1="33.08" x2="452.20" y2="33.08" stroke="#c2e4bf" stroke-width="0.85" opacity="0.85"/>
<line x1="392.80" y1="48.08" x2="452.20" y2="48.08" stroke="#c2e4bf" stroke-width="0.85" opacity="0.85"/>
<line x1="392.80" y1="63.08" x2="452.20" y2="63.08" stroke="#c2e4bf" stroke-width="0.85" opacity="0.85"/>
<line x1="392.80" y1="78.08" x2="452.20" y2="78.08" stroke="#c2e4bf" stroke-width="0.85" opacity="0.85"/>
<ellipse cx="422.00" cy="59.10" rx="25.10" ry="22.20" fill="#2c4429" opacity="0.6" filter="url(#blr2)"/>
<g filter="url(#blr)">
<path d="M422.00,41.20 C415.67,38.90 407.65,38.90 405.12,48.50 C401.74,57.33 400.90,65.01 402.59,71.92 C405.12,78.45 417.78,78.45 422.00,71.92 C426.22,78.45 438.88,78.45 441.41,71.92 C443.10,65.01 442.26,57.33 438.88,48.50 C436.35,38.90 428.33,38.90 422.00,41.20 Z" fill="url(#lg00)"/>
<g clip-path="url(#lc00)">
<ellipse cx="413.86" cy="49.69" rx="2.97" ry="2.02" fill="#e47432" opacity="0.4" filter="url(#blr1)"/>
<ellipse cx="436.20" cy="45.54" rx="2.34" ry="1.04" fill="#e47432" opacity="0.4" filter="url(#blr1)"/>
<ellipse cx="411.81" cy="58.26" rx="1.55" ry="1.30" fill="#e47432" opacity="0.4" filter="url(#blr1)"/>
<ellipse cx="427.43" cy="59.47" rx="1.94" ry="1.88" fill="#e47432" opacity="0.4" filter="url(#blr1)"/>
<ellipse cx="433.20" cy="43.10" rx="3.11" ry="2.05" fill="#e47432" opacity="0.4" filter="url(#blr1)"/>
<ellipse cx="416.22" cy="47.63" rx="3.41" ry="1.50" fill="#e47432" opacity="0.4" filter="url(#blr1)"/>
<ellipse cx="409.70" cy="45.27" rx="2.77" ry="1.91" fill="#f9d777" opacity="0.6" filter="url(#blr1)"/>
<ellipse cx="431.28" cy="54.26" rx="2.30" ry="2.46" fill="#f9d777" opacity="0.6" filter="url(#blr1)"/>
<ellipse cx="418.33" cy="51.74" rx="2.74" ry="1.93" fill="#f9d777" opacity="0.6" filter="url(#blr1)"/>
<path d="M434.37,60.14 q1.64,3.14 -1.63,7.16" stroke="#e47432" stroke-width="0.8" fill="none" opacity="0.55"/>
<path d="M407.63,51.05 q-3.19,3.83 0.81,7.46" stroke="#e47432" stroke-width="0.8" fill="none" opacity="0.55"/>
<path d="M417.56,50.43 q-1.86,5.81 0.89,8.44" stroke="#e47432" stroke-width="0.8" fill="none" opacity="0.55"/>
<ellipse cx="421.00" cy="58.00" rx="3" ry="10" fill="#7a4a3c" opacity="0.6" filter="url(#blr1)"/>
<ellipse cx="421.00" cy="72.00" rx="2.5" ry="5" fill="#6a4a3c" opacity="0.6" filter="url(#blr1)"/>
<rect x="400.90" y="38.90" width="42.20" height="38.40" filter="url(#tex)" opacity="0.55"/>
<rect x="400.90" y="38.90" width="42.20" height="38.40" filter="url(#tex2)" opacity="0.5"/>
<path d="M422.00,41.97 C420.50,52.34 423.50,61.94 422.00,71.92" stroke="#8a4030" stroke-width="1.8" fill="none" opacity="0.75" filter="url(#blr)"/>
</g></g>
</g>
<g clip-path="url(#cp01)">
<rect x="458.5" y="29.8" width="58.299999999999955" height="51.5" fill="#506b4a"/>
<line x1="463.38" y1="29.80" x2="463.38" y2="81.30" stroke="#c2e4bf" stroke-width="0.85" opacity="0.85"/>
<line x1="478.38" y1="29.80" x2="478.38" y2="81.30" stroke="#c2e4bf" stroke-width="0.85" opacity="0.85"/>
<line x1="493.38" y1="29.80" x2="493.38" y2="81.30" stroke="#c2e4bf" stroke-width="0.85" opacity="0.85"/>
<line x1="508.38" y1="29.80" x2="508.38" y2="81.30" stroke="#c2e4bf" stroke-width="0.85" opacity="0.85"/>
<line x1="458.50" y1="40.82" x2="516.80" y2="40.82" stroke="#c2e4bf" stroke-width="0.85" opacity="0.85"/>
<line x1="458.50" y1="55.82" x2="516.80" y2="55.82" stroke="#c2e4bf" stroke-width="0.85" opacity="0.85"/>
<line x1="458.50" y1="70.82" x2="516.80" y2="70.82" stroke="#c2e4bf" stroke-width="0.85" opacity="0.85"/>
<ellipse cx="487.75" cy="56.45" rx="27.25" ry="25.75" fill="#2c4429" opacity="0.6" filter="url(#blr2)"/>
<g filter="url(#blr)">
<path d="M487.75,35.43 C480.77,32.70 470.08,32.70 467.29,44.08 C463.57,54.54 464.50,63.64 466.36,71.83 C469.15,79.56 483.10,79.56 487.75,75.93 C492.40,79.56 506.35,79.56 509.14,71.83 C511.00,63.64 511.93,54.54 508.21,44.08 C505.42,32.70 494.73,32.70 487.75,35.43 Z" fill="url(#lg01)"/>
<g clip-path="url(#lc01)">
<ellipse cx="474.12" cy="50.93" rx="3.48" ry="1.96" fill="#e47e37" opacity="0.4" filter="url(#blr1)"/>
<ellipse cx="490.06" cy="62.37" rx="3.19" ry="2.16" fill="#e47e37" opacity="0.4" filter="url(#blr1)"/>
<ellipse cx="476.78" cy="37.90" rx="2.13" ry="1.40" fill="#e47e37" opacity="0.4" filter="url(#blr1)"/>
<ellipse cx="476.04" cy="72.06" rx="3.25" ry="1.47" fill="#e47e37" opacity="0.4" filter="url(#blr1)"/>
<ellipse cx="494.05" cy="51.54" rx="3.33" ry="1.69" fill="#e47e37" opacity="0.4" filter="url(#blr1)"/>
<ellipse cx="478.23" cy="45.95" rx="2.62" ry="1.39" fill="#e47e37" opacity="0.4" filter="url(#blr1)"/>
<ellipse cx="490.67" cy="53.64" rx="2.10" ry="1.33" fill="#f8dd7e" opacity="0.6" filter="url(#blr1)"/>
<ellipse cx="504.92" cy="46.74" rx="1.64" ry="1.07" fill="#f8dd7e" opacity="0.6" filter="url(#blr1)"/>
<ellipse cx="474.28" cy="48.84" rx="2.69" ry="1.63" fill="#f8dd7e" opacity="0.6" filter="url(#blr1)"/>
<path d="M470.95,51.48 q3.97,4.59 2.83,9.44" stroke="#e47e37" stroke-width="0.8" fill="none" opacity="0.55"/>
<path d="M468.94,62.84 q1.45,4.61 -1.40,8.56" stroke="#e47e37" stroke-width="0.8" fill="none" opacity="0.55"/>
<path d="M472.79,53.26 q-0.37,5.86 2.26,7.05" stroke="#e47e37" stroke-width="0.8" fill="none" opacity="0.55"/>
<ellipse cx="489.00" cy="52.00" rx="7" ry="8" fill="#8a5a50" opacity="0.7" filter="url(#blr1)"/>
<ellipse cx="488.00" cy="64.00" rx="5" ry="9" fill="#6a4a46" opacity="0.7" filter="url(#blr1)"/>
<ellipse cx="489.00" cy="74.00" rx="4" ry="4" fill="#5a3a36" opacity="0.7" filter="url(#blr1)"/>
<rect x="464.50" y="32.70" width="46.50" height="45.50" filter="url(#tex)" opacity="0.55"/>
<rect x="464.50" y="32.70" width="46.50" height="45.50" filter="url(#tex2)" opacity="0.5"/>
<path d="M487.75,36.34 C486.25,48.62 489.25,60.00 487.75,74.56" stroke="#7a4034" stroke-width="1.8" fill="none" opacity="0.75" filter="url(#blr)"/>
</g></g>
</g>
<g clip-path="url(#cp02)">
<rect x="523.4" y="29.8" width="58.39999999999998" height="51.5" fill="#506b4a"/>
<line x1="531.91" y1="29.80" x2="531.91" y2="81.30" stroke="#c2e4bf" stroke-width="0.85" opacity="0.85"/>
<line x1="546.91" y1="29.80" x2="546.91" y2="81.30" stroke="#c2e4bf" stroke-width="0.85" opacity="0.85"/>
<line x1="561.91" y1="29.80" x2="561.91" y2="81.30" stroke="#c2e4bf" stroke-width="0.85" opacity="0.85"/>
<line x1="576.91" y1="29.80" x2="576.91" y2="81.30" stroke="#c2e4bf" stroke-width="0.85" opacity="0.85"/>
<line x1="523.40" y1="34.77" x2="581.80" y2="34.77" stroke="#c2e4bf" stroke-width="0.85" opacity="0.85"/>
<line x1="523.40" y1="49.77" x2="581.80" y2="49.77" stroke="#c2e4bf" stroke-width="0.85" opacity="0.85"/>
<line x1="523.40" y1="64.77" x2="581.80" y2="64.77" stroke="#c2e4bf" stroke-width="0.85" opacity="0.85"/>
<line x1="523.40" y1="79.77" x2="581.80" y2="79.77" stroke="#c2e4bf" stroke-width="0.85" opacity="0.85"/>
<ellipse cx="554.60" cy="57.90" rx="24.90" ry="21.50" fill="#2c4429" opacity="0.6" filter="url(#blr2)"/>
<g filter="url(#blr)">
<path d="M554.60,40.62 C548.33,38.40 539.55,38.40 537.04,47.65 C533.70,56.16 533.70,63.56 535.37,70.22 C537.88,76.51 550.42,76.51 554.60,62.08 C558.78,76.51 571.32,76.51 573.83,70.22 C575.50,63.56 575.50,56.16 572.16,47.65 C569.65,38.40 560.87,38.40 554.60,40.62 Z" fill="url(#lg02)"/>
<g clip-path="url(#lc02)">
<ellipse cx="569.37" cy="67.65" rx="2.10" ry="1.96" fill="#e07034" opacity="0.4" filter="url(#blr1)"/>
<ellipse cx="558.50" cy="46.83" rx="3.03" ry="1.81" fill="#e07034" opacity="0.4" filter="url(#blr1)"/>
<ellipse cx="564.57" cy="57.78" rx="1.50" ry="1.49" fill="#e07034" opacity="0.4" filter="url(#blr1)"/>
<ellipse cx="537.40" cy="69.34" rx="3.26" ry="2.25" fill="#e07034" opacity="0.4" filter="url(#blr1)"/>
<ellipse cx="547.71" cy="44.08" rx="3.26" ry="2.42" fill="#e07034" opacity="0.4" filter="url(#blr1)"/>
<ellipse cx="539.77" cy="56.49" rx="1.64" ry="2.14" fill="#e07034" opacity="0.4" filter="url(#blr1)"/>
<ellipse cx="562.52" cy="45.13" rx="2.21" ry="1.82" fill="#f6cb76" opacity="0.6" filter="url(#blr1)"/>
<ellipse cx="547.60" cy="55.18" rx="2.13" ry="1.32" fill="#f6cb76" opacity="0.6" filter="url(#blr1)"/>
<ellipse cx="555.77" cy="53.25" rx="1.80" ry="1.47" fill="#f6cb76" opacity="0.6" filter="url(#blr1)"/>
<path d="M571.34,60.65 q-0.50,4.55 -2.27,6.90" stroke="#e07034" stroke-width="0.8" fill="none" opacity="0.55"/>
<path d="M549.13,59.11 q-2.16,3.66 -2.57,8.52" stroke="#e07034" stroke-width="0.8" fill="none" opacity="0.55"/>
<path d="M545.44,67.04 q2.88,3.21 -1.57,8.68" stroke="#e07034" stroke-width="0.8" fill="none" opacity="0.55"/>
<ellipse cx="547.00" cy="44.00" rx="8" ry="6" fill="#6d4044" opacity="0.8" filter="url(#blr1)"/>
<ellipse cx="553.00" cy="50.00" rx="4" ry="5" fill="#8a5048" opacity="0.6" filter="url(#blr1)"/>
<rect x="533.70" y="38.40" width="41.80" height="37.00" filter="url(#tex)" opacity="0.55"/>
<rect x="533.70" y="38.40" width="41.80" height="37.00" filter="url(#tex2)" opacity="0.5"/>
<path d="M554.60,41.36 C553.10,51.35 556.10,60.60 554.60,62.08" stroke="#8a4030" stroke-width="1.8" fill="none" opacity="0.75" filter="url(#blr)"/>
</g></g>
</g>
<g clip-path="url(#cp03)">
<rect x="588.5" y="29.8" width="58.299999999999955" height="51.5" fill="#506b4a"/>
<line x1="593.86" y1="29.80" x2="593.86" y2="81.30" stroke="#c2e4bf" stroke-width="0.85" opacity="0.85"/>
<line x1="608.86" y1="29.80" x2="608.86" y2="81.30" stroke="#c2e4bf" stroke-width="0.85" opacity="0.85"/>
<line x1="623.86" y1="29.80" x2="623.86" y2="81.30" stroke="#c2e4bf" stroke-width="0.85" opacity="0.85"/>
<line x1="638.86" y1="29.80" x2="638.86" y2="81.30" stroke="#c2e4bf" stroke-width="0.85" opacity="0.85"/>
<line x1="588.50" y1="34.26" x2="646.80" y2="34.26" stroke="#c2e4bf" stroke-width="0.85" opacity="0.85"/>
<line x1="588.50" y1="49.26" x2="646.80" y2="49.26" stroke="#c2e4bf" stroke-width="0.85" opacity="0.85"/>
<line x1="588.50" y1="64.26" x2="646.80" y2="64.26" stroke="#c2e4bf" stroke-width="0.85" opacity="0.85"/>
<line x1="588.50" y1="79.26" x2="646.80" y2="79.26" stroke="#c2e4bf" stroke-width="0.85" opacity="0.85"/>
<ellipse cx="617.75" cy="57.85" rx="23.45" ry="24.35" fill="#2c4429" opacity="0.6" filter="url(#blr2)"/>
<g filter="url(#blr)">
<path d="M617.75,38.06 C611.91,35.50 604.52,35.50 602.19,46.17 C599.08,56.00 598.30,64.54 599.86,72.22 C602.19,79.48 613.86,79.48 617.75,73.93 C621.64,79.48 633.31,79.48 635.64,72.22 C637.20,64.54 636.42,56.00 633.31,46.17 C630.98,35.50 623.59,35.50 617.75,38.06 Z" fill="url(#lg03)"/>
<g clip-path="url(#lc03)">
<ellipse cx="632.08" cy="59.32" rx="2.45" ry="2.18" fill="#e05f29" opacity="0.4" filter="url(#blr1)"/>
<ellipse cx="627.87" cy="46.11" rx="1.69" ry="1.65" fill="#e05f29" opacity="0.4" filter="url(#blr1)"/>
<ellipse cx="615.24" cy="55.71" rx="2.96" ry="2.01" fill="#e05f29" opacity="0.4" filter="url(#blr1)"/>
<ellipse cx="633.68" cy="42.92" rx="2.31" ry="1.51" fill="#e05f29" opacity="0.4" filter="url(#blr1)"/>
<ellipse cx="629.65" cy="48.13" rx="1.88" ry="1.67" fill="#e05f29" opacity="0.4" filter="url(#blr1)"/>
<ellipse cx="615.18" cy="49.17" rx="2.00" ry="2.38" fill="#e05f29" opacity="0.4" filter="url(#blr1)"/>
<ellipse cx="616.22" cy="54.58" rx="2.33" ry="1.08" fill="#f8b762" opacity="0.6" filter="url(#blr1)"/>
<ellipse cx="631.18" cy="54.17" rx="2.95" ry="2.39" fill="#f8b762" opacity="0.6" filter="url(#blr1)"/>
<ellipse cx="627.13" cy="43.22" rx="2.23" ry="1.32" fill="#f8b762" opacity="0.6" filter="url(#blr1)"/>
<path d="M614.69,43.30 q-0.97,5.96 -1.41,9.14" stroke="#e05f29" stroke-width="0.8" fill="none" opacity="0.55"/>
<path d="M616.36,54.49 q3.66,5.99 0.33,8.87" stroke="#e05f29" stroke-width="0.8" fill="none" opacity="0.55"/>
<path d="M607.08,50.61 q3.75,4.74 0.25,8.99" stroke="#e05f29" stroke-width="0.8" fill="none" opacity="0.55"/>
<ellipse cx="611.00" cy="42.00" rx="3.5" ry="6" fill="#3a2a22" opacity="0.75" filter="url(#blr1)"/>
<rect x="598.30" y="35.50" width="38.90" height="42.70" filter="url(#tex)" opacity="0.55"/>
<rect x="598.30" y="35.50" width="38.90" height="42.70" filter="url(#tex2)" opacity="0.5"/>
<path d="M617.75,38.92 C616.25,50.45 619.25,61.12 617.75,73.93" stroke="#a04030" stroke-width="1.8" fill="none" opacity="0.75" filter="url(#blr)"/>
</g></g>
</g>
<g clip-path="url(#cp10)">
<rect x="392.8" y="87.8" width="59.39999999999998" height="50.7" fill="#506b4a"/>
<line x1="396.43" y1="87.80" x2="396.43" y2="138.50" stroke="#c2e4bf" stroke-width="0.85" opacity="0.85"/>
<line x1="411.43" y1="87.80" x2="411.43" y2="138.50" stroke="#c2e4bf" stroke-width="0.85" opacity="0.85"/>
<line x1="426.43" y1="87.80" x2="426.43" y2="138.50" stroke="#c2e4bf" stroke-width="0.85" opacity="0.85"/>
<line x1="441.43" y1="87.80" x2="441.43" y2="138.50" stroke="#c2e4bf" stroke-width="0.85" opacity="0.85"/>
<line x1="392.80" y1="97.23" x2="452.20" y2="97.23" stroke="#c2e4bf" stroke-width="0.85" opacity="0.85"/>
<line x1="392.80" y1="112.23" x2="452.20" y2="112.23" stroke="#c2e4bf" stroke-width="0.85" opacity="0.85"/>
<line x1="392.80" y1="127.23" x2="452.20" y2="127.23" stroke="#c2e4bf" stroke-width="0.85" opacity="0.85"/>
<ellipse cx="421.75" cy="113.05" rx="27.25" ry="22.45" fill="#2c4429" opacity="0.6" filter="url(#blr2)"/>
<g filter="url(#blr)">
<path d="M421.75,94.93 C414.77,92.60 403.62,92.60 400.82,102.32 C397.11,111.27 398.50,119.05 400.36,126.05 C403.15,132.67 417.10,132.67 421.75,126.83 C426.40,132.67 440.35,132.67 443.14,126.05 C445.00,119.05 446.39,111.27 442.68,102.32 C439.88,92.60 428.73,92.60 421.75,94.93 Z" fill="url(#lg10)"/>
<g clip-path="url(#lc10)">
<ellipse cx="421.87" cy="122.95" rx="1.81" ry="2.44" fill="#e06937" opacity="0.4" filter="url(#blr1)"/>
<ellipse cx="404.74" cy="102.34" rx="2.69" ry="2.01" fill="#e06937" opacity="0.4" filter="url(#blr1)"/>
<ellipse cx="411.03" cy="100.30" rx="3.28" ry="1.37" fill="#e06937" opacity="0.4" filter="url(#blr1)"/>
<ellipse cx="425.58" cy="115.74" rx="2.34" ry="1.88" fill="#e06937" opacity="0.4" filter="url(#blr1)"/>
<ellipse cx="422.67" cy="125.48" rx="1.91" ry="2.07" fill="#e06937" opacity="0.4" filter="url(#blr1)"/>
<ellipse cx="411.17" cy="108.83" rx="2.84" ry="1.45" fill="#e06937" opacity="0.4" filter="url(#blr1)"/>
<ellipse cx="415.41" cy="108.46" rx="1.61" ry="1.69" fill="#f8c192" opacity="0.6" filter="url(#blr1)"/>
<ellipse cx="438.95" cy="111.99" rx="1.61" ry="1.32" fill="#f8c192" opacity="0.6" filter="url(#blr1)"/>
<ellipse cx="413.65" cy="111.09" rx="2.82" ry="2.32" fill="#f8c192" opacity="0.6" filter="url(#blr1)"/>
<path d="M416.73,102.84 q2.67,5.11 0.67,9.95" stroke="#e06937" stroke-width="0.8" fill="none" opacity="0.55"/>
<path d="M427.68,98.81 q2.54,3.90 0.98,9.76" stroke="#e06937" stroke-width="0.8" fill="none" opacity="0.55"/>
<path d="M407.67,101.71 q-3.14,4.66 -1.37,8.42" stroke="#e06937" stroke-width="0.8" fill="none" opacity="0.55"/>
<ellipse cx="421.00" cy="115.00" rx="2" ry="9" fill="#a06a58" opacity="0.6" filter="url(#blr1)"/>
<rect x="398.50" y="92.60" width="46.50" height="38.90" filter="url(#tex)" opacity="0.55"/>
<rect x="398.50" y="92.60" width="46.50" height="38.90" filter="url(#tex2)" opacity="0.5"/>
<path d="M421.75,95.71 C420.25,106.22 423.25,115.94 421.75,126.83" stroke="#9a4a38" stroke-width="1.8" fill="none" opacity="0.75" filter="url(#blr)"/>
</g></g>
</g>
<g clip-path="url(#cp11)">
<rect x="458.5" y="87.8" width="58.299999999999955" height="50.7" fill="#506b4a"/>
<line x1="469.39" y1="87.80" x2="469.39" y2="138.50" stroke="#c2e4bf" stroke-width="0.85" opacity="0.85"/>
<line x1="484.39" y1="87.80" x2="484.39" y2="138.50" stroke="#c2e4bf" stroke-width="0.85" opacity="0.85"/>
<line x1="499.39" y1="87.80" x2="499.39" y2="138.50" stroke="#c2e4bf" stroke-width="0.85" opacity="0.85"/>
<line x1="514.39" y1="87.80" x2="514.39" y2="138.50" stroke="#c2e4bf" stroke-width="0.85" opacity="0.85"/>
<line x1="458.50" y1="93.04" x2="516.80" y2="93.04" stroke="#c2e4bf" stroke-width="0.85" opacity="0.85"/>
<line x1="458.50" y1="108.04" x2="516.80" y2="108.04" stroke="#c2e4bf" stroke-width="0.85" opacity="0.85"/>
<line x1="458.50" y1="123.04" x2="516.80" y2="123.04" stroke="#c2e4bf" stroke-width="0.85" opacity="0.85"/>
<line x1="458.50" y1="138.04" x2="516.80" y2="138.04" stroke="#c2e4bf" stroke-width="0.85" opacity="0.85"/>
<ellipse cx="487.25" cy="116.85" rx="23.45" ry="20.55" fill="#2c4429" opacity="0.6" filter="url(#blr2)"/>
<g filter="url(#blr)">
<path d="M487.25,100.41 C481.42,98.30 472.08,98.30 469.75,107.08 C466.63,115.15 467.80,122.17 469.36,128.49 C471.69,134.45 483.36,134.45 487.25,128.13 C491.14,134.45 502.81,134.45 505.14,128.49 C506.70,122.17 507.87,115.15 504.75,107.08 C502.42,98.30 493.08,98.30 487.25,100.41 Z" fill="url(#lg11)"/>
<g clip-path="url(#lc11)">
<ellipse cx="491.67" cy="109.45" rx="2.48" ry="2.36" fill="#dd6b3c" opacity="0.4" filter="url(#blr1)"/>
<ellipse cx="498.64" cy="104.80" rx="2.35" ry="1.42" fill="#dd6b3c" opacity="0.4" filter="url(#blr1)"/>
<ellipse cx="470.92" cy="123.20" rx="2.77" ry="1.39" fill="#dd6b3c" opacity="0.4" filter="url(#blr1)"/>
<ellipse cx="495.19" cy="117.25" rx="2.36" ry="1.01" fill="#dd6b3c" opacity="0.4" filter="url(#blr1)"/>
<ellipse cx="473.28" cy="126.23" rx="3.31" ry="1.82" fill="#dd6b3c" opacity="0.4" filter="url(#blr1)"/>
<ellipse cx="498.26" cy="118.09" rx="1.80" ry="1.19" fill="#dd6b3c" opacity="0.4" filter="url(#blr1)"/>
<ellipse cx="482.09" cy="114.58" rx="2.69" ry="2.29" fill="#f6bf90" opacity="0.6" filter="url(#blr1)"/>
<ellipse cx="497.98" cy="105.94" rx="1.87" ry="1.15" fill="#f6bf90" opacity="0.6" filter="url(#blr1)"/>
<ellipse cx="494.79" cy="114.40" rx="2.11" ry="1.93" fill="#f6bf90" opacity="0.6" filter="url(#blr1)"/>
<path d="M476.58,125.78 q2.92,5.93 1.86,9.53" stroke="#dd6b3c" stroke-width="0.8" fill="none" opacity="0.55"/>
<path d="M472.57,121.31 q-1.34,5.79 1.81,9.46" stroke="#dd6b3c" stroke-width="0.8" fill="none" opacity="0.55"/>
<path d="M496.85,110.46 q2.30,3.32 2.23,9.43" stroke="#dd6b3c" stroke-width="0.8" fill="none" opacity="0.55"/>
<ellipse cx="489.00" cy="110.00" rx="4.5" ry="9" fill="#6a3a36" opacity="0.7" filter="url(#blr1)"/>
<rect x="467.80" y="98.30" width="38.90" height="35.10" filter="url(#tex)" opacity="0.55"/>
<rect x="467.80" y="98.30" width="38.90" height="35.10" filter="url(#tex2)" opacity="0.5"/>
<path d="M487.25,101.11 C485.75,110.58 488.75,119.36 487.25,128.13" stroke="#7a3a30" stroke-width="1.8" fill="none" opacity="0.75" filter="url(#blr)"/>
</g></g>
</g>
<g clip-path="url(#cp12)">
<rect x="523.4" y="87.8" width="58.39999999999998" height="50.7" fill="#506b4a"/>
<line x1="528.85" y1="87.80" x2="528.85" y2="138.50" stroke="#c2e4bf" stroke-width="0.85" opacity="0.85"/>
<line x1="543.85" y1="87.80" x2="543.85" y2="138.50" stroke="#c2e4bf" stroke-width="0.85" opacity="0.85"/>
<line x1="558.85" y1="87.80" x2="558.85" y2="138.50" stroke="#c2e4bf" stroke-width="0.85" opacity="0.85"/>
<line x1="573.85" y1="87.80" x2="573.85" y2="138.50" stroke="#c2e4bf" stroke-width="0.85" opacity="0.85"/>
<line x1="523.40" y1="99.78" x2="581.80" y2="99.78" stroke="#c2e4bf" stroke-width="0.85" opacity="0.85"/>
<line x1="523.40" y1="114.78" x2="581.80" y2="114.78" stroke="#c2e4bf" stroke-width="0.85" opacity="0.85"/>
<line x1="523.40" y1="129.78" x2="581.80" y2="129.78" stroke="#c2e4bf" stroke-width="0.85" opacity="0.85"/>
<ellipse cx="555.55" cy="115.25" rx="21.55" ry="20.85" fill="#2c4429" opacity="0.6" filter="url(#blr2)"/>
<g filter="url(#blr)">
<path d="M555.55,98.54 C550.28,96.40 541.86,96.40 539.75,105.33 C536.95,113.54 538.00,120.68 539.40,127.10 C541.51,133.17 552.04,133.17 555.55,126.74 C559.06,133.17 569.59,133.17 571.70,127.10 C573.10,120.68 574.15,113.54 571.35,105.33 C569.24,96.40 560.82,96.40 555.55,98.54 Z" fill="url(#lg12)"/>
<g clip-path="url(#lc12)">
<ellipse cx="554.39" cy="108.85" rx="3.09" ry="1.34" fill="#de6535" opacity="0.4" filter="url(#blr1)"/>
<ellipse cx="541.69" cy="105.75" rx="2.16" ry="2.30" fill="#de6535" opacity="0.4" filter="url(#blr1)"/>
<ellipse cx="569.14" cy="108.13" rx="2.78" ry="1.60" fill="#de6535" opacity="0.4" filter="url(#blr1)"/>
<ellipse cx="569.55" cy="115.25" rx="3.38" ry="1.17" fill="#de6535" opacity="0.4" filter="url(#blr1)"/>
<ellipse cx="569.24" cy="105.35" rx="3.43" ry="1.40" fill="#de6535" opacity="0.4" filter="url(#blr1)"/>
<ellipse cx="544.15" cy="112.44" rx="2.96" ry="1.47" fill="#de6535" opacity="0.4" filter="url(#blr1)"/>
<ellipse cx="558.00" cy="107.97" rx="2.08" ry="1.86" fill="#f6b981" opacity="0.6" filter="url(#blr1)"/>
<ellipse cx="549.88" cy="110.51" rx="1.50" ry="2.39" fill="#f6b981" opacity="0.6" filter="url(#blr1)"/>
<ellipse cx="556.44" cy="110.64" rx="2.61" ry="2.01" fill="#f6b981" opacity="0.6" filter="url(#blr1)"/>
<path d="M551.87,104.06 q1.31,3.99 -1.12,9.39" stroke="#de6535" stroke-width="0.8" fill="none" opacity="0.55"/>
<path d="M561.51,109.52 q-1.53,4.23 -0.59,7.18" stroke="#de6535" stroke-width="0.8" fill="none" opacity="0.55"/>
<path d="M545.45,112.36 q3.52,5.03 2.42,8.46" stroke="#de6535" stroke-width="0.8" fill="none" opacity="0.55"/>
<ellipse cx="555.00" cy="107.00" rx="3" ry="6" fill="#7a3a30" opacity="0.7" filter="url(#blr1)"/>
<rect x="538.00" y="96.40" width="35.10" height="35.70" filter="url(#tex)" opacity="0.55"/>
<rect x="538.00" y="96.40" width="35.10" height="35.70" filter="url(#tex2)" opacity="0.5"/>
<path d="M555.55,99.26 C554.05,108.89 557.05,117.82 555.55,126.74" stroke="#8a3a30" stroke-width="1.8" fill="none" opacity="0.75" filter="url(#blr)"/>
</g></g>
</g>
<g clip-path="url(#cp13)">
<rect x="588.5" y="87.8" width="58.299999999999955" height="50.7" fill="#506b4a"/>
<line x1="594.81" y1="87.80" x2="594.81" y2="138.50" stroke="#c2e4bf" stroke-width="0.85" opacity="0.85"/>
<line x1="609.81" y1="87.80" x2="609.81" y2="138.50" stroke="#c2e4bf" stroke-width="0.85" opacity="0.85"/>
<line x1="624.81" y1="87.80" x2="624.81" y2="138.50" stroke="#c2e4bf" stroke-width="0.85" opacity="0.85"/>
<line x1="639.81" y1="87.80" x2="639.81" y2="138.50" stroke="#c2e4bf" stroke-width="0.85" opacity="0.85"/>
<line x1="588.50" y1="96.83" x2="646.80" y2="96.83" stroke="#c2e4bf" stroke-width="0.85" opacity="0.85"/>
<line x1="588.50" y1="111.83" x2="646.80" y2="111.83" stroke="#c2e4bf" stroke-width="0.85" opacity="0.85"/>
<line x1="588.50" y1="126.83" x2="646.80" y2="126.83" stroke="#c2e4bf" stroke-width="0.85" opacity="0.85"/>
<ellipse cx="615.55" cy="115.40" rx="24.55" ry="23.90" fill="#2c4429" opacity="0.6" filter="url(#blr2)"/>
<g filter="url(#blr)">
<path d="M615.55,96.01 C609.38,93.50 601.58,93.50 599.11,103.95 C595.82,113.56 595.00,121.92 596.64,129.45 C599.11,136.55 611.44,136.55 615.55,126.94 C619.66,136.55 631.99,136.55 634.46,129.45 C636.10,121.92 635.28,113.56 631.99,103.95 C629.52,93.50 621.72,93.50 615.55,96.01 Z" fill="url(#lg13)"/>
<g clip-path="url(#lc13)">
<ellipse cx="598.01" cy="107.20" rx="2.36" ry="1.87" fill="#e27944" opacity="0.4" filter="url(#blr1)"/>
<ellipse cx="620.98" cy="113.22" rx="2.38" ry="1.32" fill="#e27944" opacity="0.4" filter="url(#blr1)"/>
<ellipse cx="614.61" cy="127.96" rx="3.09" ry="1.25" fill="#e27944" opacity="0.4" filter="url(#blr1)"/>
<ellipse cx="600.98" cy="114.92" rx="2.77" ry="1.50" fill="#e27944" opacity="0.4" filter="url(#blr1)"/>
<ellipse cx="626.73" cy="122.89" rx="2.85" ry="1.34" fill="#e27944" opacity="0.4" filter="url(#blr1)"/>
<ellipse cx="604.99" cy="98.33" rx="1.99" ry="1.71" fill="#e27944" opacity="0.4" filter="url(#blr1)"/>
<ellipse cx="625.73" cy="99.66" rx="2.12" ry="1.94" fill="#f8ce9f" opacity="0.6" filter="url(#blr1)"/>
<ellipse cx="606.66" cy="109.57" rx="2.24" ry="1.37" fill="#f8ce9f" opacity="0.6" filter="url(#blr1)"/>
<ellipse cx="620.09" cy="98.59" rx="2.63" ry="2.16" fill="#f8ce9f" opacity="0.6" filter="url(#blr1)"/>
<path d="M602.53,112.17 q-2.59,5.87 0.11,6.20" stroke="#e27944" stroke-width="0.8" fill="none" opacity="0.55"/>
<path d="M607.25,124.78 q-0.35,5.40 1.01,9.95" stroke="#e27944" stroke-width="0.8" fill="none" opacity="0.55"/>
<path d="M618.71,127.81 q3.13,4.84 1.32,8.02" stroke="#e27944" stroke-width="0.8" fill="none" opacity="0.55"/>
<ellipse cx="615.00" cy="100.00" rx="7" ry="4" fill="#7a4438" opacity="0.75" filter="url(#blr1)"/>
<rect x="595.00" y="93.50" width="41.10" height="41.80" filter="url(#tex)" opacity="0.55"/>
<rect x="595.00" y="93.50" width="41.10" height="41.80" filter="url(#tex2)" opacity="0.5"/>
<path d="M615.55,96.84 C614.05,108.13 617.05,118.58 615.55,126.94" stroke="#8a4438" stroke-width="1.8" fill="none" opacity="0.75" filter="url(#blr)"/>
</g></g>
</g>
<g clip-path="url(#cp20)">
<rect x="392.8" y="144.9" width="59.39999999999998" height="50.599999999999994" fill="#506b4a"/>
<line x1="404.94" y1="144.90" x2="404.94" y2="195.50" stroke="#c2e4bf" stroke-width="0.85" opacity="0.85"/>
<line x1="419.94" y1="144.90" x2="419.94" y2="195.50" stroke="#c2e4bf" stroke-width="0.85" opacity="0.85"/>
<line x1="434.94" y1="144.90" x2="434.94" y2="195.50" stroke="#c2e4bf" stroke-width="0.85" opacity="0.85"/>
<line x1="449.94" y1="144.90" x2="449.94" y2="195.50" stroke="#c2e4bf" stroke-width="0.85" opacity="0.85"/>
<line x1="392.80" y1="153.93" x2="452.20" y2="153.93" stroke="#c2e4bf" stroke-width="0.85" opacity="0.85"/>
<line x1="392.80" y1="168.93" x2="452.20" y2="168.93" stroke="#c2e4bf" stroke-width="0.85" opacity="0.85"/>
<line x1="392.80" y1="183.93" x2="452.20" y2="183.93" stroke="#c2e4bf" stroke-width="0.85" opacity="0.85"/>
<ellipse cx="422.55" cy="170.35" rx="25.55" ry="24.65" fill="#2c4429" opacity="0.6" filter="url(#blr2)"/>
<g filter="url(#blr)">
<path d="M422.55,150.30 C416.08,147.70 407.03,147.70 404.45,158.52 C401.00,168.48 401.00,177.14 402.72,184.94 C405.31,192.30 418.24,192.30 422.55,186.67 C426.86,192.30 439.79,192.30 442.38,184.94 C444.10,177.14 444.10,168.48 440.65,158.52 C438.07,147.70 429.01,147.70 422.55,150.30 Z" fill="url(#lg20)"/>
<g clip-path="url(#lc20)">
<ellipse cx="437.29" cy="177.95" rx="2.45" ry="1.39" fill="#eb9962" opacity="0.4" filter="url(#blr1)"/>
<ellipse cx="413.17" cy="174.21" rx="3.03" ry="1.78" fill="#eb9962" opacity="0.4" filter="url(#blr1)"/>
<ellipse cx="427.25" cy="161.39" rx="1.65" ry="1.43" fill="#eb9962" opacity="0.4" filter="url(#blr1)"/>
<ellipse cx="414.08" cy="162.99" rx="2.58" ry="1.21" fill="#eb9962" opacity="0.4" filter="url(#blr1)"/>
<ellipse cx="412.58" cy="176.20" rx="2.91" ry="1.10" fill="#eb9962" opacity="0.4" filter="url(#blr1)"/>
<ellipse cx="419.12" cy="170.85" rx="2.33" ry="1.31" fill="#eb9962" opacity="0.4" filter="url(#blr1)"/>
<ellipse cx="420.07" cy="167.77" rx="2.38" ry="2.04" fill="#fad8ac" opacity="0.6" filter="url(#blr1)"/>
<ellipse cx="433.64" cy="165.45" rx="2.07" ry="1.01" fill="#fad8ac" opacity="0.6" filter="url(#blr1)"/>
<ellipse cx="417.94" cy="165.25" rx="2.78" ry="2.43" fill="#fad8ac" opacity="0.6" filter="url(#blr1)"/>
<path d="M419.71,177.10 q0.37,4.81 -1.68,6.88" stroke="#eb9962" stroke-width="0.8" fill="none" opacity="0.55"/>
<path d="M420.30,154.61 q-1.31,5.04 -0.57,6.66" stroke="#eb9962" stroke-width="0.8" fill="none" opacity="0.55"/>
<path d="M421.41,157.69 q0.98,3.08 -0.64,8.26" stroke="#eb9962" stroke-width="0.8" fill="none" opacity="0.55"/>
<ellipse cx="421.00" cy="162.00" rx="2.5" ry="9" fill="#9a6a58" opacity="0.55" filter="url(#blr1)"/>
<ellipse cx="421.00" cy="180.00" rx="2" ry="5" fill="#a06a58" opacity="0.5" filter="url(#blr1)"/>
<rect x="401.00" y="147.70" width="43.10" height="43.30" filter="url(#tex)" opacity="0.55"/>
<rect x="401.00" y="147.70" width="43.10" height="43.30" filter="url(#tex2)" opacity="0.5"/>
<path d="M422.55,151.16 C421.05,162.85 424.05,173.68 422.55,186.67" stroke="#9a6a58" stroke-width="1.8" fill="none" opacity="0.75" filter="url(#blr)"/>
</g></g>
</g>
<g clip-path="url(#cp21)">
<rect x="458.5" y="144.9" width="58.299999999999955" height="50.599999999999994" fill="#506b4a"/>
<line x1="461.80" y1="144.90" x2="461.80" y2="195.50" stroke="#c2e4bf" stroke-width="0.85" opacity="0.85"/>
<line x1="476.80" y1="144.90" x2="476.80" y2="195.50" stroke="#c2e4bf" stroke-width="0.85" opacity="0.85"/>
<line x1="491.80" y1="144.90" x2="491.80" y2="195.50" stroke="#c2e4bf" stroke-width="0.85" opacity="0.85"/>
<line x1="506.80" y1="144.90" x2="506.80" y2="195.50" stroke="#c2e4bf" stroke-width="0.85" opacity="0.85"/>
<line x1="458.50" y1="154.97" x2="516.80" y2="154.97" stroke="#c2e4bf" stroke-width="0.85" opacity="0.85"/>
<line x1="458.50" y1="169.97" x2="516.80" y2="169.97" stroke="#c2e4bf" stroke-width="0.85" opacity="0.85"/>
<line x1="458.50" y1="184.97" x2="516.80" y2="184.97" stroke="#c2e4bf" stroke-width="0.85" opacity="0.85"/>
<ellipse cx="486.30" cy="170.50" rx="24.40" ry="23.90" fill="#2c4429" opacity="0.6" filter="url(#blr2)"/>
<g filter="url(#blr)">
<path d="M486.30,151.11 C480.18,148.60 471.20,148.60 468.76,159.05 C465.49,168.66 465.90,177.02 467.53,184.55 C469.98,191.65 482.22,191.65 486.30,185.38 C490.38,191.65 502.62,191.65 505.07,184.55 C506.70,177.02 507.11,168.66 503.84,159.05 C501.40,148.60 492.42,148.60 486.30,151.11 Z" fill="url(#lg21)"/>
<g clip-path="url(#lc21)">
<ellipse cx="473.62" cy="168.21" rx="1.60" ry="1.57" fill="#e98b57" opacity="0.4" filter="url(#blr1)"/>
<ellipse cx="476.27" cy="163.65" rx="3.02" ry="1.57" fill="#e98b57" opacity="0.4" filter="url(#blr1)"/>
<ellipse cx="495.07" cy="180.72" rx="2.00" ry="1.12" fill="#e98b57" opacity="0.4" filter="url(#blr1)"/>
<ellipse cx="469.57" cy="170.83" rx="3.50" ry="1.52" fill="#e98b57" opacity="0.4" filter="url(#blr1)"/>
<ellipse cx="491.53" cy="179.01" rx="2.80" ry="2.13" fill="#e98b57" opacity="0.4" filter="url(#blr1)"/>
<ellipse cx="501.95" cy="159.34" rx="1.54" ry="1.23" fill="#e98b57" opacity="0.4" filter="url(#blr1)"/>
<ellipse cx="475.54" cy="164.24" rx="2.35" ry="1.33" fill="#fad8ab" opacity="0.6" filter="url(#blr1)"/>
<ellipse cx="492.04" cy="165.79" rx="1.75" ry="1.91" fill="#fad8ab" opacity="0.6" filter="url(#blr1)"/>
<ellipse cx="493.44" cy="155.42" rx="2.73" ry="2.45" fill="#fad8ab" opacity="0.6" filter="url(#blr1)"/>
<path d="M473.45,155.37 q-1.50,5.03 2.75,7.59" stroke="#e98b57" stroke-width="0.8" fill="none" opacity="0.55"/>
<path d="M493.35,156.86 q1.52,4.88 -2.39,9.09" stroke="#e98b57" stroke-width="0.8" fill="none" opacity="0.55"/>
<path d="M497.79,172.49 q-3.03,5.95 1.70,7.39" stroke="#e98b57" stroke-width="0.8" fill="none" opacity="0.55"/>
<ellipse cx="487.00" cy="158.00" rx="5" ry="6" fill="#6a4a44" opacity="0.7" filter="url(#blr1)"/>
<rect x="465.90" y="148.60" width="40.80" height="41.80" filter="url(#tex)" opacity="0.55"/>
<rect x="465.90" y="148.60" width="40.80" height="41.80" filter="url(#tex2)" opacity="0.5"/>
<path d="M486.30,151.94 C484.80,163.23 487.80,173.68 486.30,185.38" stroke="#8a4a40" stroke-width="1.8" fill="none" opacity="0.75" filter="url(#blr)"/>
</g></g>
</g>
<g clip-path="url(#cp22)">
<rect x="523.4" y="144.9" width="58.39999999999998" height="50.599999999999994" fill="#506b4a"/>
<line x1="531.11" y1="144.90" x2="531.11" y2="195.50" stroke="#c2e4bf" stroke-width="0.85" opacity="0.85"/>
<line x1="546.11" y1="144.90" x2="546.11" y2="195.50" stroke="#c2e4bf" stroke-width="0.85" opacity="0.85"/>
<line x1="561.11" y1="144.90" x2="561.11" y2="195.50" stroke="#c2e4bf" stroke-width="0.85" opacity="0.85"/>
<line x1="576.11" y1="144.90" x2="576.11" y2="195.50" stroke="#c2e4bf" stroke-width="0.85" opacity="0.85"/>
<line x1="523.40" y1="151.98" x2="581.80" y2="151.98" stroke="#c2e4bf" stroke-width="0.85" opacity="0.85"/>
<line x1="523.40" y1="166.98" x2="581.80" y2="166.98" stroke="#c2e4bf" stroke-width="0.85" opacity="0.85"/>
<line x1="523.40" y1="181.98" x2="581.80" y2="181.98" stroke="#c2e4bf" stroke-width="0.85" opacity="0.85"/>
<ellipse cx="553.70" cy="171.45" rx="24.40" ry="21.05" fill="#2c4429" opacity="0.6" filter="url(#blr2)"/>
<g filter="url(#blr)">
<path d="M553.70,154.57 C547.58,152.40 537.79,152.40 535.34,161.43 C532.08,169.73 533.30,176.95 534.93,183.45 C537.38,189.58 549.62,189.58 553.70,182.00 C557.78,189.58 570.02,189.58 572.47,183.45 C574.10,176.95 575.32,169.73 572.06,161.43 C569.61,152.40 559.82,152.40 553.70,154.57 Z" fill="url(#lg22)"/>
<g clip-path="url(#lc22)">
<ellipse cx="553.91" cy="165.99" rx="3.20" ry="2.23" fill="#e4793a" opacity="0.4" filter="url(#blr1)"/>
<ellipse cx="539.97" cy="183.40" rx="2.77" ry="2.24" fill="#e4793a" opacity="0.4" filter="url(#blr1)"/>
<ellipse cx="560.91" cy="168.64" rx="2.97" ry="2.45" fill="#e4793a" opacity="0.4" filter="url(#blr1)"/>
<ellipse cx="545.70" cy="179.11" rx="2.58" ry="1.73" fill="#e4793a" opacity="0.4" filter="url(#blr1)"/>
<ellipse cx="551.46" cy="176.94" rx="2.04" ry="2.28" fill="#e4793a" opacity="0.4" filter="url(#blr1)"/>
<ellipse cx="565.21" cy="158.84" rx="3.26" ry="1.37" fill="#e4793a" opacity="0.4" filter="url(#blr1)"/>
<ellipse cx="552.68" cy="165.36" rx="2.07" ry="1.04" fill="#f8d188" opacity="0.6" filter="url(#blr1)"/>
<ellipse cx="563.81" cy="159.77" rx="1.82" ry="2.20" fill="#f8d188" opacity="0.6" filter="url(#blr1)"/>
<ellipse cx="549.10" cy="168.89" rx="2.55" ry="1.41" fill="#f8d188" opacity="0.6" filter="url(#blr1)"/>
<path d="M537.63,181.25 q-3.32,5.16 -0.07,9.03" stroke="#e4793a" stroke-width="0.8" fill="none" opacity="0.55"/>
<path d="M559.95,173.97 q-0.07,5.38 -2.44,6.89" stroke="#e4793a" stroke-width="0.8" fill="none" opacity="0.55"/>
<path d="M559.99,165.78 q0.65,4.42 0.19,7.70" stroke="#e4793a" stroke-width="0.8" fill="none" opacity="0.55"/>
<ellipse cx="553.00" cy="166.00" rx="5" ry="7" fill="#6a4038" opacity="0.7" filter="url(#blr1)"/>
<rect x="533.30" y="152.40" width="40.80" height="36.10" filter="url(#tex)" opacity="0.55"/>
<rect x="533.30" y="152.40" width="40.80" height="36.10" filter="url(#tex2)" opacity="0.5"/>
<path d="M553.70,155.29 C552.20,165.03 555.20,174.06 553.70,182.00" stroke="#8a4a38" stroke-width="1.8" fill="none" opacity="0.75" filter="url(#blr)"/>
</g></g>
</g>
<g clip-path="url(#cp23)">
<rect x="588.5" y="144.9" width="58.299999999999955" height="50.599999999999994" fill="#506b4a"/>
<line x1="599.71" y1="144.90" x2="599.71" y2="195.50" stroke="#c2e4bf" stroke-width="0.85" opacity="0.85"/>
<line x1="614.71" y1="144.90" x2="614.71" y2="195.50" stroke="#c2e4bf" stroke-width="0.85" opacity="0.85"/>
<line x1="629.71" y1="144.90" x2="629.71" y2="195.50" stroke="#c2e4bf" stroke-width="0.85" opacity="0.85"/>
<line x1="644.71" y1="144.90" x2="644.71" y2="195.50" stroke="#c2e4bf" stroke-width="0.85" opacity="0.85"/>
<line x1="588.50" y1="151.54" x2="646.80" y2="151.54" stroke="#c2e4bf" stroke-width="0.85" opacity="0.85"/>
<line x1="588.50" y1="166.54" x2="646.80" y2="166.54" stroke="#c2e4bf" stroke-width="0.85" opacity="0.85"/>
<line x1="588.50" y1="181.54" x2="646.80" y2="181.54" stroke="#c2e4bf" stroke-width="0.85" opacity="0.85"/>
<ellipse cx="617.90" cy="172.40" rx="26.00" ry="22.90" fill="#2c4429" opacity="0.6" filter="url(#blr2)"/>
<g filter="url(#blr)">
<path d="M617.90,153.89 C611.30,151.50 600.74,151.50 598.10,161.45 C594.58,170.60 595.90,178.56 597.66,185.73 C600.30,192.49 613.50,192.49 617.90,183.34 C622.30,192.49 635.50,192.49 638.14,185.73 C639.90,178.56 641.22,170.60 637.70,161.45 C635.06,151.50 624.50,151.50 617.90,153.89 Z" fill="url(#lg23)"/>
<g clip-path="url(#lc23)">
<ellipse cx="625.61" cy="164.12" rx="2.00" ry="1.18" fill="#e45526" opacity="0.4" filter="url(#blr1)"/>
<ellipse cx="606.22" cy="159.30" rx="2.57" ry="2.14" fill="#e45526" opacity="0.4" filter="url(#blr1)"/>
<ellipse cx="605.94" cy="162.38" rx="2.47" ry="2.09" fill="#e45526" opacity="0.4" filter="url(#blr1)"/>
<ellipse cx="636.01" cy="172.18" rx="2.07" ry="1.15" fill="#e45526" opacity="0.4" filter="url(#blr1)"/>
<ellipse cx="606.28" cy="162.73" rx="1.86" ry="1.02" fill="#e45526" opacity="0.4" filter="url(#blr1)"/>
<ellipse cx="619.20" cy="164.22" rx="3.45" ry="1.83" fill="#e45526" opacity="0.4" filter="url(#blr1)"/>
<ellipse cx="624.22" cy="158.38" rx="2.80" ry="1.74" fill="#f89b73" opacity="0.6" filter="url(#blr1)"/>
<ellipse cx="629.83" cy="165.05" rx="2.20" ry="1.66" fill="#f89b73" opacity="0.6" filter="url(#blr1)"/>
<ellipse cx="607.80" cy="157.27" rx="2.91" ry="1.72" fill="#f89b73" opacity="0.6" filter="url(#blr1)"/>
<path d="M629.50,168.64 q-3.41,4.89 -2.68,6.60" stroke="#e45526" stroke-width="0.8" fill="none" opacity="0.55"/>
<path d="M620.16,165.95 q3.95,3.36 1.59,8.43" stroke="#e45526" stroke-width="0.8" fill="none" opacity="0.55"/>
<path d="M628.37,163.77 q0.18,4.35 -0.34,9.44" stroke="#e45526" stroke-width="0.8" fill="none" opacity="0.55"/>
<ellipse cx="617.00" cy="162.00" rx="2.5" ry="8" fill="#b04a3a" opacity="0.6" filter="url(#blr1)"/>
<rect x="595.90" y="151.50" width="44.00" height="39.80" filter="url(#tex)" opacity="0.55"/>
<rect x="595.90" y="151.50" width="44.00" height="39.80" filter="url(#tex2)" opacity="0.5"/>
<path d="M617.90,154.68 C616.40,165.43 619.40,175.38 617.90,183.34" stroke="#b04a3a" stroke-width="1.8" fill="none" opacity="0.75" filter="url(#blr)"/>
</g></g>
</g>
<circle cx="675.00" cy="352.40" r="3.1" fill="#8b8fd7" stroke="none" stroke-width="1"/>
<text transform="translate(671.2,380.3) rotate(90)" font-size="11.4" text-anchor="middle" fill="#1c1c1c">ICR</text>
<rect x="672.2" y="488.6" width="6.6" height="6.6" fill="#eea13f"/>
<text transform="translate(671.2,534) rotate(90)" font-size="11.4" text-anchor="middle" fill="#1c1c1c">IFNAR1<tspan font-size="8" dy="-4">-/-</tspan></text>
<polygon points="672.2,646.4 678.6,649.7 672.2,653" fill="#f07c88"/>
<text transform="translate(671.2,681.8) rotate(90)" font-size="11.4" text-anchor="middle" fill="#1c1c1c">SCID</text>
<text x="6.50" y="826.10" font-size="23.5" text-anchor="start" font-weight="bold" fill="#000" stroke="#000" stroke-width="0.5">i</text>
<line x1="56.60" y1="840.60" x2="56.60" y2="975.30" stroke="#1c1c1c" stroke-width="1.5" />
<line x1="55.90" y1="974.60" x2="319.20" y2="974.60" stroke="#1c1c1c" stroke-width="1.5" />
<line x1="51.10" y1="974.60" x2="56.60" y2="974.60" stroke="#1c1c1c" stroke-width="1.4" />
<text x="49.30" y="978.20" font-size="10.2" text-anchor="end" font-weight="normal" fill="#1c1c1c" >0</text>
<line x1="51.10" y1="947.86" x2="56.60" y2="947.86" stroke="#1c1c1c" stroke-width="1.4" />
<text x="49.30" y="951.46" font-size="10.2" text-anchor="end" font-weight="normal" fill="#1c1c1c" >2</text>
<line x1="51.10" y1="921.12" x2="56.60" y2="921.12" stroke="#1c1c1c" stroke-width="1.4" />
<text x="49.30" y="924.72" font-size="10.2" text-anchor="end" font-weight="normal" fill="#1c1c1c" >4</text>
<line x1="51.10" y1="894.38" x2="56.60" y2="894.38" stroke="#1c1c1c" stroke-width="1.4" />
<text x="49.30" y="897.98" font-size="10.2" text-anchor="end" font-weight="normal" fill="#1c1c1c" >6</text>
<line x1="51.10" y1="867.64" x2="56.60" y2="867.64" stroke="#1c1c1c" stroke-width="1.4" />
<text x="49.30" y="871.24" font-size="10.2" text-anchor="end" font-weight="normal" fill="#1c1c1c" >8</text>
<line x1="51.10" y1="840.90" x2="56.60" y2="840.90" stroke="#1c1c1c" stroke-width="1.4" />
<text x="49.30" y="844.50" font-size="10.2" text-anchor="end" font-weight="normal" fill="#1c1c1c" >10</text>
<line x1="63.90" y1="974.60" x2="63.90" y2="979.10" stroke="#1c1c1c" stroke-width="1.3" />
<text x="63.90" y="991.30" font-size="10.5" text-anchor="middle" font-weight="normal" fill="#1c1c1c" >0</text>
<line x1="81.54" y1="974.60" x2="81.54" y2="979.10" stroke="#1c1c1c" stroke-width="1.3" />
<text x="81.54" y="991.30" font-size="10.5" text-anchor="middle" font-weight="normal" fill="#1c1c1c" >2</text>
<line x1="99.18" y1="974.60" x2="99.18" y2="979.10" stroke="#1c1c1c" stroke-width="1.3" />
<text x="99.18" y="991.30" font-size="10.5" text-anchor="middle" font-weight="normal" fill="#1c1c1c" >4</text>
<line x1="116.82" y1="974.60" x2="116.82" y2="979.10" stroke="#1c1c1c" stroke-width="1.3" />
<text x="116.82" y="991.30" font-size="10.5" text-anchor="middle" font-weight="normal" fill="#1c1c1c" >6</text>
<line x1="134.46" y1="974.60" x2="134.46" y2="979.10" stroke="#1c1c1c" stroke-width="1.3" />
<text x="134.46" y="991.30" font-size="10.5" text-anchor="middle" font-weight="normal" fill="#1c1c1c" >8</text>
<line x1="152.10" y1="974.60" x2="152.10" y2="979.10" stroke="#1c1c1c" stroke-width="1.3" />
<text x="152.10" y="991.30" font-size="10.5" text-anchor="middle" font-weight="normal" fill="#1c1c1c" >10</text>
<line x1="169.74" y1="974.60" x2="169.74" y2="979.10" stroke="#1c1c1c" stroke-width="1.3" />
<text x="169.74" y="991.30" font-size="10.5" text-anchor="middle" font-weight="normal" fill="#1c1c1c" >12</text>
<line x1="187.38" y1="974.60" x2="187.38" y2="979.10" stroke="#1c1c1c" stroke-width="1.3" />
<text x="187.38" y="991.30" font-size="10.5" text-anchor="middle" font-weight="normal" fill="#1c1c1c" >14</text>
<line x1="205.02" y1="974.60" x2="205.02" y2="979.10" stroke="#1c1c1c" stroke-width="1.3" />
<text x="205.02" y="991.30" font-size="10.5" text-anchor="middle" font-weight="normal" fill="#1c1c1c" >16</text>
<line x1="222.66" y1="974.60" x2="222.66" y2="979.10" stroke="#1c1c1c" stroke-width="1.3" />
<text x="222.66" y="991.30" font-size="10.5" text-anchor="middle" font-weight="normal" fill="#1c1c1c" >18</text>
<line x1="240.30" y1="974.60" x2="240.30" y2="979.10" stroke="#1c1c1c" stroke-width="1.3" />
<text x="240.30" y="991.30" font-size="10.5" text-anchor="middle" font-weight="normal" fill="#1c1c1c" >20</text>
<line x1="257.94" y1="974.60" x2="257.94" y2="979.10" stroke="#1c1c1c" stroke-width="1.3" />
<text x="257.94" y="991.30" font-size="10.5" text-anchor="middle" font-weight="normal" fill="#1c1c1c" >22</text>
<line x1="275.58" y1="974.60" x2="275.58" y2="979.10" stroke="#1c1c1c" stroke-width="1.3" />
<text x="275.58" y="991.30" font-size="10.5" text-anchor="middle" font-weight="normal" fill="#1c1c1c" >24</text>
<line x1="293.22" y1="974.60" x2="293.22" y2="979.10" stroke="#1c1c1c" stroke-width="1.3" />
<text x="293.22" y="991.30" font-size="10.5" text-anchor="middle" font-weight="normal" fill="#1c1c1c" >26</text>
<line x1="310.86" y1="974.60" x2="310.86" y2="979.10" stroke="#1c1c1c" stroke-width="1.3" />
<text x="310.86" y="991.30" font-size="10.5" text-anchor="middle" font-weight="normal" fill="#1c1c1c" >28</text>
<text x="317.36" y="991.30" font-size="10.5" text-anchor="start" font-weight="normal" fill="#1c1c1c" >dpi</text>
<text transform="translate(32,908.2) rotate(-90)" font-size="10.9" font-weight="bold" text-anchor="middle" fill="#1c1c1c">Disease Score</text>
<rect x="64.40" y="973.00" width="5" height="2.2" fill="#888"/>
<rect x="58.60" y="972.40" width="4.8" height="2.6" fill="#f07c88"/>
<rect x="82.04" y="973.00" width="5" height="2.2" fill="#888"/>
<rect x="76.24" y="972.40" width="4.8" height="2.6" fill="#f07c88"/>
<rect x="99.68" y="973.00" width="5" height="2.2" fill="#888"/>
<rect x="93.88" y="972.40" width="4.8" height="2.6" fill="#f07c88"/>
<rect x="117.32" y="973.00" width="5" height="2.2" fill="#888"/>
<rect x="111.52" y="972.40" width="4.8" height="2.6" fill="#f07c88"/>
<rect x="134.96" y="973.00" width="5" height="2.2" fill="#888"/>
<rect x="129.16" y="972.40" width="4.8" height="2.6" fill="#f07c88"/>
<rect x="152.60" y="973.00" width="5" height="2.2" fill="#888"/>
<rect x="146.80" y="972.40" width="4.8" height="2.6" fill="#f07c88"/>
<rect x="170.24" y="973.00" width="5" height="2.2" fill="#888"/>
<line x1="166.84" y1="966.85" x2="166.84" y2="961.23" stroke="#f07c88" stroke-width="0.9" />
<line x1="164.84" y1="961.23" x2="168.84" y2="961.23" stroke="#f07c88" stroke-width="0.9" />
<rect x="164.64" y="966.85" width="4.4" height="7.75" fill="#f4a9b1" stroke="#f07c88" stroke-width="1"/>
<rect x="164.74" y="959.63" width="4.2" height="3.2" fill="#f07c88" opacity="0.75"/>
<rect x="164.74" y="973.00" width="4.2" height="3.2" fill="#f07c88" opacity="0.75"/>
<rect x="164.74" y="973.00" width="4.2" height="3.2" fill="#f07c88" opacity="0.75"/>
<rect x="164.74" y="959.63" width="4.2" height="3.2" fill="#f07c88" opacity="0.75"/>
<circle cx="166.84" cy="961.23" r="2" fill="#f07c88" stroke="none" stroke-width="1"/>
<rect x="187.88" y="973.00" width="5" height="2.2" fill="#888"/>
<line x1="184.48" y1="971.93" x2="184.48" y2="963.90" stroke="#f07c88" stroke-width="0.9" />
<line x1="182.48" y1="963.90" x2="186.48" y2="963.90" stroke="#f07c88" stroke-width="0.9" />
<rect x="182.28" y="971.93" width="4.4" height="2.67" fill="white" stroke="#f07c88" stroke-width="1"/>
<rect x="182.38" y="959.63" width="4.2" height="3.2" fill="#f07c88" opacity="0.75"/>
<rect x="182.38" y="973.00" width="4.2" height="3.2" fill="#f07c88" opacity="0.75"/>
<rect x="182.38" y="973.00" width="4.2" height="3.2" fill="#f07c88" opacity="0.75"/>
<rect x="182.38" y="973.00" width="4.2" height="3.2" fill="#f07c88" opacity="0.75"/>
<circle cx="184.48" cy="961.23" r="2" fill="#f07c88" stroke="none" stroke-width="1"/>
<rect x="205.52" y="973.00" width="5" height="2.2" fill="#888"/>
<line x1="202.12" y1="969.92" x2="202.12" y2="962.57" stroke="#f07c88" stroke-width="0.9" />
<line x1="200.12" y1="962.57" x2="204.12" y2="962.57" stroke="#f07c88" stroke-width="0.9" />
<rect x="199.92" y="969.92" width="4.4" height="4.68" fill="white" stroke="#f07c88" stroke-width="1"/>
<rect x="200.02" y="959.63" width="4.2" height="3.2" fill="#f07c88" opacity="0.75"/>
<rect x="200.02" y="973.00" width="4.2" height="3.2" fill="#f07c88" opacity="0.75"/>
<rect x="200.02" y="973.00" width="4.2" height="3.2" fill="#f07c88" opacity="0.75"/>
<rect x="200.02" y="967.65" width="4.2" height="3.2" fill="#f07c88" opacity="0.75"/>
<circle cx="202.12" cy="961.23" r="2" fill="#f07c88" stroke="none" stroke-width="1"/>
<rect x="223.16" y="973.00" width="5" height="2.2" fill="#888"/>
<line x1="219.76" y1="969.92" x2="219.76" y2="962.57" stroke="#f07c88" stroke-width="0.9" />
<line x1="217.76" y1="962.57" x2="221.76" y2="962.57" stroke="#f07c88" stroke-width="0.9" />
<rect x="217.56" y="969.92" width="4.4" height="4.68" fill="white" stroke="#f07c88" stroke-width="1"/>
<rect x="217.66" y="959.63" width="4.2" height="3.2" fill="#f07c88" opacity="0.75"/>
<rect x="217.66" y="973.00" width="4.2" height="3.2" fill="#f07c88" opacity="0.75"/>
<rect x="217.66" y="973.00" width="4.2" height="3.2" fill="#f07c88" opacity="0.75"/>
<rect x="217.66" y="967.65" width="4.2" height="3.2" fill="#f07c88" opacity="0.75"/>
<circle cx="219.76" cy="961.23" r="2" fill="#f07c88" stroke="none" stroke-width="1"/>
<rect x="240.80" y="973.00" width="5" height="2.2" fill="#888"/>
<line x1="237.40" y1="942.11" x2="237.40" y2="931.82" stroke="#f07c88" stroke-width="0.9" />
<line x1="235.40" y1="931.82" x2="239.40" y2="931.82" stroke="#f07c88" stroke-width="0.9" />
<rect x="235.20" y="942.11" width="4.4" height="32.49" fill="white" stroke="#f07c88" stroke-width="1"/>
<rect x="235.30" y="932.89" width="4.2" height="3.2" fill="#f07c88" opacity="0.75"/>
<rect x="235.30" y="932.89" width="4.2" height="3.2" fill="#f07c88" opacity="0.75"/>
<rect x="235.30" y="946.26" width="4.2" height="3.2" fill="#f07c88" opacity="0.75"/>
<rect x="235.30" y="946.26" width="4.2" height="3.2" fill="#f07c88" opacity="0.75"/>
<rect x="235.30" y="959.63" width="4.2" height="3.2" fill="#f07c88" opacity="0.75"/>
<circle cx="237.40" cy="934.49" r="2" fill="#f07c88" stroke="none" stroke-width="1"/>
<rect x="258.44" y="973.00" width="5" height="2.2" fill="#888"/>
<line x1="255.04" y1="940.51" x2="255.04" y2="934.49" stroke="#f07c88" stroke-width="0.9" />
<line x1="253.04" y1="934.49" x2="257.04" y2="934.49" stroke="#f07c88" stroke-width="0.9" />
<rect x="252.84" y="940.51" width="4.4" height="34.09" fill="white" stroke="#f07c88" stroke-width="1"/>
<rect x="252.94" y="932.89" width="4.2" height="3.2" fill="#f07c88" opacity="0.75"/>
<rect x="252.94" y="932.89" width="4.2" height="3.2" fill="#f07c88" opacity="0.75"/>
<rect x="252.94" y="946.26" width="4.2" height="3.2" fill="#f07c88" opacity="0.75"/>
<rect x="252.94" y="946.26" width="4.2" height="3.2" fill="#f07c88" opacity="0.75"/>
<circle cx="255.04" cy="934.49" r="2" fill="#f07c88" stroke="none" stroke-width="1"/>
<rect x="276.08" y="973.00" width="5" height="2.2" fill="#888"/>
<line x1="272.68" y1="938.50" x2="272.68" y2="934.49" stroke="#f07c88" stroke-width="0.9" />
<line x1="270.68" y1="934.49" x2="274.68" y2="934.49" stroke="#f07c88" stroke-width="0.9" />
<rect x="270.48" y="938.50" width="4.4" height="36.10" fill="white" stroke="#f07c88" stroke-width="1"/>
<rect x="270.58" y="932.89" width="4.2" height="3.2" fill="#f07c88" opacity="0.75"/>
<rect x="270.58" y="932.89" width="4.2" height="3.2" fill="#f07c88" opacity="0.75"/>
<rect x="270.58" y="946.26" width="4.2" height="3.2" fill="#f07c88" opacity="0.75"/>
<rect x="270.58" y="939.58" width="4.2" height="3.2" fill="#f07c88" opacity="0.75"/>
<circle cx="272.68" cy="934.49" r="2" fill="#f07c88" stroke="none" stroke-width="1"/>
<rect x="293.72" y="973.00" width="5" height="2.2" fill="#888"/>
<line x1="290.32" y1="898.39" x2="290.32" y2="882.35" stroke="#f07c88" stroke-width="0.9" />
<line x1="288.32" y1="882.35" x2="292.32" y2="882.35" stroke="#f07c88" stroke-width="0.9" />
<rect x="288.12" y="898.39" width="4.4" height="76.21" fill="white" stroke="#f07c88" stroke-width="1"/>
<rect x="288.22" y="879.41" width="4.2" height="3.2" fill="#f07c88" opacity="0.75"/>
<rect x="288.22" y="906.15" width="4.2" height="3.2" fill="#f07c88" opacity="0.75"/>
<rect x="288.22" y="906.15" width="4.2" height="3.2" fill="#f07c88" opacity="0.75"/>
<rect x="288.22" y="899.47" width="4.2" height="3.2" fill="#f07c88" opacity="0.75"/>
<circle cx="290.32" cy="881.01" r="2" fill="#f07c88" stroke="none" stroke-width="1"/>
<rect x="311.36" y="973.00" width="5" height="2.2" fill="#888"/>
<line x1="307.96" y1="888.36" x2="307.96" y2="875.66" stroke="#f07c88" stroke-width="0.9" />
<line x1="305.96" y1="875.66" x2="309.96" y2="875.66" stroke="#f07c88" stroke-width="0.9" />
<rect x="305.76" y="888.36" width="4.4" height="86.24" fill="white" stroke="#f07c88" stroke-width="1"/>
<rect x="305.86" y="879.41" width="4.2" height="3.2" fill="#f07c88" opacity="0.75"/>
<rect x="305.86" y="879.41" width="4.2" height="3.2" fill="#f07c88" opacity="0.75"/>
<rect x="305.86" y="898.13" width="4.2" height="3.2" fill="#f07c88" opacity="0.75"/>
<rect x="305.86" y="906.15" width="4.2" height="3.2" fill="#f07c88" opacity="0.75"/>
<circle cx="307.96" cy="881.01" r="2" fill="#f07c88" stroke="none" stroke-width="1"/>
<circle cx="75.70" cy="859.00" r="1.8" fill="#f07c88" stroke="none" stroke-width="1"/>
<text x="90.60" y="863.00" font-size="11" text-anchor="start" font-weight="normal" fill="#1c1c1c" >SCID</text>
<rect x="74.2" y="875.2" width="3" height="3" fill="#666"/>
<text x="90.60" y="880.90" font-size="11" text-anchor="start" font-weight="normal" fill="#1c1c1c" >Control</text>
<text x="339.10" y="826.80" font-size="23.5" text-anchor="start" font-weight="bold" fill="#000" stroke="#000" stroke-width="0.5">j</text>
<polyline points="629.53,853.20 638.32,853.20" fill="none" stroke="#555" stroke-width="1.1" />
<line x1="638.32" y1="853.20" x2="638.32" y2="850.20" stroke="#555" stroke-width="1" />
<polyline points="392.20,853.20 629.53,853.20 629.53,868.33 638.32,868.33 638.32,883.45" fill="none" stroke="#f07c88" stroke-width="1.1" />
<line x1="400.99" y1="853.20" x2="400.99" y2="850.20" stroke="#f07c88" stroke-width="1" />
<line x1="409.78" y1="853.20" x2="409.78" y2="850.20" stroke="#f07c88" stroke-width="1" />
<line x1="418.57" y1="853.20" x2="418.57" y2="850.20" stroke="#f07c88" stroke-width="1" />
<line x1="427.36" y1="853.20" x2="427.36" y2="850.20" stroke="#f07c88" stroke-width="1" />
<line x1="436.15" y1="853.20" x2="436.15" y2="850.20" stroke="#f07c88" stroke-width="1" />
<line x1="444.94" y1="853.20" x2="444.94" y2="850.20" stroke="#f07c88" stroke-width="1" />
<line x1="453.73" y1="853.20" x2="453.73" y2="850.20" stroke="#f07c88" stroke-width="1" />
<line x1="462.52" y1="853.20" x2="462.52" y2="850.20" stroke="#f07c88" stroke-width="1" />
<line x1="471.31" y1="853.20" x2="471.31" y2="850.20" stroke="#f07c88" stroke-width="1" />
<line x1="480.10" y1="853.20" x2="480.10" y2="850.20" stroke="#f07c88" stroke-width="1" />
<line x1="488.89" y1="853.20" x2="488.89" y2="850.20" stroke="#f07c88" stroke-width="1" />
<line x1="497.68" y1="853.20" x2="497.68" y2="850.20" stroke="#f07c88" stroke-width="1" />
<line x1="506.47" y1="853.20" x2="506.47" y2="850.20" stroke="#f07c88" stroke-width="1" />
<line x1="515.26" y1="853.20" x2="515.26" y2="850.20" stroke="#f07c88" stroke-width="1" />
<line x1="524.05" y1="853.20" x2="524.05" y2="850.20" stroke="#f07c88" stroke-width="1" />
<line x1="532.84" y1="853.20" x2="532.84" y2="850.20" stroke="#f07c88" stroke-width="1" />
<line x1="541.63" y1="853.20" x2="541.63" y2="850.20" stroke="#f07c88" stroke-width="1" />
<line x1="550.42" y1="853.20" x2="550.42" y2="850.20" stroke="#f07c88" stroke-width="1" />
<line x1="559.21" y1="853.20" x2="559.21" y2="850.20" stroke="#f07c88" stroke-width="1" />
<line x1="568.00" y1="853.20" x2="568.00" y2="850.20" stroke="#f07c88" stroke-width="1" />
<line x1="576.79" y1="853.20" x2="576.79" y2="850.20" stroke="#f07c88" stroke-width="1" />
<line x1="585.58" y1="853.20" x2="585.58" y2="850.20" stroke="#f07c88" stroke-width="1" />
<line x1="594.37" y1="853.20" x2="594.37" y2="850.20" stroke="#f07c88" stroke-width="1" />
<line x1="603.16" y1="853.20" x2="603.16" y2="850.20" stroke="#f07c88" stroke-width="1" />
<line x1="611.95" y1="853.20" x2="611.95" y2="850.20" stroke="#f07c88" stroke-width="1" />
<line x1="620.74" y1="853.20" x2="620.74" y2="850.20" stroke="#f07c88" stroke-width="1" />
<line x1="629.53" y1="868.33" x2="629.53" y2="865.83" stroke="#f07c88" stroke-width="1" />
<line x1="638.32" y1="883.45" x2="638.32" y2="880.95" stroke="#f07c88" stroke-width="1" />
<line x1="392.20" y1="840.10" x2="392.20" y2="974.90" stroke="#1c1c1c" stroke-width="1.5" />
<line x1="391.50" y1="974.20" x2="656.60" y2="974.20" stroke="#1c1c1c" stroke-width="1.5" />
<line x1="386.60" y1="974.20" x2="392.20" y2="974.20" stroke="#1c1c1c" stroke-width="1.3" />
<line x1="389.20" y1="968.15" x2="392.20" y2="968.15" stroke="#1c1c1c" stroke-width="1.3" />
<line x1="389.20" y1="962.10" x2="392.20" y2="962.10" stroke="#1c1c1c" stroke-width="1.3" />
<line x1="389.20" y1="956.05" x2="392.20" y2="956.05" stroke="#1c1c1c" stroke-width="1.3" />
<line x1="389.20" y1="950.00" x2="392.20" y2="950.00" stroke="#1c1c1c" stroke-width="1.3" />
<line x1="389.20" y1="943.95" x2="392.20" y2="943.95" stroke="#1c1c1c" stroke-width="1.3" />
<line x1="389.20" y1="937.90" x2="392.20" y2="937.90" stroke="#1c1c1c" stroke-width="1.3" />
<line x1="389.20" y1="931.85" x2="392.20" y2="931.85" stroke="#1c1c1c" stroke-width="1.3" />
<line x1="389.20" y1="925.80" x2="392.20" y2="925.80" stroke="#1c1c1c" stroke-width="1.3" />
<line x1="389.20" y1="919.75" x2="392.20" y2="919.75" stroke="#1c1c1c" stroke-width="1.3" />
<line x1="386.60" y1="913.70" x2="392.20" y2="913.70" stroke="#1c1c1c" stroke-width="1.3" />
<line x1="389.20" y1="907.65" x2="392.20" y2="907.65" stroke="#1c1c1c" stroke-width="1.3" />
<line x1="389.20" y1="901.60" x2="392.20" y2="901.60" stroke="#1c1c1c" stroke-width="1.3" />
<line x1="389.20" y1="895.55" x2="392.20" y2="895.55" stroke="#1c1c1c" stroke-width="1.3" />
<line x1="389.20" y1="889.50" x2="392.20" y2="889.50" stroke="#1c1c1c" stroke-width="1.3" />
<line x1="389.20" y1="883.45" x2="392.20" y2="883.45" stroke="#1c1c1c" stroke-width="1.3" />
<line x1="389.20" y1="877.40" x2="392.20" y2="877.40" stroke="#1c1c1c" stroke-width="1.3" />
<line x1="389.20" y1="871.35" x2="392.20" y2="871.35" stroke="#1c1c1c" stroke-width="1.3" />
<line x1="389.20" y1="865.30" x2="392.20" y2="865.30" stroke="#1c1c1c" stroke-width="1.3" />
<line x1="389.20" y1="859.25" x2="392.20" y2="859.25" stroke="#1c1c1c" stroke-width="1.3" />
<line x1="386.60" y1="853.20" x2="392.20" y2="853.20" stroke="#1c1c1c" stroke-width="1.3" />
<line x1="389.20" y1="847.15" x2="392.20" y2="847.15" stroke="#1c1c1c" stroke-width="1.3" />
<line x1="389.20" y1="841.10" x2="392.20" y2="841.10" stroke="#1c1c1c" stroke-width="1.3" />
<text x="387.30" y="977.80" font-size="10.2" text-anchor="end" font-weight="normal" fill="#1c1c1c" >0</text>
<text x="387.30" y="917.30" font-size="10.2" text-anchor="end" font-weight="normal" fill="#1c1c1c" >50</text>
<text x="387.30" y="856.80" font-size="10.2" text-anchor="end" font-weight="normal" fill="#1c1c1c" >100</text>
<line x1="392.20" y1="974.20" x2="392.20" y2="979.80" stroke="#1c1c1c" stroke-width="1.3" />
<line x1="400.99" y1="974.20" x2="400.99" y2="977.20" stroke="#1c1c1c" stroke-width="1.3" />
<line x1="409.78" y1="974.20" x2="409.78" y2="977.20" stroke="#1c1c1c" stroke-width="1.3" />
<line x1="418.57" y1="974.20" x2="418.57" y2="977.20" stroke="#1c1c1c" stroke-width="1.3" />
<line x1="427.36" y1="974.20" x2="427.36" y2="977.20" stroke="#1c1c1c" stroke-width="1.3" />
<line x1="436.15" y1="974.20" x2="436.15" y2="977.20" stroke="#1c1c1c" stroke-width="1.3" />
<line x1="444.94" y1="974.20" x2="444.94" y2="977.20" stroke="#1c1c1c" stroke-width="1.3" />
<line x1="453.73" y1="974.20" x2="453.73" y2="977.20" stroke="#1c1c1c" stroke-width="1.3" />
<line x1="462.52" y1="974.20" x2="462.52" y2="977.20" stroke="#1c1c1c" stroke-width="1.3" />
<line x1="471.31" y1="974.20" x2="471.31" y2="977.20" stroke="#1c1c1c" stroke-width="1.3" />
<line x1="480.10" y1="974.20" x2="480.10" y2="979.80" stroke="#1c1c1c" stroke-width="1.3" />
<line x1="488.89" y1="974.20" x2="488.89" y2="977.20" stroke="#1c1c1c" stroke-width="1.3" />
<line x1="497.68" y1="974.20" x2="497.68" y2="977.20" stroke="#1c1c1c" stroke-width="1.3" />
<line x1="506.47" y1="974.20" x2="506.47" y2="977.20" stroke="#1c1c1c" stroke-width="1.3" />
<line x1="515.26" y1="974.20" x2="515.26" y2="977.20" stroke="#1c1c1c" stroke-width="1.3" />
<line x1="524.05" y1="974.20" x2="524.05" y2="977.20" stroke="#1c1c1c" stroke-width="1.3" />
<line x1="532.84" y1="974.20" x2="532.84" y2="977.20" stroke="#1c1c1c" stroke-width="1.3" />
<line x1="541.63" y1="974.20" x2="541.63" y2="977.20" stroke="#1c1c1c" stroke-width="1.3" />
<line x1="550.42" y1="974.20" x2="550.42" y2="977.20" stroke="#1c1c1c" stroke-width="1.3" />
<line x1="559.21" y1="974.20" x2="559.21" y2="977.20" stroke="#1c1c1c" stroke-width="1.3" />
<line x1="568.00" y1="974.20" x2="568.00" y2="979.80" stroke="#1c1c1c" stroke-width="1.3" />
<line x1="576.79" y1="974.20" x2="576.79" y2="977.20" stroke="#1c1c1c" stroke-width="1.3" />
<line x1="585.58" y1="974.20" x2="585.58" y2="977.20" stroke="#1c1c1c" stroke-width="1.3" />
<line x1="594.37" y1="974.20" x2="594.37" y2="977.20" stroke="#1c1c1c" stroke-width="1.3" />
<line x1="603.16" y1="974.20" x2="603.16" y2="977.20" stroke="#1c1c1c" stroke-width="1.3" />
<line x1="611.95" y1="974.20" x2="611.95" y2="977.20" stroke="#1c1c1c" stroke-width="1.3" />
<line x1="620.74" y1="974.20" x2="620.74" y2="977.20" stroke="#1c1c1c" stroke-width="1.3" />
<line x1="629.53" y1="974.20" x2="629.53" y2="977.20" stroke="#1c1c1c" stroke-width="1.3" />
<line x1="638.32" y1="974.20" x2="638.32" y2="977.20" stroke="#1c1c1c" stroke-width="1.3" />
<line x1="647.11" y1="974.20" x2="647.11" y2="977.20" stroke="#1c1c1c" stroke-width="1.3" />
<line x1="655.90" y1="974.20" x2="655.90" y2="979.80" stroke="#1c1c1c" stroke-width="1.3" />
<text x="389.28" y="991.30" font-size="10.5" fill="#1c1c1c">0<tspan dx="1">dpi</tspan></text>
<text x="474.26" y="991.30" font-size="10.5" fill="#1c1c1c">10<tspan dx="1">dpi</tspan></text>
<text x="562.16" y="991.30" font-size="10.5" fill="#1c1c1c">20<tspan dx="1">dpi</tspan></text>
<text x="650.06" y="991.30" font-size="10.5" fill="#1c1c1c">30<tspan dx="1">dpi</tspan></text>
<text transform="translate(361.3,953.4) rotate(-90)" font-size="10.9" font-weight="bold" text-anchor="start" fill="#1c1c1c">Survival rate<tspan dx="5.4">(</tspan><tspan dx="1.6">%</tspan><tspan dx="1.2">)</tspan></text>
<line x1="411.20" y1="929.30" x2="425.10" y2="929.30" stroke="#f07c88" stroke-width="1.1" />
<line x1="418.20" y1="929.30" x2="418.20" y2="926.50" stroke="#f07c88" stroke-width="1" />
<text x="433.10" y="933.20" font-size="11" text-anchor="start" font-weight="normal" fill="#1c1c1c" >SCID</text>
<line x1="411.20" y1="947.20" x2="425.10" y2="947.20" stroke="#555" stroke-width="1.1" />
<line x1="418.20" y1="947.20" x2="418.20" y2="944.40" stroke="#555" stroke-width="1" />
<text x="433.10" y="951.10" font-size="11" text-anchor="start" font-weight="normal" fill="#1c1c1c" >Control</text>
</svg></body></html>
